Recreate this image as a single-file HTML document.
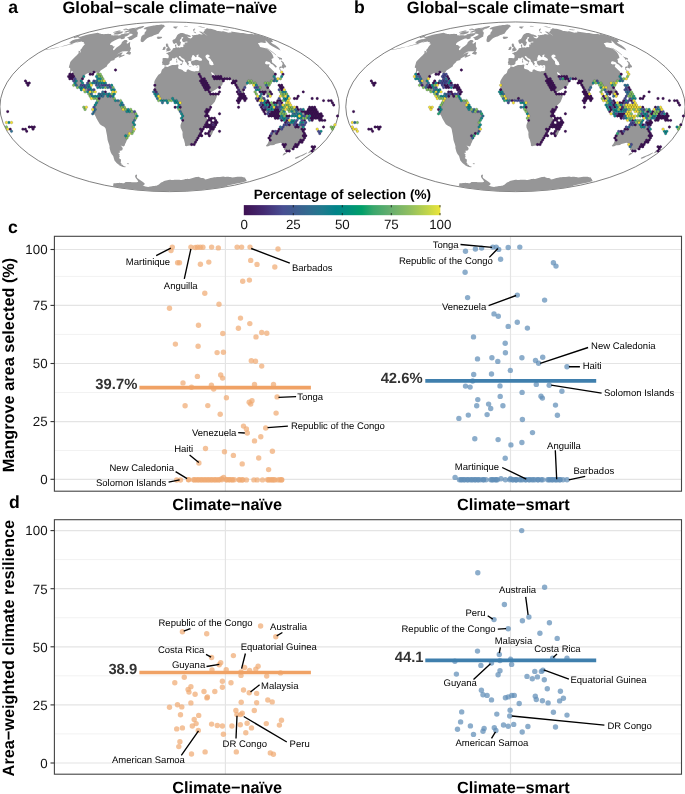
<!DOCTYPE html>
<html><head><meta charset="utf-8"><title>Figure</title>
<style>
html,body{margin:0;padding:0;background:#fff;}
svg{display:block;font-family:"Liberation Sans", sans-serif;will-change:transform;}
text{text-rendering:geometricPrecision;}
.b{font-weight:bold;}
.tk{font-size:13.33px;fill:#151515;}
.lb{font-size:9.5px;fill:#000;}
.ax{font-size:16.3px;font-weight:bold;fill:#000;}
.mn{font-size:14.8px;font-weight:bold;fill:#333;}
</style></head><body>
<svg width="685" height="794" viewBox="0 0 685 794">
<rect width="685" height="794" fill="#fff"/>
<defs><g id="land"><path d="M78.9,37.2 86.1,35.0 89.2,34.3 92.2,33.7 95.0,33.2 97.8,32.7 98.2,32.9 98.6,33.0 99.1,33.2 99.5,33.4 100.1,33.6 100.7,33.8 101.4,34.0 102.1,34.1 102.9,34.1 103.7,34.2 105.3,34.0 106.8,33.9 108.4,33.7 108.9,34.1 110.0,34.1 111.2,34.1 111.2,34.7 111.3,35.3 112.4,35.3 113.5,35.4 114.9,35.3 116.4,35.3 117.5,35.3 118.6,35.4 119.9,35.3 121.2,35.1 127.2,32.3 124.9,34.1 125.3,34.5 125.6,34.9 128.1,34.1 129.8,34.1 127.1,36.1 124.2,36.9 121.4,38.2 119.1,38.6 115.1,40.3 111.9,42.1 110.5,43.3 110.0,44.9 111.2,45.1 112.4,45.3 113.3,46.4 114.9,46.6 113.2,48.6 113.0,50.3 114.2,50.1 116.3,47.7 119.2,45.8 121.2,43.9 122.0,42.1 124.5,40.1 126.5,40.1 127.1,40.6 127.7,41.2 126.4,43.0 127.4,43.7 130.2,41.8 130.0,44.4 130.0,46.3 130.7,47.7 131.1,49.1 130.0,50.1 127.6,51.3 126.1,51.3 124.7,51.3 122.1,51.4 119.3,53.0 116.7,54.7 120.1,52.9 122.6,52.3 122.3,53.5 121.3,54.5 121.5,55.5 124.3,54.5 124.5,55.5 121.1,57.1 118.6,58.1 119.5,56.6 118.7,56.6 115.7,57.9 114.5,59.1 114.6,60.0 112.7,60.5 110.8,61.1 110.1,62.3 108.2,63.9 107.3,64.9 106.8,66.5 105.2,67.6 103.0,68.9 100.6,70.5 99.4,72.5 99.3,74.7 98.9,77.0 98.3,77.9 97.7,77.7 97.3,75.1 97.8,73.6 97.2,72.5 95.8,72.7 94.3,72.2 92.5,72.3 92.0,73.4 90.4,73.2 88.3,73.0 86.6,73.8 84.4,75.3 83.7,77.0 81.8,80.9 81.6,83.2 82.2,84.9 83.3,85.8 85.7,85.3 87.2,84.3 88.0,82.6 90.3,82.0 91.3,82.2 90.1,84.3 89.4,85.8 88.8,86.6 87.9,88.4 89.0,88.5 90.5,88.4 92.2,88.7 92.8,89.4 92.1,91.7 91.7,93.5 91.6,94.3 92.5,95.8 93.3,96.5 94.8,96.1 95.8,95.8 97.1,96.7 96.5,98.4 96.1,97.2 95.2,96.6 94.3,98.3 93.2,97.9 91.9,97.2 91.3,96.3 90.2,95.4 89.5,94.6 89.8,93.8 88.8,92.1 88.3,91.5 86.6,91.3 85.4,90.7 84.3,89.9 83.1,88.3 82.2,88.1 80.7,88.6 79.1,87.9 77.9,87.1 76.4,86.0 74.9,84.9 74.0,83.4 74.7,82.0 74.5,80.1 73.8,78.1 73.4,76.4 73.0,75.0 72.4,73.6 72.8,71.4 71.8,70.7 71.0,72.0 71.1,73.6 71.1,75.3 71.4,77.5 71.3,79.2 71.6,80.1 71.0,80.4 70.6,79.2 70.3,77.5 69.5,75.8 69.9,74.2 69.9,72.7 70.1,70.9 70.2,69.7 70.2,68.2 68.8,67.6 69.3,65.5 69.8,64.1 70.2,62.3 70.8,61.2 72.2,59.7 74.9,57.1 76.8,55.2 78.5,53.2 80.6,52.3 80.7,51.3 80.2,50.1 81.7,48.6 82.4,47.2 83.1,46.3 84.2,44.9 85.2,43.7 83.6,43.7 84.1,42.8 83.9,42.3 82.4,42.1 81.9,41.4 79.0,42.1 77.2,42.6 75.9,42.7 79.3,41.2 77.5,41.7 74.2,43.0 71.8,43.9 68.1,45.0 64.8,46.0 61.9,46.6 59.2,47.1 62.6,46.1 65.6,45.3 69.6,43.9 71.4,43.2 70.4,43.2 68.9,43.0 70.8,42.1 70.2,41.7 72.6,40.3 75.7,39.3 78.5,38.9 80.6,38.1 79.0,38.2 77.7,38.0ZM78.8,50.8 80.2,51.3 79.5,53.0 78.7,52.9 78.5,52.0ZM125.9,53.8 129.3,50.1 130.7,50.1 129.5,51.5 131.0,52.2 130.5,54.2 129.4,54.8 128.1,54.3ZM93.1,81.6 95.3,80.3 97.6,80.1 99.8,81.7 101.7,82.9 102.3,83.6 99.3,83.8 99.0,82.9 97.1,81.7 95.5,81.1ZM101.6,85.5 103.3,83.8 106.0,83.9 107.2,85.3 105.2,85.8 104.0,86.3 103.4,85.8ZM98.1,85.7 99.3,85.4 100.0,86.0 99.0,86.2ZM108.3,85.4 109.6,85.5 109.5,86.0 108.2,86.0ZM97.1,96.7 97.6,97.5 98.7,95.9 99.4,94.4 100.5,93.8 101.6,93.5 103.0,92.4 103.2,93.2 102.6,94.0 102.7,95.8 103.3,95.4 103.2,94.2 104.4,93.5 104.7,92.7 105.8,93.7 106.2,94.5 108.0,94.5 109.4,95.0 110.8,94.4 111.8,94.4 111.9,95.2 112.7,96.8 114.3,97.5 115.6,99.5 117.9,99.9 119.8,100.4 121.1,101.7 122.0,104.5 122.5,106.2 121.5,107.1 122.9,106.8 124.1,107.7 125.3,107.6 127.7,109.4 129.1,109.7 130.5,110.2 132.4,110.3 134.3,112.0 136.2,112.7 136.7,114.4 137.0,116.1 136.4,117.8 135.1,119.6 134.3,121.6 133.5,123.0 133.7,125.3 133.7,127.6 133.3,129.7 132.7,131.9 132.0,133.3 130.7,133.4 129.4,134.0 128.2,134.6 127.1,135.9 126.8,137.2 127.2,139.2 126.5,141.1 125.8,142.7 125.2,143.8 124.7,145.4 123.7,146.4 122.0,146.1 120.6,145.4 122.1,147.1 122.8,148.5 122.2,150.3 120.4,150.8 119.5,150.8 120.2,152.6 118.2,152.9 119.7,154.5 119.3,155.5 119.8,157.0 118.9,157.7 119.7,158.8 121.0,159.6 120.9,161.4 120.6,162.5 122.0,164.2 121.2,164.5 121.4,165.7 120.5,165.5 118.4,164.5 116.6,163.0 114.5,160.6 113.9,158.6 113.2,156.0 111.6,153.9 110.6,151.9 110.0,149.7 109.5,148.1 109.6,146.5 109.1,144.4 108.3,142.2 107.6,140.0 107.3,137.8 107.0,135.5 106.3,132.1 105.8,129.3 105.3,127.9 104.1,126.8 102.0,125.7 99.9,124.2 99.0,122.8 97.8,120.7 96.5,118.4 95.4,116.1 94.5,114.4 93.3,113.5 93.1,112.0 94.0,110.8 94.2,109.7 93.3,109.4 93.4,108.0 94.0,106.8 94.2,105.6 95.1,104.9 95.6,103.8 96.6,102.7 96.8,101.0 96.9,99.2 96.5,98.4ZM121.1,164.8 122.6,164.8 123.6,165.9 126.0,166.7 125.2,167.2 123.0,166.9 121.1,166.2 118.8,165.0ZM126.8,163.5 128.1,163.3 129.1,163.8 128.3,164.3 127.1,164.0ZM144.8,27.7 146.8,27.1 148.7,26.6 150.0,26.3 151.2,26.0 152.5,25.7 153.4,25.5 154.4,25.4 155.4,25.2 156.0,25.2 156.6,25.1 157.2,25.0 157.8,25.0 158.4,24.9 159.1,24.9 159.7,24.8 160.3,24.7 160.9,24.6 161.5,24.6 161.9,24.6 162.3,24.7 162.7,24.7 163.1,24.8 163.5,24.8 163.8,25.1 164.2,25.4 164.6,25.7 165.0,26.0 165.4,26.3 164.7,26.6 163.9,26.9 162.9,28.2 161.8,29.6 160.7,30.6 159.9,31.7 159.0,32.9 158.9,33.5 156.9,34.2 155.7,34.7 154.5,35.1 153.1,35.8 151.7,36.5 150.4,36.8 149.1,37.2 147.1,38.2 145.2,39.9 143.5,41.8 142.1,42.2 140.8,41.4 140.6,39.9 141.0,38.2 141.4,36.5 142.9,34.9 145.0,33.9 144.2,33.3 145.4,31.7 146.4,30.3 146.5,29.4 145.8,29.3 145.1,29.3 144.4,29.2 143.9,29.0 143.5,28.9 144.4,28.2ZM156.6,37.3 158.0,36.6 159.0,36.7 160.0,36.7 161.6,36.7 162.2,37.7 160.6,38.6 158.8,39.1 157.0,38.7 157.5,37.9ZM135.8,30.7 136.4,31.0 137.0,31.2 137.4,31.7 137.8,32.1 137.8,32.8 137.9,33.4 137.4,35.3 137.4,36.5 134.6,37.9 131.5,40.1 130.2,40.0 129.0,39.9 128.7,39.1 128.4,38.3 127.6,38.0 126.9,37.7 129.8,36.5 132.7,35.0 132.3,34.0 131.1,33.8 130.0,33.7 129.0,33.7 128.5,33.3 128.2,32.9 131.0,31.2 132.6,31.0 134.1,30.7 135.0,30.7ZM115.9,32.5 119.9,31.4 120.9,31.4 122.0,31.4 123.0,31.4 123.4,31.7 121.6,33.3 117.7,34.5 116.4,34.6 115.1,34.6 114.3,34.4 113.4,34.2 114.2,33.4ZM113.6,32.1 118.9,30.5 119.9,30.5 120.9,30.5 119.9,31.2 117.4,31.9 115.0,32.5 113.0,32.7ZM134.0,28.8 134.6,28.8 135.2,28.9 135.9,28.9 136.6,29.0 137.3,29.0 138.0,29.0 139.1,28.8 140.2,28.7 142.6,27.7 143.8,26.8 144.0,26.5 144.3,26.1 143.8,26.1 143.2,26.1 142.7,26.0 141.1,26.4 139.4,26.7 135.7,27.9ZM132.9,29.1 133.8,29.1 134.7,29.1 135.6,29.1 136.2,29.1 136.9,29.2 137.6,29.2 138.2,29.2 138.9,29.3 137.6,30.2 136.4,30.3 135.3,30.4 134.1,30.5 133.4,30.5 132.6,30.4 131.9,30.4 131.2,30.4 130.9,29.9ZM123.5,29.7 125.3,29.4 127.1,29.0 127.7,29.1 128.4,29.1 129.1,29.2 127.5,29.9 126.2,30.1 124.8,30.3 124.2,30.2 123.5,30.1ZM126.9,30.8 127.9,30.7 128.9,30.6 129.9,30.6 130.9,30.6 130.5,31.4 127.7,32.1 125.4,32.5 124.1,32.5 124.7,31.7ZM122.5,37.3 124.9,36.7 124.8,38.3 123.1,39.0 121.1,39.3 120.8,38.6ZM181.5,32.9 182.7,33.0 184.3,33.4 185.7,34.2 187.3,34.5 188.6,34.9 190.0,35.4 191.2,36.5 189.9,36.9 188.4,36.7 187.0,36.4 188.5,37.7 190.4,38.6 191.6,37.9 192.7,36.7 191.7,35.0 192.9,35.3 193.9,35.2 194.8,35.1 195.7,34.9 196.5,34.8 197.4,34.7 198.3,34.6 199.0,33.9 200.3,34.2 201.6,34.5 202.8,34.6 201.4,33.3 199.1,31.7 199.8,31.4 201.5,31.7 204.3,33.7 206.1,34.9 207.6,35.7 204.7,33.7 202.4,31.7 204.2,31.9 203.7,31.0 204.5,30.8 205.3,30.6 204.3,29.9 204.7,29.6 205.0,29.4 205.5,29.2 206.0,29.1 206.5,29.0 206.5,28.7 206.4,28.4 206.3,28.1 208.9,28.7 210.3,28.8 211.8,29.0 216.8,30.6 215.7,30.8 216.6,30.8 217.6,30.9 218.6,30.9 220.2,31.2 221.9,31.4 222.6,31.3 223.4,31.2 228.7,32.7 229.7,32.5 230.6,32.5 231.5,32.5 231.4,31.9 231.2,31.6 232.7,31.7 234.3,31.9 236.1,32.2 237.9,32.5 240.7,33.0 242.0,33.0 243.2,33.0 246.6,33.8 248.1,33.9 249.7,34.1 250.5,33.9 251.4,33.8 253.8,34.5 254.3,34.2 254.8,34.0 256.7,34.3 258.5,34.5 267.7,37.6 268.3,38.2 273.0,39.6 272.1,40.1 272.3,40.6 272.5,41.2 273.3,42.1 272.1,42.1 270.9,42.1 272.2,43.5 275.5,45.3 277.8,46.9 279.4,48.6 280.5,50.4 277.4,49.1 272.3,46.3 269.6,44.4 267.2,42.1 265.5,40.5 265.3,41.0 265.9,41.8 266.3,42.6 265.4,42.7 264.4,43.0 261.8,42.5 260.8,42.6 259.9,42.7 258.9,42.9 257.9,43.0 258.6,44.2 259.3,45.3 260.1,46.9 263.6,47.7 266.4,48.6 268.5,50.1 270.8,52.0 272.2,54.0 273.1,56.1 273.6,57.9 272.4,58.6 271.4,59.1 272.1,60.7 271.9,61.7 272.2,62.6 274.9,64.4 276.9,66.4 276.1,67.4 275.4,67.6 273.7,65.5 272.3,64.2 271.2,63.9 269.8,62.2 267.0,61.2 267.5,62.8 266.7,61.1 265.7,61.5 265.1,62.8 265.0,63.4 266.9,64.6 268.1,64.2 269.8,64.6 269.2,65.5 268.9,66.7 270.6,68.2 272.1,69.8 274.0,71.4 274.4,72.5 275.1,73.1 275.7,74.7 275.3,76.1 275.3,77.5 274.6,78.9 274.2,79.9 273.2,80.7 272.0,81.1 271.0,81.8 269.7,82.1 269.4,83.3 268.5,82.0 266.9,81.9 266.2,83.2 265.8,84.5 267.0,86.2 269.0,88.3 270.3,90.0 271.1,92.3 270.9,93.8 269.4,94.6 269.2,95.8 267.9,96.7 267.6,95.2 266.2,94.6 264.9,92.9 263.4,92.1 263.1,91.3 262.3,91.4 262.5,93.5 262.2,95.2 262.7,96.1 263.5,97.2 264.2,98.7 265.2,99.5 266.2,100.4 266.9,101.8 267.1,103.7 267.8,105.2 267.2,105.3 266.2,104.5 265.0,103.4 264.4,102.1 263.9,100.4 263.5,99.1 262.4,97.7 261.7,97.5 261.5,95.8 261.5,93.5 260.7,91.2 259.8,89.4 259.3,87.8 258.4,87.1 257.5,88.5 256.4,88.3 256.0,86.2 254.9,84.5 253.2,82.8 252.1,81.1 250.8,80.7 249.7,81.7 248.1,82.2 248.3,83.4 247.3,84.2 246.3,85.7 245.2,87.6 243.5,88.6 243.7,90.6 244.2,92.3 244.1,94.8 243.5,96.0 242.8,96.5 242.2,97.4 241.2,96.3 240.2,93.7 239.0,91.7 238.2,89.4 237.1,87.7 236.1,84.9 235.5,83.2 235.0,82.0 233.8,82.8 231.6,81.1 232.4,80.6 230.9,80.0 229.4,78.4 228.5,77.6 226.8,77.9 224.1,78.0 221.8,77.6 220.2,77.2 219.2,75.8 217.5,76.3 216.1,75.8 214.6,75.0 213.3,73.3 211.8,72.2 211.0,72.5 211.8,74.2 213.0,75.5 213.8,76.4 214.7,78.1 215.1,77.2 215.4,78.6 216.8,79.0 218.1,78.9 219.0,77.0 219.8,78.6 220.9,79.5 222.2,79.9 223.3,80.9 222.8,82.9 222.2,84.9 221.2,86.0 220.0,87.1 217.9,88.1 215.7,89.4 213.6,90.8 211.4,92.0 210.0,92.1 209.3,90.0 208.7,87.7 207.5,85.7 205.8,83.4 204.7,81.7 204.0,79.8 202.6,77.7 201.2,75.8 200.1,74.5 199.8,74.7 199.8,73.1 199.5,74.7 198.8,74.4 197.7,72.5 197.2,71.1 198.7,71.1 199.2,69.8 199.4,67.6 199.2,65.5 197.9,65.1 196.4,65.8 194.8,65.1 193.5,65.7 192.1,64.9 191.1,63.3 191.0,62.3 190.5,61.5 191.5,61.2 192.6,60.7 194.1,60.5 195.9,59.7 197.5,60.0 199.3,60.7 201.3,60.7 202.3,60.1 201.4,58.6 199.5,57.3 198.1,56.6 198.5,55.3 198.5,54.3 197.2,55.0 196.0,55.9 197.0,56.6 195.6,57.2 194.5,56.1 193.5,55.0 192.4,55.2 192.1,56.3 191.6,57.6 191.3,58.8 191.8,60.2 190.4,60.9 188.6,61.0 188.4,61.7 187.7,61.4 188.4,62.8 189.1,63.6 188.4,64.4 188.7,65.5 188.0,65.5 187.2,64.4 186.5,62.8 185.1,61.4 184.8,59.9 184.0,59.1 181.9,58.0 180.6,56.4 179.9,56.0 178.9,56.3 179.1,57.4 180.1,58.1 180.9,59.3 182.2,59.9 184.4,61.5 183.1,61.2 183.0,62.8 182.7,63.9 182.4,63.9 182.6,62.5 181.8,61.5 180.7,60.9 179.4,60.2 177.8,58.7 177.4,57.7 176.3,57.2 175.4,57.8 174.3,58.5 172.7,58.1 172.0,59.1 172.1,59.9 170.2,60.9 169.4,62.3 169.8,63.1 169.0,64.3 168.0,65.1 165.9,65.2 165.0,66.0 164.3,65.1 163.5,64.7 162.3,64.9 162.5,63.3 161.9,63.0 162.6,60.7 162.5,58.6 163.4,57.9 165.4,58.1 167.3,58.2 168.3,58.2 168.7,56.9 168.7,55.5 167.7,54.2 166.3,53.6 166.2,53.0 167.4,52.7 168.5,52.8 168.3,51.8 169.6,52.1 170.7,51.4 171.4,50.5 172.1,50.2 172.7,49.1 173.0,48.3 174.4,48.1 175.4,47.9 175.4,46.7 174.9,45.3 175.2,44.7 176.3,44.2 176.3,45.5 176.2,46.4 176.9,47.7 177.7,47.5 178.7,47.3 179.3,47.8 180.7,47.2 182.0,47.0 182.9,47.3 183.5,46.4 183.2,44.9 183.9,44.2 185.2,44.6 184.9,43.7 184.2,42.8 185.6,42.5 186.8,42.5 187.9,42.1 186.8,41.5 185.3,41.8 183.7,42.2 182.5,41.5 182.1,40.3 181.9,39.3 182.9,38.2 183.4,37.6 182.5,37.1 181.5,37.2 181.5,38.3 180.5,39.3 179.9,40.3 179.9,41.4 181.1,42.1 180.7,43.2 180.2,44.9 180.0,45.6 179.1,45.8 178.2,46.3 177.9,45.5 176.7,43.5 176.1,42.7 175.2,43.4 174.3,43.9 173.2,43.3 172.6,41.7 172.5,40.3 173.6,39.5 175.0,38.9 175.7,37.9 176.3,36.9 177.0,35.5 177.6,34.7 178.5,33.9 179.6,33.6 180.6,33.1ZM165.7,51.5 167.1,51.3 168.9,50.9 170.5,50.4 170.8,48.9 169.8,48.6 169.5,47.5 168.6,46.5 168.2,45.8 168.3,44.4 167.4,44.2 167.7,43.4 166.5,43.4 165.8,44.4 166.0,45.8 166.4,46.9 167.5,46.9 167.6,48.1 166.5,48.4 166.5,49.3 166.0,49.8 167.1,50.2 166.4,50.6ZM162.6,49.9 164.0,50.0 165.2,49.4 165.5,48.1 165.7,46.9 164.6,46.4 163.9,47.2 162.9,47.5 163.1,48.6 162.4,49.4ZM173.0,26.8 173.6,26.7 174.2,26.6 174.9,26.5 175.6,26.4 176.2,26.4 176.8,26.4 177.4,26.4 178.2,26.9 177.7,27.1 177.2,27.3 176.7,27.5 176.2,28.7 175.1,28.5 173.7,27.7ZM193.2,32.7 194.6,32.9 196.3,33.2 195.3,32.1 193.5,31.2 193.2,30.3 193.3,29.7 193.3,29.2 193.7,29.0 194.1,28.8 194.5,28.6 195.4,29.0 195.1,29.3 194.7,29.6 194.3,29.9 194.3,30.5 194.2,31.0 194.9,32.1 194.6,32.4ZM200.7,27.2 197.4,26.0 199.1,26.3 200.8,26.6 202.6,26.9 205.3,27.7 204.8,27.8 204.2,27.9 202.4,27.5ZM223.6,29.7 223.0,29.2 224.2,29.3 225.4,29.5 226.6,29.6 227.8,29.7 228.9,29.8 229.0,30.1 228.1,30.2 227.3,30.2 226.4,30.2ZM251.7,32.7 251.6,32.5 253.5,33.0 252.8,33.0ZM183.8,26.4 184.1,26.2 184.4,26.1 184.8,25.9 185.0,25.8 185.8,25.9 186.6,25.9 187.4,26.0 188.0,26.6 187.4,26.6 186.8,26.6 186.2,26.6 185.6,26.6 184.7,26.5ZM265.2,47.4 267.7,48.6 272.1,51.5 275.8,54.5 276.3,55.5 273.8,53.5 269.9,50.6 266.9,48.6ZM279.9,60.2 279.0,58.6 276.8,56.2 279.1,57.3 282.0,58.3 282.1,59.7 280.2,59.3ZM281.1,60.4 283.6,62.3 284.3,63.9 286.0,66.0 286.2,67.1 285.2,67.4 284.1,67.5 283.7,68.7 281.7,67.6 280.4,68.2 279.5,68.2 281.1,70.3 280.8,71.1 279.3,69.2 279.1,67.8 280.0,66.5 282.0,66.4 281.9,64.9 282.7,64.4 282.3,62.8 280.9,61.2ZM277.3,80.3 276.8,77.9 277.7,78.1 278.3,80.3 278.3,81.5ZM268.5,84.6 269.4,83.7 270.5,84.2 270.0,85.7 268.9,85.4ZM244.2,95.5 244.8,95.8 246.3,98.1 246.1,99.5 245.1,99.9 244.3,98.1ZM179.8,63.9 182.2,63.6 182.0,65.2 180.0,64.4ZM176.2,60.7 177.1,60.5 177.4,62.6 176.5,62.8ZM176.3,59.2 176.9,58.6 177.1,60.2 176.5,60.2ZM189.1,66.4 191.5,66.7 191.3,67.1 189.2,66.9ZM196.5,67.0 198.2,66.4 197.9,67.2 196.8,67.5ZM164.7,66.2 167.5,66.9 169.6,66.1 172.1,65.0 173.7,65.0 175.3,64.9 177.8,64.6 178.6,65.1 178.3,66.5 178.1,67.9 179.0,68.9 180.6,69.3 182.5,70.0 183.7,71.2 185.5,72.1 186.7,71.4 186.7,69.9 188.2,69.3 190.0,70.3 191.8,70.9 194.5,71.5 196.1,70.9 197.2,71.2 197.7,72.5 198.8,74.7 200.0,77.0 201.2,79.2 201.7,80.9 203.0,82.6 203.6,84.9 204.8,86.0 206.0,88.9 207.5,90.0 209.0,91.7 209.9,92.9 209.9,93.5 211.6,94.6 213.4,93.8 215.2,93.7 217.2,93.0 217.2,94.7 216.5,97.5 215.6,99.8 214.8,101.8 212.9,103.9 211.1,105.6 209.2,108.0 208.2,109.1 207.5,110.3 206.8,112.3 206.2,114.1 206.6,116.1 206.8,118.4 207.3,119.6 207.2,123.0 206.7,125.3 204.9,126.8 203.2,128.2 201.6,130.4 201.5,132.7 201.2,134.4 198.8,136.1 198.4,137.8 197.7,139.8 196.3,141.1 195.2,142.7 193.3,144.4 191.9,145.3 190.1,145.6 188.0,145.7 186.3,146.3 185.1,145.7 185.0,143.8 184.4,141.6 183.9,139.6 182.9,137.8 182.5,134.4 182.6,132.1 181.7,129.9 180.6,127.6 180.5,125.3 181.2,123.0 182.3,120.7 182.4,119.0 181.8,117.3 181.2,114.0 180.7,112.0 179.0,110.1 178.1,108.0 178.6,106.2 178.6,104.5 178.8,103.1 178.1,102.1 177.1,101.6 175.7,101.8 174.8,100.8 173.8,99.5 171.9,99.5 170.5,99.8 168.7,100.8 166.8,101.0 164.9,100.9 162.5,101.7 161.1,100.8 159.3,99.1 157.9,98.1 157.2,96.3 156.1,94.6 155.2,93.5 154.1,92.3 154.0,90.8 153.4,89.8 154.4,88.3 154.8,86.0 154.8,84.3 154.2,82.6 154.5,81.1 155.3,79.4 156.5,77.5 157.7,75.8 158.4,74.7 160.0,73.8 161.0,72.7 161.3,71.4 162.0,69.6 163.3,68.5 164.2,67.8ZM215.4,120.7 215.9,124.7 214.9,127.0 213.5,130.4 211.9,134.4 210.8,135.7 209.4,136.1 208.7,135.0 208.7,132.7 209.8,129.9 209.8,127.6 210.5,125.5 212.4,125.0 214.1,122.4ZM271.7,132.7 272.4,131.9 274.5,130.8 277.0,130.2 279.6,129.3 281.4,127.6 281.7,126.5 282.8,126.8 283.6,125.7 285.6,123.6 287.1,123.0 288.2,123.9 289.1,124.1 289.9,122.4 291.1,121.2 292.8,120.7 293.2,120.0 295.1,120.9 296.8,120.9 295.6,122.4 294.7,123.9 295.7,125.1 297.1,126.5 298.2,127.1 300.2,124.2 301.1,121.6 302.5,119.3 302.9,121.3 302.5,123.4 303.7,124.2 303.3,127.0 302.8,128.7 303.9,129.9 304.1,132.1 304.9,132.7 304.3,134.2 305.0,136.1 303.8,138.3 302.8,140.0 300.7,142.2 298.5,144.1 296.5,145.4 294.7,147.1 292.4,148.9 291.5,149.4 289.5,149.7 287.5,150.8 287.1,150.0 285.5,150.6 284.4,150.1 283.9,149.2 284.9,147.6 284.9,146.3 284.1,146.7 285.9,144.6 284.6,145.4 283.1,146.3 282.7,146.0 283.2,144.1 282.0,143.3 280.6,142.8 277.6,143.5 275.5,144.0 274.1,144.9 272.1,145.3 270.4,145.3 268.3,146.3 266.7,146.5 265.9,145.8 267.6,143.8 268.6,141.6 269.3,139.4 269.6,137.0 270.5,135.0ZM284.3,152.7 285.4,153.0 287.1,152.7 285.4,154.3 283.1,155.5 282.5,155.2 283.4,153.9ZM314.0,146.0 313.7,147.6 314.0,148.4 313.6,149.5 315.2,149.3 312.3,151.1 310.2,152.4 307.5,153.5 308.2,152.7 309.5,151.6 309.5,151.0 311.7,149.7 312.8,148.5ZM306.8,152.5 307.2,153.1 304.5,154.8 302.7,155.7 300.4,156.5 297.9,158.1 295.7,158.7 294.8,158.3 295.5,157.5 298.6,156.2 301.8,155.0 304.3,153.7ZM293.1,107.7 295.0,107.3 296.1,107.7 296.1,109.7 297.2,110.6 298.7,109.1 300.1,108.9 302.4,109.8 304.3,110.8 305.6,111.3 306.9,113.0 308.3,113.8 307.8,114.7 308.3,116.1 309.4,117.5 310.3,118.8 308.7,118.8 307.4,118.4 306.3,116.8 305.1,115.7 304.0,116.4 303.3,117.5 301.5,117.4 300.3,116.2 298.9,116.4 299.1,114.9 299.9,114.5 299.3,113.2 298.0,112.1 296.2,111.5 294.8,111.5 294.6,110.1 294.0,109.4 293.1,108.4ZM272.3,104.9 273.3,104.8 274.5,103.9 276.0,103.1 276.9,101.6 278.2,100.4 279.2,98.7 280.1,99.2 281.7,100.6 280.7,101.8 280.4,103.1 280.8,104.2 281.7,105.6 280.6,106.0 280.4,107.7 279.4,109.1 279.0,110.9 277.6,111.6 276.5,110.6 274.9,110.9 273.4,110.1 273.3,108.5 272.5,107.4 272.4,106.2ZM259.2,100.3 261.3,100.8 262.5,102.4 264.2,103.9 265.5,104.7 267.0,106.2 267.5,108.0 268.5,109.4 269.4,110.5 269.0,113.5 267.9,113.5 266.5,112.4 265.2,110.6 264.3,109.1 263.7,107.4 262.7,105.3 261.5,103.9 260.5,102.5 259.3,101.2ZM268.3,114.7 269.7,113.8 271.5,114.5 273.7,114.2 275.4,114.8 276.9,115.9 276.7,116.9 274.5,116.6 272.2,115.9 270.4,115.7 269.3,115.4ZM282.5,105.9 283.5,105.3 285.6,105.6 287.4,104.8 287.0,106.3 284.6,106.2 283.2,106.8 282.8,107.8 284.1,107.8 285.8,107.8 284.6,108.9 285.0,110.6 285.4,111.8 284.8,112.6 284.2,112.0 283.6,110.3 282.9,112.4 282.8,113.3 281.9,113.2 282.1,110.9 281.5,109.9 282.1,108.2ZM284.1,98.7 285.2,96.7 286.9,95.4 288.1,97.5 288.1,99.5 287.6,100.2 286.1,99.5 285.9,98.1 284.5,98.1ZM280.3,88.3 279.6,85.4 281.1,85.4 281.9,87.7 281.7,89.4 282.5,90.6 284.6,91.7 284.8,92.3 283.1,91.2 281.7,90.9 281.0,90.0 280.3,89.4ZM283.1,93.1 284.3,93.5 285.7,92.3 286.8,94.0 286.3,95.2 285.3,94.6 284.6,96.1 284.0,95.2 283.4,94.6ZM279.3,96.9 280.9,93.8 281.3,94.6 279.9,96.9ZM284.9,118.8 286.5,117.3 288.7,116.6 287.9,117.5 285.8,118.6ZM277.8,116.3 279.2,116.4 281.1,116.4 282.9,116.6 284.8,116.4 284.5,117.0 281.9,117.1 280.5,117.1 278.9,117.3 277.8,116.9ZM289.8,104.7 290.2,104.2 290.9,105.6 290.3,107.7 290.0,106.5ZM290.2,110.3 292.8,110.3 292.5,111.2 290.3,110.9ZM309.0,113.2 311.1,112.8 312.9,111.7 312.7,112.8 311.0,114.0 309.1,113.8ZM318.3,130.0 319.1,131.0 319.7,132.5 319.0,132.5 318.2,131.0ZM169.6,191.6 148.6,191.0 136.4,190.0 126.2,188.8 117.2,187.5 109.0,186.1 109.7,186.0 110.3,186.0 110.9,186.0 111.6,186.0 112.2,186.0 112.8,186.0 113.5,185.9 113.3,185.7 113.1,185.5 112.9,185.3 113.1,185.1 113.3,185.0 113.4,184.9 113.7,184.7 113.3,184.4 113.0,184.0 113.2,183.9 113.3,183.7 113.6,183.5 113.8,183.3 114.6,183.3 115.4,183.2 116.2,183.2 116.8,183.1 117.4,183.0 118.1,183.0 118.7,182.9 119.3,182.8 120.5,182.9 121.7,183.1 122.8,183.2 124.0,183.3 124.3,183.1 124.7,182.8 125.1,182.6 125.3,182.2 125.6,181.9 126.6,181.9 127.6,182.0 128.6,182.0 129.6,182.1 130.7,182.1 131.8,182.2 132.9,182.2 133.9,182.2 134.9,182.2 135.9,182.2 136.7,182.2 137.5,182.1 138.3,182.1 137.9,181.2 137.6,180.3 135.9,178.3 135.1,176.7 135.4,175.0 136.8,174.4 137.1,175.7 136.7,176.7 137.2,177.9 140.0,179.9 143.3,182.2 144.9,183.7 144.6,184.0 144.4,184.4 144.2,184.7 144.1,185.1 143.7,185.2 143.3,185.4 143.0,185.6 142.6,185.7 144.0,186.1 145.4,186.4 146.8,186.7 148.1,187.0 148.5,186.9 148.9,186.8 149.4,186.7 149.8,186.6 150.3,186.5 150.8,186.5 151.2,186.4 151.7,186.3 152.3,186.2 152.8,186.1 153.4,186.0 154.0,186.0 154.6,185.9 155.2,185.8 155.8,185.8 156.5,185.7 156.9,185.5 157.4,185.3 157.9,185.1 158.4,184.7 158.9,184.4 159.4,184.0 160.0,183.6 160.5,183.1 161.1,182.6 161.8,182.2 162.6,181.9 163.3,181.5 164.1,181.1 165.0,180.7 166.1,180.5 167.2,180.3 168.4,180.1 169.6,179.8 170.6,179.8 171.5,179.9 172.5,179.9 173.4,179.9 174.4,179.8 175.4,179.8 176.3,179.7 177.3,179.7 178.3,179.7 179.4,179.8 180.5,179.9 181.6,179.9 182.8,179.7 184.1,179.4 185.4,179.1 186.5,178.9 187.6,178.7 188.5,178.9 189.3,179.1 191.0,178.5 192.7,177.9 194.3,177.5 196.0,177.1 197.2,176.9 198.5,176.7 199.2,177.1 199.8,177.5 200.6,177.7 201.5,177.9 202.6,178.1 203.8,178.2 204.6,178.7 205.0,179.5 206.3,179.3 207.5,179.1 210.5,178.1 212.3,177.7 214.2,177.3 215.7,177.2 217.1,177.1 218.5,177.0 220.0,176.9 221.7,176.7 223.3,176.5 224.3,176.7 225.3,176.9 226.8,176.8 228.4,176.7 229.4,176.9 230.3,177.1 231.4,177.2 232.4,177.4 234.2,177.2 235.9,176.9 237.5,176.8 239.1,176.7 240.4,176.7 241.8,176.7 242.5,176.9 243.3,177.2 244.2,177.4 245.1,177.5 245.2,178.0 245.2,178.5 245.6,178.8 246.0,179.1 246.1,179.5 246.1,179.9 246.3,180.2 246.5,180.6 246.8,180.8 247.0,181.1 242.1,182.6 238.2,183.3 234.4,184.0 227.8,185.4 227.3,185.7 226.8,185.9 227.3,186.0 227.9,186.0 228.5,186.0 229.0,186.0 229.6,186.0 230.2,186.1 222.0,187.5 213.0,188.8 202.8,190.0 190.6,191.0 169.6,191.6 169.6,191.6 169.6,191.6 169.6,191.6 169.6,191.6 169.6,191.6 169.6,191.6 169.6,191.6 169.6,191.6 169.6,191.6 169.6,191.6 169.6,191.6 169.6,191.6 169.6,191.6 169.6,191.6 169.6,191.6 169.6,191.6 169.6,191.6 169.6,191.6 169.6,191.6 169.6,191.6 169.6,191.6 169.6,191.6 169.6,191.6 169.6,191.6 169.6,191.6 169.6,191.6 169.6,191.6 169.6,191.6 169.6,191.6 169.6,191.6 169.6,191.6 169.6,191.6 169.6,191.6 169.6,191.6 169.6,191.6 169.6,191.6 169.6,191.6 169.6,191.6 169.6,191.6 169.6,191.6 169.6,191.6 169.6,191.6 169.6,191.6 169.6,191.6 169.6,191.6 169.6,191.6 169.6,191.6 169.6,191.6 169.6,191.6 169.6,191.6 169.6,191.6 169.6,191.6 169.6,191.6 169.6,191.6 169.6,191.6 169.6,191.6 169.6,191.6 169.6,191.6 169.6,191.6 169.6,191.6 169.6,191.6 169.6,191.6 169.6,191.6 169.6,191.6 169.6,191.6 169.6,191.6 169.6,191.6 169.6,191.6 169.6,191.6 169.6,191.6 169.6,191.6 169.6,191.6 169.6,191.6 169.6,191.6 169.6,191.6 169.6,191.6 169.6,191.6 169.6,191.6 169.6,191.6 169.6,191.6 169.6,191.6 169.6,191.6 169.6,191.6 169.6,191.6 169.6,191.6 169.6,191.6 169.6,191.6 169.6,191.6 169.6,191.6 169.6,191.6 169.6,191.6 169.6,191.6 169.6,191.6 169.6,191.6 169.6,191.6 169.6,191.6 169.6,191.6 169.6,191.6 169.6,191.6 169.6,191.6 169.6,191.6 169.6,191.6 169.6,191.6 169.6,191.6 169.6,191.6 169.6,191.6 169.6,191.6 169.6,191.6 169.6,191.6 169.6,191.6 169.6,191.6 169.6,191.6 169.6,191.6 169.6,191.6 169.6,191.6 169.6,191.6 169.6,191.6 169.6,191.6 169.6,191.6 169.6,191.6 169.6,191.6 169.6,191.6 169.6,191.6 169.6,191.6 169.6,191.6 169.6,191.6 169.6,191.6 169.6,191.6 169.6,191.6 169.6,191.6 169.6,191.6 169.6,191.6 169.6,191.6 169.6,191.6 169.6,191.6 169.6,191.6 169.6,191.6 169.6,191.6 169.6,191.6 169.6,191.6 169.6,191.6 169.6,191.6 169.6,191.6 169.6,191.6 169.6,191.6 169.6,191.6 169.6,191.6 169.6,191.6 169.6,191.6 169.6,191.6 169.6,191.6 169.6,191.6 169.6,191.6 169.6,191.6 169.6,191.6 169.6,191.6 169.6,191.6 169.6,191.6 169.6,191.6 169.6,191.6 169.6,191.6 169.6,191.6 169.6,191.6 169.6,191.6 169.6,191.6 169.6,191.6 169.6,191.6 169.6,191.6 169.6,191.6 169.6,191.6 169.6,191.6 169.6,191.6 169.6,191.6 169.6,191.6 169.6,191.6 169.6,191.6 169.6,191.6 169.6,191.6 169.6,191.6ZM80.7,34.5 80.6,35.0 80.0,35.5 79.5,36.1 78.7,36.9 74.0,38.2 73.9,37.5 74.2,36.9 71.5,37.6ZM58.7,47.3 55.0,48.2 52.8,48.7 50.5,49.2 48.5,49.5 46.5,49.9 44.9,50.0 43.2,50.2 44.4,49.5 46.1,49.4 47.7,49.2 49.7,48.9 51.7,48.5 54.0,48.1 56.2,47.6 59.7,46.7ZM70.4,44.7 73.1,43.9 72.2,44.6 69.9,45.1ZM125.6,31.4 128.5,30.6 127.7,31.4 125.0,32.5 124.1,32.3ZM120.6,34.5 122.9,33.8 122.5,34.5 120.9,34.9ZM123.0,29.2 125.2,28.8 127.3,28.3 126.3,28.9 123.8,29.4ZM129.0,29.6 130.7,29.2 132.5,28.8 132.4,29.2 130.5,29.9 129.3,29.9ZM130.7,29.5 131.6,29.5 132.4,29.5 133.2,29.4 134.1,29.4 134.9,29.4 135.7,29.4 136.3,29.4 136.9,29.5 137.6,29.6 138.2,29.6 136.5,30.9 135.0,31.1 133.6,31.2 132.5,31.4 131.3,31.5 130.2,31.7 129.4,31.6 128.6,31.6 127.8,31.5 127.4,31.3 127.0,31.1 126.5,30.9ZM130.7,28.4 131.8,28.2 132.9,28.1 134.1,28.0 135.2,27.8 136.3,27.7 135.6,28.2 135.0,28.7 133.5,29.0 132.0,29.3 130.4,29.6 129.7,29.6 129.0,29.6 128.3,29.6 127.5,29.5 126.8,29.5ZM126.8,33.3 128.0,33.2 129.3,33.2 128.7,34.1 127.0,34.6 125.2,35.1 124.9,34.7 124.7,34.2Z" fill="#969697"/><path d="M206.2,55.0 207.5,54.5 209.2,55.0 209.9,56.6 208.6,57.1 208.1,57.3 210.5,59.1 211.5,60.7 212.9,62.3 213.7,64.9 211.5,65.2 209.6,64.4 209.1,62.8 209.1,61.2 206.8,59.1 205.5,57.1 205.5,56.1Z" fill="#fff"/></g>
<clipPath id="ell"><ellipse cx="169.6" cy="106.8" rx="169.7" ry="84.85"/></clipPath>
<linearGradient id="vir" x1="0" x2="1" y1="0" y2="0">
<stop offset="0.000" stop-color="#3e1152"/>
<stop offset="0.100" stop-color="#442a72"/>
<stop offset="0.200" stop-color="#484f93"/>
<stop offset="0.250" stop-color="#40598f"/>
<stop offset="0.330" stop-color="#326b90"/>
<stop offset="0.400" stop-color="#1f7a8e"/>
<stop offset="0.470" stop-color="#008489"/>
<stop offset="0.530" stop-color="#008f7c"/>
<stop offset="0.600" stop-color="#009f69"/>
<stop offset="0.660" stop-color="#3aa76c"/>
<stop offset="0.750" stop-color="#68ae6e"/>
<stop offset="0.850" stop-color="#93c05f"/>
<stop offset="0.930" stop-color="#bfd44b"/>
<stop offset="1.000" stop-color="#ebe53a"/>
</linearGradient></defs>
<g transform="translate(0.00,0)">
<ellipse cx="169.6" cy="106.8" rx="169.7" ry="84.85" fill="#fff" stroke="#3a3a3a" stroke-width="0.65"/>
<g clip-path="url(#ell)"><use href="#land"/></g>
<path d="M93.95,70.65L95.22,71.39L95.22,72.86L93.95,73.59L92.67,72.86L92.67,71.39ZM69.84,72.85L71.12,73.58L71.12,75.05L69.84,75.79L68.57,75.05L68.57,73.58ZM72.38,72.85L73.65,73.58L73.65,75.05L72.38,75.79L71.11,75.05L71.11,73.58ZM90.14,72.85L91.41,73.58L91.41,75.05L90.14,75.79L88.87,75.05L88.87,73.58ZM92.68,72.85L93.95,73.58L93.95,75.05L92.68,75.79L91.40,75.05L91.40,73.58ZM68.58,75.04L69.85,75.78L69.85,77.25L68.58,77.98L67.30,77.25L67.30,75.78ZM71.11,75.04L72.39,75.78L72.39,77.25L71.11,77.98L69.84,77.25L69.84,75.78ZM73.65,75.04L74.92,75.78L74.92,77.25L73.65,77.98L72.38,77.25L72.38,75.78ZM69.84,77.23L71.12,77.97L71.12,79.44L69.84,80.17L68.57,79.44L68.57,77.97ZM72.38,77.23L73.65,77.97L73.65,79.44L72.38,80.17L71.11,79.44L71.11,77.97ZM82.53,77.23L83.80,77.97L83.80,79.44L82.53,80.17L81.26,79.44L81.26,77.97ZM88.87,79.43L90.14,80.16L90.14,81.63L88.87,82.37L87.60,81.63L87.60,80.16ZM105.36,90.40L106.64,91.13L106.64,92.60L105.36,93.34L104.09,92.60L104.09,91.13ZM99.02,96.98L100.29,97.71L100.29,99.18L99.02,99.92L97.75,99.18L97.75,97.71ZM115.51,68.46L116.78,69.20L116.78,70.67L115.51,71.40L114.24,70.67L114.24,69.20ZM154.83,83.81L156.11,84.55L156.11,86.02L154.83,86.75L153.56,86.02L153.56,84.55ZM154.83,88.20L156.11,88.94L156.11,90.41L154.83,91.14L153.56,90.41L153.56,88.94ZM175.13,105.75L176.40,106.48L176.40,107.95L175.13,108.69L173.86,107.95L173.86,106.48ZM180.20,105.75L181.48,106.48L181.48,107.95L180.20,108.69L178.93,107.95L178.93,106.48ZM210.65,105.75L211.92,106.48L211.92,107.95L210.65,108.69L209.37,107.95L209.37,106.48ZM206.84,107.94L208.12,108.68L208.12,110.15L206.84,110.88L205.57,110.15L205.57,108.68ZM209.38,107.94L210.65,108.68L210.65,110.15L209.38,110.88L208.11,110.15L208.11,108.68ZM205.57,110.14L206.85,110.87L206.85,112.34L205.57,113.08L204.30,112.34L204.30,110.87ZM208.11,110.14L209.38,110.87L209.38,112.34L208.11,113.08L206.84,112.34L206.84,110.87ZM206.84,112.33L208.12,113.07L208.12,114.54L206.84,115.27L205.57,114.54L205.57,113.07ZM205.57,114.52L206.85,115.26L206.85,116.73L205.57,117.46L204.30,116.73L204.30,115.26ZM208.11,114.52L209.38,115.26L209.38,116.73L208.11,117.46L206.84,116.73L206.84,115.26ZM209.38,116.72L210.65,117.45L210.65,118.92L209.38,119.66L208.11,118.92L208.11,117.45ZM211.92,116.72L213.19,117.45L213.19,118.92L211.92,119.66L210.64,118.92L210.64,117.45ZM214.45,116.72L215.73,117.45L215.73,118.92L214.45,119.66L213.18,118.92L213.18,117.45ZM182.74,118.91L184.01,119.65L184.01,121.12L182.74,121.85L181.47,121.12L181.47,119.65ZM208.11,118.91L209.38,119.65L209.38,121.12L208.11,121.85L206.84,121.12L206.84,119.65ZM210.65,118.91L211.92,119.65L211.92,121.12L210.65,121.85L209.37,121.12L209.37,119.65ZM215.72,118.91L216.99,119.65L216.99,121.12L215.72,121.85L214.45,121.12L214.45,119.65ZM206.84,121.10L208.12,121.84L208.12,123.31L206.84,124.04L205.57,123.31L205.57,121.84ZM211.92,121.10L213.19,121.84L213.19,123.31L211.92,124.04L210.64,123.31L210.64,121.84ZM214.45,121.10L215.73,121.84L215.73,123.31L214.45,124.04L213.18,123.31L213.18,121.84ZM216.99,121.10L218.26,121.84L218.26,123.31L216.99,124.04L215.72,123.31L215.72,121.84ZM205.57,123.30L206.85,124.03L206.85,125.50L205.57,126.24L204.30,125.50L204.30,124.03ZM208.11,123.30L209.38,124.03L209.38,125.50L208.11,126.24L206.84,125.50L206.84,124.03ZM210.65,123.30L211.92,124.03L211.92,125.50L210.65,126.24L209.37,125.50L209.37,124.03ZM215.72,123.30L216.99,124.03L216.99,125.50L215.72,126.24L214.45,125.50L214.45,124.03ZM204.31,125.49L205.58,126.23L205.58,127.70L204.31,128.43L203.03,127.70L203.03,126.23ZM206.84,125.49L208.12,126.23L208.12,127.70L206.84,128.43L205.57,127.70L205.57,126.23ZM209.38,125.49L210.65,126.23L210.65,127.70L209.38,128.43L208.11,127.70L208.11,126.23ZM211.92,125.49L213.19,126.23L213.19,127.70L211.92,128.43L210.64,127.70L210.64,126.23ZM214.45,125.49L215.73,126.23L215.73,127.70L214.45,128.43L213.18,127.70L213.18,126.23ZM200.50,127.68L201.77,128.42L201.77,129.89L200.50,130.62L199.23,129.89L199.23,128.42ZM203.04,127.68L204.31,128.42L204.31,129.89L203.04,130.62L201.76,129.89L201.76,128.42ZM210.65,127.68L211.92,128.42L211.92,129.89L210.65,130.62L209.37,129.89L209.37,128.42ZM213.18,127.68L214.46,128.42L214.46,129.89L213.18,130.62L211.91,129.89L211.91,128.42ZM201.77,129.88L203.04,130.61L203.04,132.08L201.77,132.82L200.49,132.08L200.49,130.61ZM209.38,129.88L210.65,130.61L210.65,132.08L209.38,132.82L208.11,132.08L208.11,130.61ZM200.50,132.07L201.77,132.81L201.77,134.28L200.50,135.01L199.23,134.28L199.23,132.81ZM205.57,132.07L206.85,132.81L206.85,134.28L205.57,135.01L204.30,134.28L204.30,132.81ZM208.11,132.07L209.38,132.81L209.38,134.28L208.11,135.01L206.84,134.28L206.84,132.81ZM199.23,134.27L200.50,135.00L200.50,136.47L199.23,137.21L197.96,136.47L197.96,135.00ZM201.77,134.27L203.04,135.00L203.04,136.47L201.77,137.21L200.49,136.47L200.49,135.00ZM209.38,134.27L210.65,135.00L210.65,136.47L209.38,137.21L208.11,136.47L208.11,135.00ZM197.96,136.46L199.24,137.19L199.24,138.66L197.96,139.40L196.69,138.66L196.69,137.19ZM196.69,138.65L197.97,139.39L197.97,140.86L196.69,141.59L195.42,140.86L195.42,139.39ZM195.43,140.85L196.70,141.58L196.70,143.05L195.43,143.79L194.15,143.05L194.15,141.58ZM191.62,143.04L192.89,143.77L192.89,145.24L191.62,145.98L190.35,145.24L190.35,143.77ZM194.16,143.04L195.43,143.77L195.43,145.24L194.16,145.98L192.88,145.24L192.88,143.77ZM219.53,112.33L220.80,113.07L220.80,114.54L219.53,115.27L218.25,114.54L218.25,113.07ZM219.53,129.88L220.80,130.61L220.80,132.08L219.53,132.82L218.25,132.08L218.25,130.61ZM199.23,72.85L200.50,73.58L200.50,75.05L199.23,75.79L197.96,75.05L197.96,73.58ZM200.50,75.04L201.77,75.78L201.77,77.25L200.50,77.98L199.23,77.25L199.23,75.78ZM213.18,75.04L214.46,75.78L214.46,77.25L213.18,77.98L211.91,77.25L211.91,75.78ZM215.72,75.04L216.99,75.78L216.99,77.25L215.72,77.98L214.45,77.25L214.45,75.78ZM218.26,75.04L219.53,75.78L219.53,77.25L218.26,77.98L216.99,77.25L216.99,75.78ZM220.80,75.04L222.07,75.78L222.07,77.25L220.80,77.98L219.52,77.25L219.52,75.78ZM201.77,77.23L203.04,77.97L203.04,79.44L201.77,80.17L200.49,79.44L200.49,77.97ZM204.31,77.23L205.58,77.97L205.58,79.44L204.31,80.17L203.03,79.44L203.03,77.97ZM214.45,77.23L215.73,77.97L215.73,79.44L214.45,80.17L213.18,79.44L213.18,77.97ZM216.99,77.23L218.26,77.97L218.26,79.44L216.99,80.17L215.72,79.44L215.72,77.97ZM219.53,77.23L220.80,77.97L220.80,79.44L219.53,80.17L218.25,79.44L218.25,77.97ZM222.06,77.23L223.34,77.97L223.34,79.44L222.06,80.17L220.79,79.44L220.79,77.97ZM224.60,77.23L225.87,77.97L225.87,79.44L224.60,80.17L223.33,79.44L223.33,77.97ZM227.14,77.23L228.41,77.97L228.41,79.44L227.14,80.17L225.86,79.44L225.86,77.97ZM229.68,77.23L230.95,77.97L230.95,79.44L229.68,80.17L228.40,79.44L228.40,77.97ZM200.50,79.43L201.77,80.16L201.77,81.63L200.50,82.37L199.23,81.63L199.23,80.16ZM203.04,79.43L204.31,80.16L204.31,81.63L203.04,82.37L201.76,81.63L201.76,80.16ZM205.57,79.43L206.85,80.16L206.85,81.63L205.57,82.37L204.30,81.63L204.30,80.16ZM223.33,79.43L224.61,80.16L224.61,81.63L223.33,82.37L222.06,81.63L222.06,80.16ZM233.48,79.43L234.75,80.16L234.75,81.63L233.48,82.37L232.21,81.63L232.21,80.16ZM236.02,79.43L237.29,80.16L237.29,81.63L236.02,82.37L234.74,81.63L234.74,80.16ZM201.77,81.62L203.04,82.36L203.04,83.83L201.77,84.56L200.49,83.83L200.49,82.36ZM204.31,81.62L205.58,82.36L205.58,83.83L204.31,84.56L203.03,83.83L203.03,82.36ZM206.84,81.62L208.12,82.36L208.12,83.83L206.84,84.56L205.57,83.83L205.57,82.36ZM232.21,81.62L233.49,82.36L233.49,83.83L232.21,84.56L230.94,83.83L230.94,82.36ZM203.04,83.81L204.31,84.55L204.31,86.02L203.04,86.75L201.76,86.02L201.76,84.55ZM205.57,83.81L206.85,84.55L206.85,86.02L205.57,86.75L204.30,86.02L204.30,84.55ZM208.11,83.81L209.38,84.55L209.38,86.02L208.11,86.75L206.84,86.02L206.84,84.55ZM236.02,83.81L237.29,84.55L237.29,86.02L236.02,86.75L234.74,86.02L234.74,84.55ZM204.31,86.01L205.58,86.74L205.58,88.21L204.31,88.95L203.03,88.21L203.03,86.74ZM206.84,86.01L208.12,86.74L208.12,88.21L206.84,88.95L205.57,88.21L205.57,86.74ZM209.38,86.01L210.65,86.74L210.65,88.21L209.38,88.95L208.11,88.21L208.11,86.74ZM219.53,86.01L220.80,86.74L220.80,88.21L219.53,88.95L218.25,88.21L218.25,86.74ZM237.29,86.01L238.56,86.74L238.56,88.21L237.29,88.95L236.01,88.21L236.01,86.74ZM205.57,88.20L206.85,88.94L206.85,90.41L205.57,91.14L204.30,90.41L204.30,88.94ZM208.11,88.20L209.38,88.94L209.38,90.41L208.11,91.14L206.84,90.41L206.84,88.94ZM209.38,90.40L210.65,91.13L210.65,92.60L209.38,93.34L208.11,92.60L208.11,91.13ZM219.53,90.40L220.80,91.13L220.80,92.60L219.53,93.34L218.25,92.60L218.25,91.13ZM237.29,90.40L238.56,91.13L238.56,92.60L237.29,93.34L236.01,92.60L236.01,91.13ZM210.65,92.59L211.92,93.32L211.92,94.79L210.65,95.53L209.37,94.79L209.37,93.32ZM213.18,92.59L214.46,93.32L214.46,94.79L213.18,95.53L211.91,94.79L211.91,93.32ZM215.72,92.59L216.99,93.32L216.99,94.79L215.72,95.53L214.45,94.79L214.45,93.32ZM218.26,92.59L219.53,93.32L219.53,94.79L218.26,95.53L216.99,94.79L216.99,93.32ZM238.55,92.59L239.83,93.32L239.83,94.79L238.55,95.53L237.28,94.79L237.28,93.32ZM241.09,92.59L242.36,93.32L242.36,94.79L241.09,95.53L239.82,94.79L239.82,93.32ZM243.63,92.59L244.90,93.32L244.90,94.79L243.63,95.53L242.36,94.79L242.36,93.32ZM239.82,94.78L241.10,95.52L241.10,96.99L239.82,97.72L238.55,96.99L238.55,95.52ZM242.36,94.78L243.63,95.52L243.63,96.99L242.36,97.72L241.09,96.99L241.09,95.52ZM244.90,94.78L246.17,95.52L246.17,96.99L244.90,97.72L243.62,96.99L243.62,95.52ZM238.55,96.98L239.83,97.71L239.83,99.18L238.55,99.92L237.28,99.18L237.28,97.71ZM241.09,96.98L242.36,97.71L242.36,99.18L241.09,99.92L239.82,99.18L239.82,97.71ZM237.29,99.17L238.56,99.90L238.56,101.37L237.29,102.11L236.01,101.37L236.01,99.90ZM239.82,99.17L241.10,99.90L241.10,101.37L239.82,102.11L238.55,101.37L238.55,99.90ZM238.55,101.36L239.83,102.10L239.83,103.57L238.55,104.30L237.28,103.57L237.28,102.10ZM275.34,72.85L276.61,73.58L276.61,75.05L275.34,75.79L274.07,75.05L274.07,73.58ZM282.95,72.85L284.23,73.58L284.23,75.05L282.95,75.79L281.68,75.05L281.68,73.58ZM234.75,81.62L236.02,82.36L236.02,83.83L234.75,84.56L233.48,83.83L233.48,82.36ZM279.15,83.81L280.42,84.55L280.42,86.02L279.15,86.75L277.87,86.02L277.87,84.55ZM281.68,83.81L282.96,84.55L282.96,86.02L281.68,86.75L280.41,86.02L280.41,84.55ZM267.73,86.01L269.00,86.74L269.00,88.21L267.73,88.95L266.46,88.21L266.46,86.74ZM280.42,86.01L281.69,86.74L281.69,88.21L280.42,88.95L279.14,88.21L279.14,86.74ZM282.95,86.01L284.23,86.74L284.23,88.21L282.95,88.95L281.68,88.21L281.68,86.74ZM243.63,88.20L244.90,88.94L244.90,90.41L243.63,91.14L242.36,90.41L242.36,88.94ZM281.68,88.20L282.96,88.94L282.96,90.41L281.68,91.14L280.41,90.41L280.41,88.94ZM260.12,90.40L261.39,91.13L261.39,92.60L260.12,93.34L258.85,92.60L258.85,91.13ZM262.66,90.40L263.93,91.13L263.93,92.60L262.66,93.34L261.38,92.60L261.38,91.13ZM265.19,90.40L266.47,91.13L266.47,92.60L265.19,93.34L263.92,92.60L263.92,91.13ZM270.27,90.40L271.54,91.13L271.54,92.60L270.27,93.34L268.99,92.60L268.99,91.13ZM263.92,92.59L265.20,93.32L265.20,94.79L263.92,95.53L262.65,94.79L262.65,93.32ZM271.54,92.59L272.81,93.32L272.81,94.79L271.54,95.53L270.26,94.79L270.26,93.32ZM243.63,96.98L244.90,97.71L244.90,99.18L243.63,99.92L242.36,99.18L242.36,97.71ZM246.17,96.98L247.44,97.71L247.44,99.18L246.17,99.92L244.89,99.18L244.89,97.71ZM258.85,96.98L260.12,97.71L260.12,99.18L258.85,99.92L257.58,99.18L257.58,97.71ZM244.90,99.17L246.17,99.90L246.17,101.37L244.90,102.11L243.62,101.37L243.62,99.90ZM257.58,99.17L258.86,99.90L258.86,101.37L257.58,102.11L256.31,101.37L256.31,99.90ZM267.73,99.17L269.00,99.90L269.00,101.37L267.73,102.11L266.46,101.37L266.46,99.90ZM280.42,99.17L281.69,99.90L281.69,101.37L280.42,102.11L279.14,101.37L279.14,99.90ZM266.46,101.36L267.73,102.10L267.73,103.57L266.46,104.30L265.19,103.57L265.19,102.10ZM269.00,101.36L270.27,102.10L270.27,103.57L269.00,104.30L267.73,103.57L267.73,102.10ZM274.07,101.36L275.35,102.10L275.35,103.57L274.07,104.30L272.80,103.57L272.80,102.10ZM276.61,101.36L277.88,102.10L277.88,103.57L276.61,104.30L275.34,103.57L275.34,102.10ZM281.68,101.36L282.96,102.10L282.96,103.57L281.68,104.30L280.41,103.57L280.41,102.10ZM303.25,90.40L304.52,91.13L304.52,92.60L303.25,93.34L301.97,92.60L301.97,91.13ZM298.17,94.78L299.45,95.52L299.45,96.99L298.17,97.72L296.90,96.99L296.90,95.52ZM294.37,96.98L295.64,97.71L295.64,99.18L294.37,99.92L293.10,99.18L293.10,97.71ZM296.91,96.98L298.18,97.71L298.18,99.18L296.91,99.92L295.63,99.18L295.63,97.71ZM312.13,96.98L313.40,97.71L313.40,99.18L312.13,99.92L310.85,99.18L310.85,97.71ZM317.20,96.98L318.47,97.71L318.47,99.18L317.20,99.92L315.93,99.18L315.93,97.71ZM277.88,99.17L279.15,99.90L279.15,101.37L277.88,102.11L276.60,101.37L276.60,99.90ZM323.54,99.17L324.82,99.90L324.82,101.37L323.54,102.11L322.27,101.37L322.27,99.90ZM262.66,103.56L263.93,104.29L263.93,105.76L262.66,106.50L261.38,105.76L261.38,104.29ZM270.27,103.56L271.54,104.29L271.54,105.76L270.27,106.50L268.99,105.76L268.99,104.29ZM238.55,105.75L239.83,106.48L239.83,107.95L238.55,108.69L237.28,107.95L237.28,106.48ZM261.39,105.75L262.66,106.48L262.66,107.95L261.39,108.69L260.11,107.95L260.11,106.48ZM269.00,105.75L270.27,106.48L270.27,107.95L269.00,108.69L267.73,107.95L267.73,106.48ZM262.66,107.94L263.93,108.68L263.93,110.15L262.66,110.88L261.38,110.15L261.38,108.68ZM265.19,107.94L266.47,108.68L266.47,110.15L265.19,110.88L263.92,110.15L263.92,108.68ZM275.34,107.94L276.61,108.68L276.61,110.15L275.34,110.88L274.07,110.15L274.07,108.68ZM277.88,107.94L279.15,108.68L279.15,110.15L277.88,110.88L276.60,110.15L276.60,108.68ZM263.92,110.14L265.20,110.87L265.20,112.34L263.92,113.08L262.65,112.34L262.65,110.87ZM271.54,110.14L272.81,110.87L272.81,112.34L271.54,113.08L270.26,112.34L270.26,110.87ZM274.07,110.14L275.35,110.87L275.35,112.34L274.07,113.08L272.80,112.34L272.80,110.87ZM276.61,110.14L277.88,110.87L277.88,112.34L276.61,113.08L275.34,112.34L275.34,110.87ZM279.15,110.14L280.42,110.87L280.42,112.34L279.15,113.08L277.87,112.34L277.87,110.87ZM265.19,112.33L266.47,113.07L266.47,114.54L265.19,115.27L263.92,114.54L263.92,113.07ZM270.27,112.33L271.54,113.07L271.54,114.54L270.27,115.27L268.99,114.54L268.99,113.07ZM272.80,112.33L274.08,113.07L274.08,114.54L272.80,115.27L271.53,114.54L271.53,113.07ZM275.34,112.33L276.61,113.07L276.61,114.54L275.34,115.27L274.07,114.54L274.07,113.07ZM277.88,112.33L279.15,113.07L279.15,114.54L277.88,115.27L276.60,114.54L276.60,113.07ZM269.00,114.52L270.27,115.26L270.27,116.73L269.00,117.46L267.73,116.73L267.73,115.26ZM271.54,114.52L272.81,115.26L272.81,116.73L271.54,117.46L270.26,116.73L270.26,115.26ZM274.07,114.52L275.35,115.26L275.35,116.73L274.07,117.46L272.80,116.73L272.80,115.26ZM276.61,114.52L277.88,115.26L277.88,116.73L276.61,117.46L275.34,116.73L275.34,115.26ZM279.15,114.52L280.42,115.26L280.42,116.73L279.15,117.46L277.87,116.73L277.87,115.26ZM275.34,116.72L276.61,117.45L276.61,118.92L275.34,119.66L274.07,118.92L274.07,117.45ZM277.88,116.72L279.15,117.45L279.15,118.92L277.88,119.66L276.60,118.92L276.60,117.45ZM281.68,118.91L282.96,119.65L282.96,121.12L281.68,121.85L280.41,121.12L280.41,119.65ZM285.49,121.10L286.76,121.84L286.76,123.31L285.49,124.04L284.22,123.31L284.22,121.84ZM279.15,127.68L280.42,128.42L280.42,129.89L279.15,130.62L277.87,129.89L277.87,128.42ZM272.80,129.88L274.08,130.61L274.08,132.08L272.80,132.82L271.53,132.08L271.53,130.61ZM277.88,129.88L279.15,130.61L279.15,132.08L277.88,132.82L276.60,132.08L276.60,130.61ZM270.27,134.27L271.54,135.00L271.54,136.47L270.27,137.21L268.99,136.47L268.99,135.00ZM269.00,136.46L270.27,137.19L270.27,138.66L269.00,139.40L267.73,138.66L267.73,137.19ZM296.91,105.75L298.18,106.48L298.18,107.95L296.91,108.69L295.63,107.95L295.63,106.48ZM298.17,107.94L299.45,108.68L299.45,110.15L298.17,110.88L296.90,110.15L296.90,108.68ZM308.32,107.94L309.60,108.68L309.60,110.15L308.32,110.88L307.05,110.15L307.05,108.68ZM310.86,107.94L312.13,108.68L312.13,110.15L310.86,110.88L309.59,110.15L309.59,108.68ZM313.40,107.94L314.67,108.68L314.67,110.15L313.40,110.88L312.12,110.15L312.12,108.68ZM301.98,110.14L303.25,110.87L303.25,112.34L301.98,113.08L300.71,112.34L300.71,110.87ZM304.52,110.14L305.79,110.87L305.79,112.34L304.52,113.08L303.24,112.34L303.24,110.87ZM307.05,110.14L308.33,110.87L308.33,112.34L307.05,113.08L305.78,112.34L305.78,110.87ZM312.13,110.14L313.40,110.87L313.40,112.34L312.13,113.08L310.85,112.34L310.85,110.87ZM314.66,110.14L315.94,110.87L315.94,112.34L314.66,113.08L313.39,112.34L313.39,110.87ZM305.79,112.33L307.06,113.07L307.06,114.54L305.79,115.27L304.51,114.54L304.51,113.07ZM308.32,112.33L309.60,113.07L309.60,114.54L308.32,115.27L307.05,114.54L307.05,113.07ZM310.86,112.33L312.13,113.07L312.13,114.54L310.86,115.27L309.59,114.54L309.59,113.07ZM313.40,112.33L314.67,113.07L314.67,114.54L313.40,115.27L312.12,114.54L312.12,113.07ZM315.93,112.33L317.21,113.07L317.21,114.54L315.93,115.27L314.66,114.54L314.66,113.07ZM286.76,114.52L288.03,115.26L288.03,116.73L286.76,117.46L285.48,116.73L285.48,115.26ZM289.29,114.52L290.57,115.26L290.57,116.73L289.29,117.46L288.02,116.73L288.02,115.26ZM314.66,114.52L315.94,115.26L315.94,116.73L314.66,117.46L313.39,116.73L313.39,115.26ZM317.20,114.52L318.47,115.26L318.47,116.73L317.20,117.46L315.93,116.73L315.93,115.26ZM319.74,114.52L321.01,115.26L321.01,116.73L319.74,117.46L318.47,116.73L318.47,115.26ZM310.86,116.72L312.13,117.45L312.13,118.92L310.86,119.66L309.59,118.92L309.59,117.45ZM313.40,116.72L314.67,117.45L314.67,118.92L313.40,119.66L312.12,118.92L312.12,117.45ZM315.93,116.72L317.21,117.45L317.21,118.92L315.93,119.66L314.66,118.92L314.66,117.45ZM318.47,116.72L319.74,117.45L319.74,118.92L318.47,119.66L317.20,118.92L317.20,117.45ZM321.01,116.72L322.28,117.45L322.28,118.92L321.01,119.66L319.73,118.92L319.73,117.45ZM286.76,118.91L288.03,119.65L288.03,121.12L286.76,121.85L285.48,121.12L285.48,119.65ZM304.52,118.91L305.79,119.65L305.79,121.12L304.52,121.85L303.24,121.12L303.24,119.65ZM312.13,118.91L313.40,119.65L313.40,121.12L312.13,121.85L310.85,121.12L310.85,119.65ZM319.74,118.91L321.01,119.65L321.01,121.12L319.74,121.85L318.47,121.12L318.47,119.65ZM322.28,118.91L323.55,119.65L323.55,121.12L322.28,121.85L321.00,121.12L321.00,119.65ZM324.81,118.91L326.09,119.65L326.09,121.12L324.81,121.85L323.54,121.12L323.54,119.65ZM289.29,123.30L290.57,124.03L290.57,125.50L289.29,126.24L288.02,125.50L288.02,124.03ZM296.91,123.30L298.18,124.03L298.18,125.50L296.91,126.24L295.63,125.50L295.63,124.03ZM295.64,125.49L296.91,126.23L296.91,127.70L295.64,128.43L294.36,127.70L294.36,126.23ZM298.17,125.49L299.45,126.23L299.45,127.70L298.17,128.43L296.90,127.70L296.90,126.23ZM323.54,125.49L324.82,126.23L324.82,127.70L323.54,128.43L322.27,127.70L322.27,126.23ZM301.98,127.68L303.25,128.42L303.25,129.89L301.98,130.62L300.71,129.89L300.71,128.42ZM304.52,127.68L305.79,128.42L305.79,129.89L304.52,130.62L303.24,129.89L303.24,128.42ZM303.25,129.88L304.52,130.61L304.52,132.08L303.25,132.82L301.97,132.08L301.97,130.61ZM276.61,132.07L277.88,132.81L277.88,134.28L276.61,135.01L275.34,134.28L275.34,132.81ZM304.52,132.07L305.79,132.81L305.79,134.28L304.52,135.01L303.24,134.28L303.24,132.81ZM305.79,134.27L307.06,135.00L307.06,136.47L305.79,137.21L304.51,136.47L304.51,135.00ZM304.52,136.46L305.79,137.19L305.79,138.66L304.52,139.40L303.24,138.66L303.24,137.19ZM300.71,138.65L301.98,139.39L301.98,140.86L300.71,141.59L299.44,140.86L299.44,139.39ZM303.25,138.65L304.52,139.39L304.52,140.86L303.25,141.59L301.97,140.86L301.97,139.39ZM333.69,103.56L334.97,104.29L334.97,105.76L333.69,106.50L332.42,105.76L332.42,104.29ZM337.50,114.52L338.77,115.26L338.77,116.73L337.50,117.46L336.22,116.73L336.22,115.26ZM309.59,105.75L310.86,106.48L310.86,107.95L309.59,108.69L308.32,107.95L308.32,106.48ZM312.13,105.75L313.40,106.48L313.40,107.95L312.13,108.69L310.85,107.95L310.85,106.48ZM314.66,105.75L315.94,106.48L315.94,107.95L314.66,108.69L313.39,107.95L313.39,106.48ZM315.93,107.94L317.21,108.68L317.21,110.15L315.93,110.88L314.66,110.15L314.66,108.68ZM309.59,110.14L310.86,110.87L310.86,112.34L309.59,113.08L308.32,112.34L308.32,110.87ZM317.20,110.14L318.47,110.87L318.47,112.34L317.20,113.08L315.93,112.34L315.93,110.87ZM318.47,112.33L319.74,113.07L319.74,114.54L318.47,115.27L317.20,114.54L317.20,113.07ZM321.01,112.33L322.28,113.07L322.28,114.54L321.01,115.27L319.73,114.54L319.73,113.07ZM312.13,114.52L313.40,115.26L313.40,116.73L312.13,117.46L310.85,116.73L310.85,115.26ZM322.28,114.52L323.55,115.26L323.55,116.73L322.28,117.46L321.00,116.73L321.00,115.26ZM299.44,140.85L300.72,141.58L300.72,143.05L299.44,143.79L298.17,143.05L298.17,141.58ZM301.98,140.85L303.25,141.58L303.25,143.05L301.98,143.79L300.71,143.05L300.71,141.58ZM298.17,143.04L299.45,143.77L299.45,145.24L298.17,145.98L296.90,145.24L296.90,143.77ZM270.27,138.65L271.54,139.39L271.54,140.86L270.27,141.59L268.99,140.86L268.99,139.39ZM282.95,143.04L284.23,143.77L284.23,145.24L282.95,145.98L281.68,145.24L281.68,143.77ZM285.49,143.04L286.76,143.77L286.76,145.24L285.49,145.98L284.22,145.24L284.22,143.77ZM295.64,143.04L296.91,143.77L296.91,145.24L295.64,145.98L294.36,145.24L294.36,143.77ZM284.22,145.23L285.49,145.97L285.49,147.44L284.22,148.17L282.95,147.44L282.95,145.97ZM294.37,145.23L295.64,145.97L295.64,147.44L294.37,148.17L293.10,147.44L293.10,145.97ZM296.91,145.23L298.18,145.97L298.18,147.44L296.91,148.17L295.63,147.44L295.63,145.97ZM286.76,149.62L288.03,150.35L288.03,151.82L286.76,152.56L285.48,151.82L285.48,150.35ZM289.29,149.62L290.57,150.35L290.57,151.82L289.29,152.56L288.02,151.82L288.02,150.35ZM293.10,147.43L294.37,148.16L294.37,149.63L293.10,150.37L291.83,149.63L291.83,148.16ZM303.25,134.27L304.52,135.00L304.52,136.47L303.25,137.21L301.97,136.47L301.97,135.00ZM25.45,79.43L26.72,80.16L26.72,81.63L25.45,82.37L24.17,81.63L24.17,80.16ZM26.72,81.62L27.99,82.36L27.99,83.83L26.72,84.56L25.44,83.83L25.44,82.36ZM29.25,81.62L30.53,82.36L30.53,83.83L29.25,84.56L27.98,83.83L27.98,82.36ZM27.98,83.81L29.26,84.55L29.26,86.02L27.98,86.75L26.71,86.02L26.71,84.55ZM7.69,110.14L8.96,110.87L8.96,112.34L7.69,113.08L6.41,112.34L6.41,110.87ZM10.22,127.68L11.50,128.42L11.50,129.89L10.22,130.62L8.95,129.89L8.95,128.42ZM22.91,127.68L24.18,128.42L24.18,129.89L22.91,130.62L21.64,129.89L21.64,128.42ZM25.45,127.68L26.72,128.42L26.72,129.89L25.45,130.62L24.17,129.89L24.17,128.42ZM26.72,129.88L27.99,130.61L27.99,132.08L26.72,132.82L25.44,132.08L25.44,130.61ZM29.25,125.49L30.53,126.23L30.53,127.70L29.25,128.43L27.98,127.70L27.98,126.23ZM31.79,125.49L33.06,126.23L33.06,127.70L31.79,128.43L30.52,127.70L30.52,126.23ZM34.33,125.49L35.60,126.23L35.60,127.70L34.33,128.43L33.05,127.70L33.05,126.23ZM33.06,127.68L34.33,128.42L34.33,129.89L33.06,130.62L31.78,129.89L31.78,128.42ZM328.62,99.17L329.89,99.90L329.89,101.37L328.62,102.11L327.34,101.37L327.34,99.90ZM331.15,99.17L332.43,99.90L332.43,101.37L331.15,102.11L329.88,101.37L329.88,99.90ZM332.42,101.36L333.70,102.10L333.70,103.57L332.42,104.30L331.15,103.57L331.15,102.10ZM312.13,145.23L313.40,145.97L313.40,147.44L312.13,148.17L310.85,147.44L310.85,145.97ZM314.66,145.23L315.94,145.97L315.94,147.44L314.66,148.17L313.39,147.44L313.39,145.97ZM313.40,147.43L314.67,148.16L314.67,149.63L313.40,150.37L312.12,149.63L312.12,148.16ZM312.13,149.62L313.40,150.35L313.40,151.82L312.13,152.56L310.85,151.82L310.85,150.35Z" fill="#3d1052" stroke="#2a2140" stroke-width="0.3" stroke-opacity="0.55"/>
<path d="M97.75,72.85L99.02,73.58L99.02,75.05L97.75,75.79L96.48,75.05L96.48,73.58ZM100.29,72.85L101.56,73.58L101.56,75.05L100.29,75.79L99.01,75.05L99.01,73.58ZM99.02,75.04L100.29,75.78L100.29,77.25L99.02,77.98L97.75,77.25L97.75,75.78ZM101.56,75.04L102.83,75.78L102.83,77.25L101.56,77.98L100.28,77.25L100.28,75.78ZM102.83,77.23L104.10,77.97L104.10,79.44L102.83,80.17L101.55,79.44L101.55,77.97ZM99.02,79.43L100.29,80.16L100.29,81.63L99.02,82.37L97.75,81.63L97.75,80.16ZM101.56,79.43L102.83,80.16L102.83,81.63L101.56,82.37L100.28,81.63L100.28,80.16ZM90.14,81.62L91.41,82.36L91.41,83.83L90.14,84.56L88.87,83.83L88.87,82.36ZM73.65,83.81L74.92,84.55L74.92,86.02L73.65,86.75L72.38,86.02L72.38,84.55ZM77.46,86.01L78.73,86.74L78.73,88.21L77.46,88.95L76.18,88.21L76.18,86.74ZM105.36,86.01L106.64,86.74L106.64,88.21L105.36,88.95L104.09,88.21L104.09,86.74ZM85.07,90.40L86.34,91.13L86.34,92.60L85.07,93.34L83.79,92.60L83.79,91.13ZM92.68,90.40L93.95,91.13L93.95,92.60L92.68,93.34L91.40,92.60L91.40,91.13ZM88.87,92.59L90.14,93.32L90.14,94.79L88.87,95.53L87.60,94.79L87.60,93.32ZM111.70,92.59L112.98,93.32L112.98,94.79L111.70,95.53L110.43,94.79L110.43,93.32ZM90.14,94.78L91.41,95.52L91.41,96.99L90.14,97.72L88.87,96.99L88.87,95.52ZM93.95,96.98L95.22,97.71L95.22,99.18L93.95,99.92L92.67,99.18L92.67,97.71ZM96.48,96.98L97.76,97.71L97.76,99.18L96.48,99.92L95.21,99.18L95.21,97.71ZM97.75,99.17L99.02,99.90L99.02,101.37L97.75,102.11L96.48,101.37L96.48,99.90ZM112.97,86.01L114.25,86.74L114.25,88.21L112.97,88.95L111.70,88.21L111.70,86.74ZM114.24,96.98L115.51,97.71L115.51,99.18L114.24,99.92L112.97,99.18L112.97,97.71ZM120.58,99.17L121.86,99.90L121.86,101.37L120.58,102.11L119.31,101.37L119.31,99.90ZM83.80,105.75L85.07,106.48L85.07,107.95L83.80,108.69L82.52,107.95L82.52,106.48ZM121.85,105.75L123.13,106.48L123.13,107.95L121.85,108.69L120.58,107.95L120.58,106.48ZM124.39,105.75L125.66,106.48L125.66,107.95L124.39,108.69L123.12,107.95L123.12,106.48ZM85.07,107.94L86.34,108.68L86.34,110.15L85.07,110.88L83.79,110.15L83.79,108.68ZM125.66,107.94L126.93,108.68L126.93,110.15L125.66,110.88L124.38,110.15L124.38,108.68ZM130.73,107.94L132.01,108.68L132.01,110.15L130.73,110.88L129.46,110.15L129.46,108.68ZM132.00,110.14L133.27,110.87L133.27,112.34L132.00,113.08L130.73,112.34L130.73,110.87ZM135.81,112.33L137.08,113.07L137.08,114.54L135.81,115.27L134.53,114.54L134.53,113.07ZM135.81,116.72L137.08,117.45L137.08,118.92L135.81,119.66L134.53,118.92L134.53,117.45ZM133.27,125.49L134.54,126.23L134.54,127.70L133.27,128.43L132.00,127.70L132.00,126.23ZM133.27,129.88L134.54,130.61L134.54,132.08L133.27,132.82L132.00,132.08L132.00,130.61ZM132.00,132.07L133.27,132.81L133.27,134.28L132.00,135.01L130.73,134.28L130.73,132.81ZM128.19,134.27L129.47,135.00L129.47,136.47L128.19,137.21L126.92,136.47L126.92,135.00ZM126.93,136.46L128.20,137.19L128.20,138.66L126.93,139.40L125.65,138.66L125.65,137.19ZM158.64,99.17L159.91,99.90L159.91,101.37L158.64,102.11L157.37,101.37L157.37,99.90ZM168.79,99.17L170.06,99.90L170.06,101.37L168.79,102.11L167.51,101.37L167.51,99.90ZM171.32,99.17L172.60,99.90L172.60,101.37L171.32,102.11L170.05,101.37L170.05,99.90ZM178.94,107.94L180.21,108.68L180.21,110.15L178.94,110.88L177.66,110.15L177.66,108.68ZM280.42,77.23L281.69,77.97L281.69,79.44L280.42,80.17L279.14,79.44L279.14,77.97ZM248.70,79.43L249.98,80.16L249.98,81.63L248.70,82.37L247.43,81.63L247.43,80.16ZM251.24,79.43L252.51,80.16L252.51,81.63L251.24,82.37L249.97,81.63L249.97,80.16ZM271.54,79.43L272.81,80.16L272.81,81.63L271.54,82.37L270.26,81.63L270.26,80.16ZM249.97,81.62L251.24,82.36L251.24,83.83L249.97,84.56L248.70,83.83L248.70,82.36ZM252.51,81.62L253.78,82.36L253.78,83.83L252.51,84.56L251.23,83.83L251.23,82.36ZM255.05,81.62L256.32,82.36L256.32,83.83L255.05,84.56L253.77,83.83L253.77,82.36ZM265.19,81.62L266.47,82.36L266.47,83.83L265.19,84.56L263.92,83.83L263.92,82.36ZM267.73,81.62L269.00,82.36L269.00,83.83L267.73,84.56L266.46,83.83L266.46,82.36ZM270.27,81.62L271.54,82.36L271.54,83.83L270.27,84.56L268.99,83.83L268.99,82.36ZM269.00,83.81L270.27,84.55L270.27,86.02L269.00,86.75L267.73,86.02L267.73,84.55ZM260.12,86.01L261.39,86.74L261.39,88.21L260.12,88.95L258.85,88.21L258.85,86.74ZM255.05,90.40L256.32,91.13L256.32,92.60L255.05,93.34L253.77,92.60L253.77,91.13ZM280.42,90.40L281.69,91.13L281.69,92.60L280.42,93.34L279.14,92.60L279.14,91.13ZM256.31,92.59L257.59,93.32L257.59,94.79L256.31,95.53L255.04,94.79L255.04,93.32ZM269.00,92.59L270.27,93.32L270.27,94.79L269.00,95.53L267.73,94.79L267.73,93.32ZM281.68,92.59L282.96,93.32L282.96,94.79L281.68,95.53L280.41,94.79L280.41,93.32ZM284.22,92.59L285.49,93.32L285.49,94.79L284.22,95.53L282.95,94.79L282.95,93.32ZM282.95,94.78L284.23,95.52L284.23,96.99L282.95,97.72L281.68,96.99L281.68,95.52ZM261.39,96.98L262.66,97.71L262.66,99.18L261.39,99.92L260.11,99.18L260.11,97.71ZM282.95,99.17L284.23,99.90L284.23,101.37L282.95,102.11L281.68,101.37L281.68,99.90ZM271.54,101.36L272.81,102.10L272.81,103.57L271.54,104.30L270.26,103.57L270.26,102.10ZM286.76,92.59L288.03,93.32L288.03,94.79L286.76,95.53L285.48,94.79L285.48,93.32ZM285.49,103.56L286.76,104.29L286.76,105.76L285.49,106.50L284.22,105.76L284.22,104.29ZM288.03,103.56L289.30,104.29L289.30,105.76L288.03,106.50L286.75,105.76L286.75,104.29ZM272.80,103.56L274.08,104.29L274.08,105.76L272.80,106.50L271.53,105.76L271.53,104.29ZM284.22,105.75L285.49,106.48L285.49,107.95L284.22,108.69L282.95,107.95L282.95,106.48ZM282.95,107.94L284.23,108.68L284.23,110.15L282.95,110.88L281.68,110.15L281.68,108.68ZM281.68,110.14L282.96,110.87L282.96,112.34L281.68,113.08L280.41,112.34L280.41,110.87ZM280.42,112.33L281.69,113.07L281.69,114.54L280.42,115.27L279.14,114.54L279.14,113.07ZM282.95,112.33L284.23,113.07L284.23,114.54L282.95,115.27L281.68,114.54L281.68,113.07ZM284.22,114.52L285.49,115.26L285.49,116.73L284.22,117.46L282.95,116.73L282.95,115.26ZM289.29,105.75L290.57,106.48L290.57,107.95L289.29,108.69L288.02,107.95L288.02,106.48ZM291.83,105.75L293.10,106.48L293.10,107.95L291.83,108.69L290.56,107.95L290.56,106.48ZM288.03,107.94L289.30,108.68L289.30,110.15L288.03,110.88L286.75,110.15L286.75,108.68ZM290.56,107.94L291.84,108.68L291.84,110.15L290.56,110.88L289.29,110.15L289.29,108.68ZM293.10,107.94L294.37,108.68L294.37,110.15L293.10,110.88L291.83,110.15L291.83,108.68ZM289.29,110.14L290.57,110.87L290.57,112.34L289.29,113.08L288.02,112.34L288.02,110.87ZM294.37,110.14L295.64,110.87L295.64,112.34L294.37,113.08L293.10,112.34L293.10,110.87ZM285.49,112.33L286.76,113.07L286.76,114.54L285.49,115.27L284.22,114.54L284.22,113.07ZM307.05,114.52L308.33,115.26L308.33,116.73L307.05,117.46L305.78,116.73L305.78,115.26ZM303.25,116.72L304.52,117.45L304.52,118.92L303.25,119.66L301.97,118.92L301.97,117.45ZM305.79,116.72L307.06,117.45L307.06,118.92L305.79,119.66L304.51,118.92L304.51,117.45ZM331.15,125.49L332.43,126.23L332.43,127.70L331.15,128.43L329.88,127.70L329.88,126.23ZM333.69,125.49L334.97,126.23L334.97,127.70L333.69,128.43L332.42,127.70L332.42,126.23ZM332.42,127.68L333.70,128.42L333.70,129.89L332.42,130.62L331.15,129.89L331.15,128.42ZM6.42,125.49L7.69,126.23L7.69,127.70L6.42,128.43L5.15,127.70L5.15,126.23Z" fill="#80c25c" stroke="#2a2140" stroke-width="0.3" stroke-opacity="0.55"/>
<path d="M83.80,75.04L85.07,75.78L85.07,77.25L83.80,77.98L82.52,77.25L82.52,75.78ZM96.48,75.04L97.76,75.78L97.76,77.25L96.48,77.98L95.21,77.25L95.21,75.78ZM97.75,77.23L99.02,77.97L99.02,79.44L97.75,80.17L96.48,79.44L96.48,77.97ZM100.29,77.23L101.56,77.97L101.56,79.44L100.29,80.17L99.01,79.44L99.01,77.97ZM76.19,79.43L77.46,80.16L77.46,81.63L76.19,82.37L74.91,81.63L74.91,80.16ZM81.26,79.43L82.53,80.16L82.53,81.63L81.26,82.37L79.99,81.63L79.99,80.16ZM74.92,81.62L76.19,82.36L76.19,83.83L74.92,84.56L73.64,83.83L73.64,82.36ZM82.53,81.62L83.80,82.36L83.80,83.83L82.53,84.56L81.26,83.83L81.26,82.36ZM92.68,81.62L93.95,82.36L93.95,83.83L92.68,84.56L91.40,83.83L91.40,82.36ZM100.29,81.62L101.56,82.36L101.56,83.83L100.29,84.56L99.01,83.83L99.01,82.36ZM102.83,81.62L104.10,82.36L104.10,83.83L102.83,84.56L101.55,83.83L101.55,82.36ZM105.36,81.62L106.64,82.36L106.64,83.83L105.36,84.56L104.09,83.83L104.09,82.36ZM88.87,83.81L90.14,84.55L90.14,86.02L88.87,86.75L87.60,86.02L87.60,84.55ZM111.70,83.81L112.98,84.55L112.98,86.02L111.70,86.75L110.43,86.02L110.43,84.55ZM79.99,86.01L81.27,86.74L81.27,88.21L79.99,88.95L78.72,88.21L78.72,86.74ZM82.53,86.01L83.80,86.74L83.80,88.21L82.53,88.95L81.26,88.21L81.26,86.74ZM87.60,86.01L88.88,86.74L88.88,88.21L87.60,88.95L86.33,88.21L86.33,86.74ZM90.14,86.01L91.41,86.74L91.41,88.21L90.14,88.95L88.87,88.21L88.87,86.74ZM97.75,86.01L99.02,86.74L99.02,88.21L97.75,88.95L96.48,88.21L96.48,86.74ZM102.83,86.01L104.10,86.74L104.10,88.21L102.83,88.95L101.55,88.21L101.55,86.74ZM81.26,88.20L82.53,88.94L82.53,90.41L81.26,91.14L79.99,90.41L79.99,88.94ZM91.41,88.20L92.68,88.94L92.68,90.41L91.41,91.14L90.14,90.41L90.14,88.94ZM87.60,90.40L88.88,91.13L88.88,92.60L87.60,93.34L86.33,92.60L86.33,91.13ZM104.09,92.59L105.37,93.32L105.37,94.79L104.09,95.53L102.82,94.79L102.82,93.32ZM109.17,92.59L110.44,93.32L110.44,94.79L109.17,95.53L107.89,94.79L107.89,93.32ZM92.68,94.78L93.95,95.52L93.95,96.99L92.68,97.72L91.40,96.99L91.40,95.52ZM95.21,94.78L96.49,95.52L96.49,96.99L95.21,97.72L93.94,96.99L93.94,95.52ZM97.75,94.78L99.02,95.52L99.02,96.99L97.75,97.72L96.48,96.99L96.48,95.52ZM107.90,94.78L109.17,95.52L109.17,96.99L107.90,97.72L106.63,96.99L106.63,95.52ZM111.70,88.20L112.98,88.94L112.98,90.41L111.70,91.14L110.43,90.41L110.43,88.94ZM114.24,88.20L115.51,88.94L115.51,90.41L114.24,91.14L112.97,90.41L112.97,88.94ZM114.24,92.59L115.51,93.32L115.51,94.79L114.24,95.53L112.97,94.79L112.97,93.32ZM112.97,94.78L114.25,95.52L114.25,96.99L112.97,97.72L111.70,96.99L111.70,95.52ZM115.51,99.17L116.78,99.90L116.78,101.37L115.51,102.11L114.24,101.37L114.24,99.90ZM96.48,101.36L97.76,102.10L97.76,103.57L96.48,104.30L95.21,103.57L95.21,102.10ZM121.85,101.36L123.13,102.10L123.13,103.57L121.85,104.30L120.58,103.57L120.58,102.10ZM95.21,103.56L96.49,104.29L96.49,105.76L95.21,106.50L93.94,105.76L93.94,104.29ZM120.58,103.56L121.86,104.29L121.86,105.76L120.58,106.50L119.31,105.76L119.31,104.29ZM128.19,107.94L129.47,108.68L129.47,110.15L128.19,110.88L126.92,110.15L126.92,108.68ZM126.93,110.14L128.20,110.87L128.20,112.34L126.93,113.08L125.65,112.34L125.65,110.87ZM129.46,110.14L130.74,110.87L130.74,112.34L129.46,113.08L128.19,112.34L128.19,110.87ZM137.07,114.52L138.35,115.26L138.35,116.73L137.07,117.46L135.80,116.73L135.80,115.26ZM133.27,121.10L134.54,121.84L134.54,123.31L133.27,124.04L132.00,123.31L132.00,121.84ZM134.54,123.30L135.81,124.03L135.81,125.50L134.54,126.24L133.26,125.50L133.26,124.03ZM125.66,134.27L126.93,135.00L126.93,136.47L125.66,137.21L124.38,136.47L124.38,135.00ZM154.83,92.59L156.11,93.32L156.11,94.79L154.83,95.53L153.56,94.79L153.56,93.32ZM156.10,94.78L157.38,95.52L157.38,96.99L156.10,97.72L154.83,96.99L154.83,95.52ZM172.59,96.98L173.87,97.71L173.87,99.18L172.59,99.92L171.32,99.18L171.32,97.71ZM161.18,99.17L162.45,99.90L162.45,101.37L161.18,102.11L159.90,101.37L159.90,99.90ZM163.71,99.17L164.99,99.90L164.99,101.37L163.71,102.11L162.44,101.37L162.44,99.90ZM166.25,99.17L167.52,99.90L167.52,101.37L166.25,102.11L164.98,101.37L164.98,99.90ZM173.86,99.17L175.13,99.90L175.13,101.37L173.86,102.11L172.59,101.37L172.59,99.90ZM176.40,99.17L177.67,99.90L177.67,101.37L176.40,102.11L175.12,101.37L175.12,99.90ZM167.52,101.36L168.79,102.10L168.79,103.57L167.52,104.30L166.25,103.57L166.25,102.10ZM175.13,101.36L176.40,102.10L176.40,103.57L175.13,104.30L173.86,103.57L173.86,102.10ZM177.67,101.36L178.94,102.10L178.94,103.57L177.67,104.30L176.39,103.57L176.39,102.10ZM178.94,103.56L180.21,104.29L180.21,105.76L178.94,106.50L177.66,105.76L177.66,104.29ZM177.67,105.75L178.94,106.48L178.94,107.95L177.67,108.69L176.39,107.95L176.39,106.48ZM181.47,112.33L182.75,113.07L182.75,114.54L181.47,115.27L180.20,114.54L180.20,113.07ZM182.74,114.52L184.01,115.26L184.01,116.73L182.74,117.46L181.47,116.73L181.47,115.26ZM181.47,116.72L182.75,117.45L182.75,118.92L181.47,119.66L180.20,118.92L180.20,117.45ZM274.07,75.04L275.35,75.78L275.35,77.25L274.07,77.98L272.80,77.25L272.80,75.78ZM281.68,75.04L282.96,75.78L282.96,77.25L281.68,77.98L280.41,77.25L280.41,75.78ZM276.61,79.43L277.88,80.16L277.88,81.63L276.61,82.37L275.34,81.63L275.34,80.16ZM247.43,81.62L248.71,82.36L248.71,83.83L247.43,84.56L246.16,83.83L246.16,82.36ZM256.31,83.81L257.59,84.55L257.59,86.02L256.31,86.75L255.04,86.02L255.04,84.55ZM256.31,88.20L257.59,88.94L257.59,90.41L256.31,91.14L255.04,90.41L255.04,88.94ZM258.85,88.20L260.12,88.94L260.12,90.41L258.85,91.14L257.58,90.41L257.58,88.94ZM282.95,90.40L284.23,91.13L284.23,92.60L282.95,93.34L281.68,92.60L281.68,91.13ZM260.12,94.78L261.39,95.52L261.39,96.99L260.12,97.72L258.85,96.99L258.85,95.52ZM284.22,96.98L285.49,97.71L285.49,99.18L284.22,99.92L282.95,99.18L282.95,97.71ZM265.19,99.17L266.47,99.90L266.47,101.37L265.19,102.11L263.92,101.37L263.92,99.90ZM263.92,101.36L265.20,102.10L265.20,103.57L263.92,104.30L262.65,103.57L262.65,102.10ZM285.49,90.40L286.76,91.13L286.76,92.60L285.49,93.34L284.22,92.60L284.22,91.13ZM288.03,94.78L289.30,95.52L289.30,96.99L288.03,97.72L286.75,96.99L286.75,95.52ZM286.76,96.98L288.03,97.71L288.03,99.18L286.76,99.92L285.48,99.18L285.48,97.71ZM285.49,99.17L286.76,99.90L286.76,101.37L285.49,102.11L284.22,101.37L284.22,99.90ZM275.34,103.56L276.61,104.29L276.61,105.76L275.34,106.50L274.07,105.76L274.07,104.29ZM265.19,103.56L266.47,104.29L266.47,105.76L265.19,106.50L263.92,105.76L263.92,104.29ZM267.73,103.56L269.00,104.29L269.00,105.76L267.73,106.50L266.46,105.76L266.46,104.29ZM271.54,105.75L272.81,106.48L272.81,107.95L271.54,108.69L270.26,107.95L270.26,106.48ZM281.68,105.75L282.96,106.48L282.96,107.95L281.68,108.69L280.41,107.95L280.41,106.48ZM267.73,107.94L269.00,108.68L269.00,110.15L267.73,110.88L266.46,110.15L266.46,108.68ZM270.27,107.94L271.54,108.68L271.54,110.15L270.27,110.88L268.99,110.15L268.99,108.68ZM272.80,107.94L274.08,108.68L274.08,110.15L272.80,110.88L271.53,110.15L271.53,108.68ZM284.22,110.14L285.49,110.87L285.49,112.34L284.22,113.08L282.95,112.34L282.95,110.87ZM281.68,114.52L282.96,115.26L282.96,116.73L281.68,117.46L280.41,116.73L280.41,115.26ZM282.95,116.72L284.23,117.45L284.23,118.92L282.95,119.66L281.68,118.92L281.68,117.45ZM303.25,107.94L304.52,108.68L304.52,110.15L303.25,110.88L301.97,110.15L301.97,108.68ZM291.83,110.14L293.10,110.87L293.10,112.34L291.83,113.08L290.56,112.34L290.56,110.87ZM298.17,112.33L299.45,113.07L299.45,114.54L298.17,115.27L296.90,114.54L296.90,113.07ZM300.71,112.33L301.98,113.07L301.98,114.54L300.71,115.27L299.44,114.54L299.44,113.07ZM291.83,114.52L293.10,115.26L293.10,116.73L291.83,117.46L290.56,116.73L290.56,115.26ZM294.37,114.52L295.64,115.26L295.64,116.73L294.37,117.46L293.10,116.73L293.10,115.26ZM296.91,114.52L298.18,115.26L298.18,116.73L296.91,117.46L295.63,116.73L295.63,115.26ZM301.98,114.52L303.25,115.26L303.25,116.73L301.98,117.46L300.71,116.73L300.71,115.26ZM309.59,114.52L310.86,115.26L310.86,116.73L309.59,117.46L308.32,116.73L308.32,115.26ZM285.49,116.72L286.76,117.45L286.76,118.92L285.49,119.66L284.22,118.92L284.22,117.45ZM298.17,116.72L299.45,117.45L299.45,118.92L298.17,119.66L296.90,118.92L296.90,117.45ZM300.71,116.72L301.98,117.45L301.98,118.92L300.71,119.66L299.44,118.92L299.44,117.45ZM284.22,118.91L285.49,119.65L285.49,121.12L284.22,121.85L282.95,121.12L282.95,119.65ZM291.83,118.91L293.10,119.65L293.10,121.12L291.83,121.85L290.56,121.12L290.56,119.65ZM294.37,118.91L295.64,119.65L295.64,121.12L294.37,121.85L293.10,121.12L293.10,119.65ZM290.56,121.10L291.84,121.84L291.84,123.31L290.56,124.04L289.29,123.31L289.29,121.84ZM293.10,121.10L294.37,121.84L294.37,123.31L293.10,124.04L291.83,123.31L291.83,121.84ZM300.71,121.10L301.98,121.84L301.98,123.31L300.71,124.04L299.44,123.31L299.44,121.84ZM303.25,121.10L304.52,121.84L304.52,123.31L303.25,124.04L301.97,123.31L301.97,121.84ZM303.25,125.49L304.52,126.23L304.52,127.70L303.25,128.43L301.97,127.70L301.97,126.23ZM321.01,129.88L322.28,130.61L322.28,132.08L321.01,132.82L319.73,132.08L319.73,130.61ZM8.96,121.10L10.23,121.84L10.23,123.31L8.96,124.04L7.68,123.31L7.68,121.84Z" fill="#0f8b88" stroke="#2a2140" stroke-width="0.3" stroke-opacity="0.55"/>
<path d="M74.92,77.23L76.19,77.97L76.19,79.44L74.92,80.17L73.64,79.44L73.64,77.97ZM73.65,79.43L74.92,80.16L74.92,81.63L73.65,82.37L72.38,81.63L72.38,80.16ZM93.95,79.43L95.22,80.16L95.22,81.63L93.95,82.37L92.67,81.63L92.67,80.16ZM87.60,81.62L88.88,82.36L88.88,83.83L87.60,84.56L86.33,83.83L86.33,82.36ZM81.26,83.81L82.53,84.55L82.53,86.02L81.26,86.75L79.99,86.02L79.99,84.55ZM83.80,83.81L85.07,84.55L85.07,86.02L83.80,86.75L82.52,86.02L82.52,84.55ZM96.48,83.81L97.76,84.55L97.76,86.02L96.48,86.75L95.21,86.02L95.21,84.55ZM101.56,83.81L102.83,84.55L102.83,86.02L101.56,86.75L100.28,86.02L100.28,84.55ZM104.09,83.81L105.37,84.55L105.37,86.02L104.09,86.75L102.82,86.02L102.82,84.55ZM106.63,83.81L107.90,84.55L107.90,86.02L106.63,86.75L105.36,86.02L105.36,84.55ZM109.17,83.81L110.44,84.55L110.44,86.02L109.17,86.75L107.89,86.02L107.89,84.55ZM85.07,86.01L86.34,86.74L86.34,88.21L85.07,88.95L83.79,88.21L83.79,86.74ZM110.44,86.01L111.71,86.74L111.71,88.21L110.44,88.95L109.16,88.21L109.16,86.74ZM88.87,88.20L90.14,88.94L90.14,90.41L88.87,91.14L87.60,90.41L87.60,88.94ZM93.95,88.20L95.22,88.94L95.22,90.41L93.95,91.14L92.67,90.41L92.67,88.94ZM110.44,94.78L111.71,95.52L111.71,96.99L110.44,97.72L109.16,96.99L109.16,95.52ZM93.95,105.75L95.22,106.48L95.22,107.95L93.95,108.69L92.67,107.95L92.67,106.48ZM134.54,110.14L135.81,110.87L135.81,112.34L134.54,113.08L133.26,112.34L133.26,110.87ZM244.90,86.01L246.17,86.74L246.17,88.21L244.90,88.95L243.62,88.21L243.62,86.74ZM255.05,86.01L256.32,86.74L256.32,88.21L255.05,88.95L253.77,88.21L253.77,86.74ZM257.58,86.01L258.86,86.74L258.86,88.21L257.58,88.95L256.31,88.21L256.31,86.74ZM279.15,88.20L280.42,88.94L280.42,90.41L279.15,91.14L277.87,90.41L277.87,88.94ZM267.73,94.78L269.00,95.52L269.00,96.99L267.73,97.72L266.46,96.99L266.46,95.52ZM256.31,96.98L257.59,97.71L257.59,99.18L256.31,99.92L255.04,99.18L255.04,97.71ZM263.92,96.98L265.20,97.71L265.20,99.18L263.92,99.92L262.65,99.18L262.65,97.71ZM279.15,96.98L280.42,97.71L280.42,99.18L279.15,99.92L277.87,99.18L277.87,97.71ZM261.39,101.36L262.66,102.10L262.66,103.57L261.39,104.30L260.11,103.57L260.11,102.10ZM279.15,101.36L280.42,102.10L280.42,103.57L279.15,104.30L277.87,103.57L277.87,102.10ZM280.42,103.56L281.69,104.29L281.69,105.76L280.42,106.50L279.14,105.76L279.14,104.29ZM260.12,103.56L261.39,104.29L261.39,105.76L260.12,106.50L258.85,105.76L258.85,104.29ZM263.92,105.75L265.20,106.48L265.20,107.95L263.92,108.69L262.65,107.95L262.65,106.48ZM266.46,105.75L267.73,106.48L267.73,107.95L266.46,108.69L265.19,107.95L265.19,106.48ZM279.15,105.75L280.42,106.48L280.42,107.95L279.15,108.69L277.87,107.95L277.87,106.48ZM269.00,110.14L270.27,110.87L270.27,112.34L269.00,113.08L267.73,112.34L267.73,110.87ZM267.73,112.33L269.00,113.07L269.00,114.54L267.73,115.27L266.46,114.54L266.46,113.07ZM284.22,123.30L285.49,124.03L285.49,125.50L284.22,126.24L282.95,125.50L282.95,124.03ZM282.95,125.49L284.23,126.23L284.23,127.70L282.95,128.43L281.68,127.70L281.68,126.23ZM281.68,127.68L282.96,128.42L282.96,129.89L281.68,130.62L280.41,129.89L280.41,128.42ZM275.34,129.88L276.61,130.61L276.61,132.08L275.34,132.82L274.07,132.08L274.07,130.61ZM271.54,132.07L272.81,132.81L272.81,134.28L271.54,135.01L270.26,134.28L270.26,132.81ZM300.71,107.94L301.98,108.68L301.98,110.15L300.71,110.88L299.44,110.15L299.44,108.68ZM304.52,114.52L305.79,115.26L305.79,116.73L304.52,117.46L303.24,116.73L303.24,115.26ZM288.03,116.72L289.30,117.45L289.30,118.92L288.03,119.66L286.75,118.92L286.75,117.45ZM296.91,118.91L298.18,119.65L298.18,121.12L296.91,121.85L295.63,121.12L295.63,119.65ZM301.98,118.91L303.25,119.65L303.25,121.12L301.98,121.85L300.71,121.12L300.71,119.65ZM288.03,121.10L289.30,121.84L289.30,123.31L288.03,124.04L286.75,123.31L286.75,121.84ZM295.64,121.10L296.91,121.84L296.91,123.31L295.64,124.04L294.36,123.31L294.36,121.84ZM286.76,123.30L288.03,124.03L288.03,125.50L286.76,126.24L285.48,125.50L285.48,124.03ZM294.37,123.30L295.64,124.03L295.64,125.50L294.37,126.24L293.10,125.50L293.10,124.03ZM301.98,123.30L303.25,124.03L303.25,125.50L301.98,126.24L300.71,125.50L300.71,124.03ZM304.52,123.30L305.79,124.03L305.79,125.50L304.52,126.24L303.24,125.50L303.24,124.03ZM318.47,129.88L319.74,130.61L319.74,132.08L318.47,132.82L317.20,132.08L317.20,130.61ZM319.74,132.07L321.01,132.81L321.01,134.28L319.74,135.01L318.47,134.28L318.47,132.81ZM305.79,121.10L307.06,121.84L307.06,123.31L305.79,124.04L304.51,123.31L304.51,121.84Z" fill="#454b90" stroke="#2a2140" stroke-width="0.3" stroke-opacity="0.55"/>
<path d="M96.48,79.43L97.76,80.16L97.76,81.63L96.48,82.37L95.21,81.63L95.21,80.16ZM95.21,81.62L96.49,82.36L96.49,83.83L95.21,84.56L93.94,83.83L93.94,82.36ZM97.75,81.62L99.02,82.36L99.02,83.83L97.75,84.56L96.48,83.83L96.48,82.36ZM76.19,83.81L77.46,84.55L77.46,86.02L76.19,86.75L74.91,86.02L74.91,84.55ZM86.33,83.81L87.61,84.55L87.61,86.02L86.33,86.75L85.06,86.02L85.06,84.55ZM99.02,83.81L100.29,84.55L100.29,86.02L99.02,86.75L97.75,86.02L97.75,84.55ZM100.29,86.01L101.56,86.74L101.56,88.21L100.29,88.95L99.01,88.21L99.01,86.74ZM107.90,86.01L109.17,86.74L109.17,88.21L107.90,88.95L106.63,88.21L106.63,86.74ZM102.83,90.40L104.10,91.13L104.10,92.60L102.83,93.34L101.55,92.60L101.55,91.13ZM91.41,92.59L92.68,93.32L92.68,94.79L91.41,95.53L90.14,94.79L90.14,93.32ZM99.02,92.59L100.29,93.32L100.29,94.79L99.02,95.53L97.75,94.79L97.75,93.32ZM101.56,92.59L102.83,93.32L102.83,94.79L101.56,95.53L100.28,94.79L100.28,93.32ZM106.63,92.59L107.90,93.32L107.90,94.79L106.63,95.53L105.36,94.79L105.36,93.32ZM100.29,94.78L101.56,95.52L101.56,96.99L100.29,97.72L99.01,96.99L99.01,95.52ZM102.83,94.78L104.10,95.52L104.10,96.99L102.83,97.72L101.55,96.99L101.55,95.52ZM118.05,99.17L119.32,99.90L119.32,101.37L118.05,102.11L116.77,101.37L116.77,99.90ZM123.12,103.56L124.39,104.29L124.39,105.76L123.12,106.50L121.85,105.76L121.85,104.29ZM95.21,107.94L96.49,108.68L96.49,110.15L95.21,110.88L93.94,110.15L93.94,108.68ZM93.95,110.14L95.22,110.87L95.22,112.34L93.95,113.08L92.67,112.34L92.67,110.87ZM92.68,112.33L93.95,113.07L93.95,114.54L92.68,115.27L91.40,114.54L91.40,113.07ZM134.54,118.91L135.81,119.65L135.81,121.12L134.54,121.85L133.26,121.12L133.26,119.65ZM153.56,90.40L154.84,91.13L154.84,92.60L153.56,93.34L152.29,92.60L152.29,91.13ZM157.37,92.59L158.64,93.32L158.64,94.79L157.37,95.53L156.10,94.79L156.10,93.32ZM157.37,96.98L158.64,97.71L158.64,99.18L157.37,99.92L156.10,99.18L156.10,97.71ZM162.44,101.36L163.72,102.10L163.72,103.57L162.44,104.30L161.17,103.57L161.17,102.10ZM180.20,110.14L181.48,110.87L181.48,112.34L180.20,113.08L178.93,112.34L178.93,110.87ZM275.34,77.23L276.61,77.97L276.61,79.44L275.34,80.17L274.07,79.44L274.07,77.97ZM274.07,79.43L275.35,80.16L275.35,81.63L274.07,82.37L272.80,81.63L272.80,80.16ZM266.46,83.81L267.73,84.55L267.73,86.02L266.46,86.75L265.19,86.02L265.19,84.55ZM261.39,92.59L262.66,93.32L262.66,94.79L261.39,95.53L260.11,94.79L260.11,93.32ZM280.42,107.94L281.69,108.68L281.69,110.15L280.42,110.88L279.14,110.15L279.14,108.68ZM280.42,116.72L281.69,117.45L281.69,118.92L280.42,119.66L279.14,118.92L279.14,117.45ZM280.42,125.49L281.69,126.23L281.69,127.70L280.42,128.43L279.14,127.70L279.14,126.23ZM295.64,107.94L296.91,108.68L296.91,110.15L295.64,110.88L294.36,110.15L294.36,108.68ZM296.91,110.14L298.18,110.87L298.18,112.34L296.91,113.08L295.63,112.34L295.63,110.87ZM293.10,112.33L294.37,113.07L294.37,114.54L293.10,115.27L291.83,114.54L291.83,113.07ZM295.64,112.33L296.91,113.07L296.91,114.54L295.64,115.27L294.36,114.54L294.36,113.07ZM308.32,116.72L309.60,117.45L309.60,118.92L308.32,119.66L307.05,118.92L307.05,117.45ZM309.59,118.91L310.86,119.65L310.86,121.12L309.59,121.85L308.32,121.12L308.32,119.65ZM299.44,123.30L300.72,124.03L300.72,125.50L299.44,126.24L298.17,125.50L298.17,124.03ZM11.49,129.88L12.77,130.61L12.77,132.08L11.49,132.82L10.22,132.08L10.22,130.61Z" fill="#2c6f8f" stroke="#2a2140" stroke-width="0.3" stroke-opacity="0.55"/>
<path d="M104.09,79.43L105.37,80.16L105.37,81.63L104.09,82.37L102.82,81.63L102.82,80.16ZM91.41,83.81L92.68,84.55L92.68,86.02L91.41,86.75L90.14,86.02L90.14,84.55ZM83.80,88.20L85.07,88.94L85.07,90.41L83.80,91.14L82.52,90.41L82.52,88.94ZM90.14,90.40L91.41,91.13L91.41,92.60L90.14,93.34L88.87,92.60L88.87,91.13ZM95.21,90.40L96.49,91.13L96.49,92.60L95.21,93.34L93.94,92.60L93.94,91.13ZM91.41,96.98L92.68,97.71L92.68,99.18L91.41,99.92L90.14,99.18L90.14,97.71ZM112.97,90.40L114.25,91.13L114.25,92.60L112.97,93.34L111.70,92.60L111.70,91.13ZM115.51,90.40L116.78,91.13L116.78,92.60L115.51,93.34L114.24,92.60L114.24,91.13ZM86.33,105.75L87.61,106.48L87.61,107.95L86.33,108.69L85.06,107.95L85.06,106.48ZM92.68,107.94L93.95,108.68L93.95,110.15L92.68,110.88L91.40,110.15L91.40,108.68ZM123.12,107.94L124.39,108.68L124.39,110.15L123.12,110.88L121.85,110.15L121.85,108.68ZM134.54,127.68L135.81,128.42L135.81,129.89L134.54,130.62L133.26,129.89L133.26,128.42ZM129.46,132.07L130.74,132.81L130.74,134.28L129.46,135.01L128.19,134.28L128.19,132.81ZM158.64,94.78L159.91,95.52L159.91,96.99L158.64,97.72L157.37,96.99L157.37,95.52ZM159.91,96.98L161.18,97.71L161.18,99.18L159.91,99.92L158.63,99.18L158.63,97.71ZM180.20,101.36L181.48,102.10L181.48,103.57L180.20,104.30L178.93,103.57L178.93,102.10ZM281.68,70.65L282.96,71.39L282.96,72.86L281.68,73.59L280.41,72.86L280.41,71.39ZM277.88,77.23L279.15,77.97L279.15,79.44L277.88,80.17L276.60,79.44L276.60,77.97ZM253.78,83.81L255.05,84.55L255.05,86.02L253.78,86.75L252.50,86.02L252.50,84.55ZM284.22,88.20L285.49,88.94L285.49,90.41L284.22,91.14L282.95,90.41L282.95,88.94ZM257.58,94.78L258.86,95.52L258.86,96.99L257.58,97.72L256.31,96.99L256.31,95.52ZM270.27,94.78L271.54,95.52L271.54,96.99L270.27,97.72L268.99,96.99L268.99,95.52ZM280.42,94.78L281.69,95.52L281.69,96.99L280.42,97.72L279.14,96.99L279.14,95.52ZM262.66,99.17L263.93,99.90L263.93,101.37L262.66,102.11L261.38,101.37L261.38,99.90ZM285.49,94.78L286.76,95.52L286.76,96.99L285.49,97.72L284.22,96.99L284.22,95.52ZM289.29,96.98L290.57,97.71L290.57,99.18L289.29,99.92L288.02,99.18L288.02,97.71ZM288.03,99.17L289.30,99.90L289.30,101.37L288.03,102.11L286.75,101.37L286.75,99.90ZM286.76,101.36L288.03,102.10L288.03,103.57L286.76,104.30L285.48,103.57L285.48,102.10ZM289.29,101.36L290.57,102.10L290.57,103.57L289.29,104.30L288.02,103.57L288.02,102.10ZM282.95,103.56L284.23,104.29L284.23,105.76L282.95,106.50L281.68,105.76L281.68,104.29ZM290.56,103.56L291.84,104.29L291.84,105.76L290.56,106.50L289.29,105.76L289.29,104.29ZM274.07,105.75L275.35,106.48L275.35,107.95L274.07,108.69L272.80,107.95L272.80,106.48ZM286.76,105.75L288.03,106.48L288.03,107.95L286.76,108.69L285.48,107.95L285.48,106.48ZM294.37,105.75L295.64,106.48L295.64,107.95L294.37,108.69L293.10,107.95L293.10,106.48ZM285.49,107.94L286.76,108.68L286.76,110.15L285.49,110.88L284.22,110.15L284.22,108.68ZM299.44,114.52L300.72,115.26L300.72,116.73L299.44,117.46L298.17,116.73L298.17,115.26ZM289.29,118.91L290.57,119.65L290.57,121.12L289.29,121.85L288.02,121.12L288.02,119.65ZM317.20,127.68L318.47,128.42L318.47,129.89L317.20,130.62L315.93,129.89L315.93,128.42ZM334.96,123.30L336.23,124.03L336.23,125.50L334.96,126.24L333.69,125.50L333.69,124.03ZM6.42,121.10L7.69,121.84L7.69,123.31L6.42,124.04L5.15,123.31L5.15,121.84ZM11.49,121.10L12.77,121.84L12.77,123.31L11.49,124.04L10.22,123.31L10.22,121.84ZM7.69,127.68L8.96,128.42L8.96,129.89L7.69,130.62L6.41,129.89L6.41,128.42ZM260.12,99.17L261.39,99.90L261.39,101.37L260.12,102.11L258.85,101.37L258.85,99.90Z" fill="#f3e332" stroke="#2a2140" stroke-width="0.3" stroke-opacity="0.55"/>
<path d="M156.10,90.40L157.38,91.13L157.38,92.60L156.10,93.34L154.83,92.60L154.83,91.13ZM213.18,123.30L214.46,124.03L214.46,125.50L213.18,126.24L211.91,125.50L211.91,124.03ZM238.55,88.20L239.83,88.94L239.83,90.41L238.55,91.14L237.28,90.41L237.28,88.94ZM239.82,90.40L241.10,91.13L241.10,92.60L239.82,93.34L238.55,92.60L238.55,91.13ZM276.61,105.75L277.88,106.48L277.88,107.95L276.61,108.69L275.34,107.95L275.34,106.48Z" fill="#46276f" stroke="#2a2140" stroke-width="0.3" stroke-opacity="0.55"/>
</g>
<g transform="translate(345.87,0)">
<ellipse cx="169.6" cy="106.8" rx="169.7" ry="84.85" fill="#fff" stroke="#3a3a3a" stroke-width="0.65"/>
<g clip-path="url(#ell)"><use href="#land"/></g>
<path d="M93.95,70.65L95.22,71.39L95.22,72.86L93.95,73.59L92.67,72.86L92.67,71.39ZM72.38,72.85L73.65,73.58L73.65,75.05L72.38,75.79L71.11,75.05L71.11,73.58ZM90.14,72.85L91.41,73.58L91.41,75.05L90.14,75.79L88.87,75.05L88.87,73.58ZM92.68,72.85L93.95,73.58L93.95,75.05L92.68,75.79L91.40,75.05L91.40,73.58ZM83.80,75.04L85.07,75.78L85.07,77.25L83.80,77.98L82.52,77.25L82.52,75.78ZM101.56,75.04L102.83,75.78L102.83,77.25L101.56,77.98L100.28,77.25L100.28,75.78ZM102.83,77.23L104.10,77.97L104.10,79.44L102.83,80.17L101.55,79.44L101.55,77.97ZM88.87,79.43L90.14,80.16L90.14,81.63L88.87,82.37L87.60,81.63L87.60,80.16ZM87.60,81.62L88.88,82.36L88.88,83.83L87.60,84.56L86.33,83.83L86.33,82.36ZM92.68,81.62L93.95,82.36L93.95,83.83L92.68,84.56L91.40,83.83L91.40,82.36ZM105.36,81.62L106.64,82.36L106.64,83.83L105.36,84.56L104.09,83.83L104.09,82.36ZM83.80,83.81L85.07,84.55L85.07,86.02L83.80,86.75L82.52,86.02L82.52,84.55ZM99.02,83.81L100.29,84.55L100.29,86.02L99.02,86.75L97.75,86.02L97.75,84.55ZM101.56,83.81L102.83,84.55L102.83,86.02L101.56,86.75L100.28,86.02L100.28,84.55ZM109.17,83.81L110.44,84.55L110.44,86.02L109.17,86.75L107.89,86.02L107.89,84.55ZM111.70,83.81L112.98,84.55L112.98,86.02L111.70,86.75L110.43,86.02L110.43,84.55ZM82.53,86.01L83.80,86.74L83.80,88.21L82.53,88.95L81.26,88.21L81.26,86.74ZM85.07,86.01L86.34,86.74L86.34,88.21L85.07,88.95L83.79,88.21L83.79,86.74ZM100.29,86.01L101.56,86.74L101.56,88.21L100.29,88.95L99.01,88.21L99.01,86.74ZM102.83,86.01L104.10,86.74L104.10,88.21L102.83,88.95L101.55,88.21L101.55,86.74ZM107.90,86.01L109.17,86.74L109.17,88.21L107.90,88.95L106.63,88.21L106.63,86.74ZM110.44,86.01L111.71,86.74L111.71,88.21L110.44,88.95L109.16,88.21L109.16,86.74ZM102.83,90.40L104.10,91.13L104.10,92.60L102.83,93.34L101.55,92.60L101.55,91.13ZM105.36,90.40L106.64,91.13L106.64,92.60L105.36,93.34L104.09,92.60L104.09,91.13ZM106.63,92.59L107.90,93.32L107.90,94.79L106.63,95.53L105.36,94.79L105.36,93.32ZM102.83,94.78L104.10,95.52L104.10,96.99L102.83,97.72L101.55,96.99L101.55,95.52ZM107.90,94.78L109.17,95.52L109.17,96.99L107.90,97.72L106.63,96.99L106.63,95.52ZM115.51,68.46L116.78,69.20L116.78,70.67L115.51,71.40L114.24,70.67L114.24,69.20ZM112.97,86.01L114.25,86.74L114.25,88.21L112.97,88.95L111.70,88.21L111.70,86.74ZM111.70,88.20L112.98,88.94L112.98,90.41L111.70,91.14L110.43,90.41L110.43,88.94ZM114.24,88.20L115.51,88.94L115.51,90.41L114.24,91.14L112.97,90.41L112.97,88.94ZM115.51,90.40L116.78,91.13L116.78,92.60L115.51,93.34L114.24,92.60L114.24,91.13ZM114.24,92.59L115.51,93.32L115.51,94.79L114.24,95.53L112.97,94.79L112.97,93.32ZM92.68,107.94L93.95,108.68L93.95,110.15L92.68,110.88L91.40,110.15L91.40,108.68ZM129.46,132.07L130.74,132.81L130.74,134.28L129.46,135.01L128.19,134.28L128.19,132.81ZM154.83,88.20L156.11,88.94L156.11,90.41L154.83,91.14L153.56,90.41L153.56,88.94ZM172.59,96.98L173.87,97.71L173.87,99.18L172.59,99.92L171.32,99.18L171.32,97.71ZM166.25,99.17L167.52,99.90L167.52,101.37L166.25,102.11L164.98,101.37L164.98,99.90ZM180.20,105.75L181.48,106.48L181.48,107.95L180.20,108.69L178.93,107.95L178.93,106.48ZM210.65,105.75L211.92,106.48L211.92,107.95L210.65,108.69L209.37,107.95L209.37,106.48ZM206.84,107.94L208.12,108.68L208.12,110.15L206.84,110.88L205.57,110.15L205.57,108.68ZM209.38,107.94L210.65,108.68L210.65,110.15L209.38,110.88L208.11,110.15L208.11,108.68ZM205.57,110.14L206.85,110.87L206.85,112.34L205.57,113.08L204.30,112.34L204.30,110.87ZM208.11,110.14L209.38,110.87L209.38,112.34L208.11,113.08L206.84,112.34L206.84,110.87ZM206.84,112.33L208.12,113.07L208.12,114.54L206.84,115.27L205.57,114.54L205.57,113.07ZM205.57,114.52L206.85,115.26L206.85,116.73L205.57,117.46L204.30,116.73L204.30,115.26ZM208.11,114.52L209.38,115.26L209.38,116.73L208.11,117.46L206.84,116.73L206.84,115.26ZM209.38,116.72L210.65,117.45L210.65,118.92L209.38,119.66L208.11,118.92L208.11,117.45ZM211.92,116.72L213.19,117.45L213.19,118.92L211.92,119.66L210.64,118.92L210.64,117.45ZM214.45,116.72L215.73,117.45L215.73,118.92L214.45,119.66L213.18,118.92L213.18,117.45ZM182.74,118.91L184.01,119.65L184.01,121.12L182.74,121.85L181.47,121.12L181.47,119.65ZM208.11,118.91L209.38,119.65L209.38,121.12L208.11,121.85L206.84,121.12L206.84,119.65ZM210.65,118.91L211.92,119.65L211.92,121.12L210.65,121.85L209.37,121.12L209.37,119.65ZM215.72,118.91L216.99,119.65L216.99,121.12L215.72,121.85L214.45,121.12L214.45,119.65ZM206.84,121.10L208.12,121.84L208.12,123.31L206.84,124.04L205.57,123.31L205.57,121.84ZM211.92,121.10L213.19,121.84L213.19,123.31L211.92,124.04L210.64,123.31L210.64,121.84ZM214.45,121.10L215.73,121.84L215.73,123.31L214.45,124.04L213.18,123.31L213.18,121.84ZM216.99,121.10L218.26,121.84L218.26,123.31L216.99,124.04L215.72,123.31L215.72,121.84ZM205.57,123.30L206.85,124.03L206.85,125.50L205.57,126.24L204.30,125.50L204.30,124.03ZM208.11,123.30L209.38,124.03L209.38,125.50L208.11,126.24L206.84,125.50L206.84,124.03ZM210.65,123.30L211.92,124.03L211.92,125.50L210.65,126.24L209.37,125.50L209.37,124.03ZM213.18,123.30L214.46,124.03L214.46,125.50L213.18,126.24L211.91,125.50L211.91,124.03ZM215.72,123.30L216.99,124.03L216.99,125.50L215.72,126.24L214.45,125.50L214.45,124.03ZM204.31,125.49L205.58,126.23L205.58,127.70L204.31,128.43L203.03,127.70L203.03,126.23ZM206.84,125.49L208.12,126.23L208.12,127.70L206.84,128.43L205.57,127.70L205.57,126.23ZM209.38,125.49L210.65,126.23L210.65,127.70L209.38,128.43L208.11,127.70L208.11,126.23ZM211.92,125.49L213.19,126.23L213.19,127.70L211.92,128.43L210.64,127.70L210.64,126.23ZM214.45,125.49L215.73,126.23L215.73,127.70L214.45,128.43L213.18,127.70L213.18,126.23ZM200.50,127.68L201.77,128.42L201.77,129.89L200.50,130.62L199.23,129.89L199.23,128.42ZM203.04,127.68L204.31,128.42L204.31,129.89L203.04,130.62L201.76,129.89L201.76,128.42ZM210.65,127.68L211.92,128.42L211.92,129.89L210.65,130.62L209.37,129.89L209.37,128.42ZM213.18,127.68L214.46,128.42L214.46,129.89L213.18,130.62L211.91,129.89L211.91,128.42ZM201.77,129.88L203.04,130.61L203.04,132.08L201.77,132.82L200.49,132.08L200.49,130.61ZM209.38,129.88L210.65,130.61L210.65,132.08L209.38,132.82L208.11,132.08L208.11,130.61ZM200.50,132.07L201.77,132.81L201.77,134.28L200.50,135.01L199.23,134.28L199.23,132.81ZM205.57,132.07L206.85,132.81L206.85,134.28L205.57,135.01L204.30,134.28L204.30,132.81ZM208.11,132.07L209.38,132.81L209.38,134.28L208.11,135.01L206.84,134.28L206.84,132.81ZM199.23,134.27L200.50,135.00L200.50,136.47L199.23,137.21L197.96,136.47L197.96,135.00ZM201.77,134.27L203.04,135.00L203.04,136.47L201.77,137.21L200.49,136.47L200.49,135.00ZM209.38,134.27L210.65,135.00L210.65,136.47L209.38,137.21L208.11,136.47L208.11,135.00ZM197.96,136.46L199.24,137.19L199.24,138.66L197.96,139.40L196.69,138.66L196.69,137.19ZM196.69,138.65L197.97,139.39L197.97,140.86L196.69,141.59L195.42,140.86L195.42,139.39ZM195.43,140.85L196.70,141.58L196.70,143.05L195.43,143.79L194.15,143.05L194.15,141.58ZM191.62,143.04L192.89,143.77L192.89,145.24L191.62,145.98L190.35,145.24L190.35,143.77ZM194.16,143.04L195.43,143.77L195.43,145.24L194.16,145.98L192.88,145.24L192.88,143.77ZM219.53,112.33L220.80,113.07L220.80,114.54L219.53,115.27L218.25,114.54L218.25,113.07ZM219.53,129.88L220.80,130.61L220.80,132.08L219.53,132.82L218.25,132.08L218.25,130.61ZM199.23,72.85L200.50,73.58L200.50,75.05L199.23,75.79L197.96,75.05L197.96,73.58ZM200.50,75.04L201.77,75.78L201.77,77.25L200.50,77.98L199.23,77.25L199.23,75.78ZM213.18,75.04L214.46,75.78L214.46,77.25L213.18,77.98L211.91,77.25L211.91,75.78ZM215.72,75.04L216.99,75.78L216.99,77.25L215.72,77.98L214.45,77.25L214.45,75.78ZM218.26,75.04L219.53,75.78L219.53,77.25L218.26,77.98L216.99,77.25L216.99,75.78ZM220.80,75.04L222.07,75.78L222.07,77.25L220.80,77.98L219.52,77.25L219.52,75.78ZM201.77,77.23L203.04,77.97L203.04,79.44L201.77,80.17L200.49,79.44L200.49,77.97ZM204.31,77.23L205.58,77.97L205.58,79.44L204.31,80.17L203.03,79.44L203.03,77.97ZM219.53,77.23L220.80,77.97L220.80,79.44L219.53,80.17L218.25,79.44L218.25,77.97ZM222.06,77.23L223.34,77.97L223.34,79.44L222.06,80.17L220.79,79.44L220.79,77.97ZM227.14,77.23L228.41,77.97L228.41,79.44L227.14,80.17L225.86,79.44L225.86,77.97ZM229.68,77.23L230.95,77.97L230.95,79.44L229.68,80.17L228.40,79.44L228.40,77.97ZM200.50,79.43L201.77,80.16L201.77,81.63L200.50,82.37L199.23,81.63L199.23,80.16ZM203.04,79.43L204.31,80.16L204.31,81.63L203.04,82.37L201.76,81.63L201.76,80.16ZM205.57,79.43L206.85,80.16L206.85,81.63L205.57,82.37L204.30,81.63L204.30,80.16ZM223.33,79.43L224.61,80.16L224.61,81.63L223.33,82.37L222.06,81.63L222.06,80.16ZM233.48,79.43L234.75,80.16L234.75,81.63L233.48,82.37L232.21,81.63L232.21,80.16ZM236.02,79.43L237.29,80.16L237.29,81.63L236.02,82.37L234.74,81.63L234.74,80.16ZM201.77,81.62L203.04,82.36L203.04,83.83L201.77,84.56L200.49,83.83L200.49,82.36ZM204.31,81.62L205.58,82.36L205.58,83.83L204.31,84.56L203.03,83.83L203.03,82.36ZM206.84,81.62L208.12,82.36L208.12,83.83L206.84,84.56L205.57,83.83L205.57,82.36ZM232.21,81.62L233.49,82.36L233.49,83.83L232.21,84.56L230.94,83.83L230.94,82.36ZM203.04,83.81L204.31,84.55L204.31,86.02L203.04,86.75L201.76,86.02L201.76,84.55ZM205.57,83.81L206.85,84.55L206.85,86.02L205.57,86.75L204.30,86.02L204.30,84.55ZM208.11,83.81L209.38,84.55L209.38,86.02L208.11,86.75L206.84,86.02L206.84,84.55ZM236.02,83.81L237.29,84.55L237.29,86.02L236.02,86.75L234.74,86.02L234.74,84.55ZM204.31,86.01L205.58,86.74L205.58,88.21L204.31,88.95L203.03,88.21L203.03,86.74ZM206.84,86.01L208.12,86.74L208.12,88.21L206.84,88.95L205.57,88.21L205.57,86.74ZM209.38,86.01L210.65,86.74L210.65,88.21L209.38,88.95L208.11,88.21L208.11,86.74ZM219.53,86.01L220.80,86.74L220.80,88.21L219.53,88.95L218.25,88.21L218.25,86.74ZM237.29,86.01L238.56,86.74L238.56,88.21L237.29,88.95L236.01,88.21L236.01,86.74ZM205.57,88.20L206.85,88.94L206.85,90.41L205.57,91.14L204.30,90.41L204.30,88.94ZM208.11,88.20L209.38,88.94L209.38,90.41L208.11,91.14L206.84,90.41L206.84,88.94ZM238.55,88.20L239.83,88.94L239.83,90.41L238.55,91.14L237.28,90.41L237.28,88.94ZM209.38,90.40L210.65,91.13L210.65,92.60L209.38,93.34L208.11,92.60L208.11,91.13ZM219.53,90.40L220.80,91.13L220.80,92.60L219.53,93.34L218.25,92.60L218.25,91.13ZM237.29,90.40L238.56,91.13L238.56,92.60L237.29,93.34L236.01,92.60L236.01,91.13ZM239.82,90.40L241.10,91.13L241.10,92.60L239.82,93.34L238.55,92.60L238.55,91.13ZM210.65,92.59L211.92,93.32L211.92,94.79L210.65,95.53L209.37,94.79L209.37,93.32ZM213.18,92.59L214.46,93.32L214.46,94.79L213.18,95.53L211.91,94.79L211.91,93.32ZM215.72,92.59L216.99,93.32L216.99,94.79L215.72,95.53L214.45,94.79L214.45,93.32ZM218.26,92.59L219.53,93.32L219.53,94.79L218.26,95.53L216.99,94.79L216.99,93.32ZM238.55,92.59L239.83,93.32L239.83,94.79L238.55,95.53L237.28,94.79L237.28,93.32ZM241.09,92.59L242.36,93.32L242.36,94.79L241.09,95.53L239.82,94.79L239.82,93.32ZM239.82,94.78L241.10,95.52L241.10,96.99L239.82,97.72L238.55,96.99L238.55,95.52ZM242.36,94.78L243.63,95.52L243.63,96.99L242.36,97.72L241.09,96.99L241.09,95.52ZM244.90,94.78L246.17,95.52L246.17,96.99L244.90,97.72L243.62,96.99L243.62,95.52ZM238.55,96.98L239.83,97.71L239.83,99.18L238.55,99.92L237.28,99.18L237.28,97.71ZM241.09,96.98L242.36,97.71L242.36,99.18L241.09,99.92L239.82,99.18L239.82,97.71ZM237.29,99.17L238.56,99.90L238.56,101.37L237.29,102.11L236.01,101.37L236.01,99.90ZM239.82,99.17L241.10,99.90L241.10,101.37L239.82,102.11L238.55,101.37L238.55,99.90ZM238.55,101.36L239.83,102.10L239.83,103.57L238.55,104.30L237.28,103.57L237.28,102.10ZM275.34,72.85L276.61,73.58L276.61,75.05L275.34,75.79L274.07,75.05L274.07,73.58ZM234.75,81.62L236.02,82.36L236.02,83.83L234.75,84.56L233.48,83.83L233.48,82.36ZM267.73,86.01L269.00,86.74L269.00,88.21L267.73,88.95L266.46,88.21L266.46,86.74ZM282.95,86.01L284.23,86.74L284.23,88.21L282.95,88.95L281.68,88.21L281.68,86.74ZM284.22,88.20L285.49,88.94L285.49,90.41L284.22,91.14L282.95,90.41L282.95,88.94ZM262.66,90.40L263.93,91.13L263.93,92.60L262.66,93.34L261.38,92.60L261.38,91.13ZM265.19,90.40L266.47,91.13L266.47,92.60L265.19,93.34L263.92,92.60L263.92,91.13ZM270.27,90.40L271.54,91.13L271.54,92.60L270.27,93.34L268.99,92.60L268.99,91.13ZM263.92,92.59L265.20,93.32L265.20,94.79L263.92,95.53L262.65,94.79L262.65,93.32ZM271.54,92.59L272.81,93.32L272.81,94.79L271.54,95.53L270.26,94.79L270.26,93.32ZM257.58,94.78L258.86,95.52L258.86,96.99L257.58,97.72L256.31,96.99L256.31,95.52ZM243.63,96.98L244.90,97.71L244.90,99.18L243.63,99.92L242.36,99.18L242.36,97.71ZM246.17,96.98L247.44,97.71L247.44,99.18L246.17,99.92L244.89,99.18L244.89,97.71ZM258.85,96.98L260.12,97.71L260.12,99.18L258.85,99.92L257.58,99.18L257.58,97.71ZM244.90,99.17L246.17,99.90L246.17,101.37L244.90,102.11L243.62,101.37L243.62,99.90ZM267.73,99.17L269.00,99.90L269.00,101.37L267.73,102.11L266.46,101.37L266.46,99.90ZM269.00,101.36L270.27,102.10L270.27,103.57L269.00,104.30L267.73,103.57L267.73,102.10ZM274.07,101.36L275.35,102.10L275.35,103.57L274.07,104.30L272.80,103.57L272.80,102.10ZM276.61,101.36L277.88,102.10L277.88,103.57L276.61,104.30L275.34,103.57L275.34,102.10ZM303.25,90.40L304.52,91.13L304.52,92.60L303.25,93.34L301.97,92.60L301.97,91.13ZM298.17,94.78L299.45,95.52L299.45,96.99L298.17,97.72L296.90,96.99L296.90,95.52ZM294.37,96.98L295.64,97.71L295.64,99.18L294.37,99.92L293.10,99.18L293.10,97.71ZM296.91,96.98L298.18,97.71L298.18,99.18L296.91,99.92L295.63,99.18L295.63,97.71ZM312.13,96.98L313.40,97.71L313.40,99.18L312.13,99.92L310.85,99.18L310.85,97.71ZM317.20,96.98L318.47,97.71L318.47,99.18L317.20,99.92L315.93,99.18L315.93,97.71ZM277.88,99.17L279.15,99.90L279.15,101.37L277.88,102.11L276.60,101.37L276.60,99.90ZM285.49,99.17L286.76,99.90L286.76,101.37L285.49,102.11L284.22,101.37L284.22,99.90ZM323.54,99.17L324.82,99.90L324.82,101.37L323.54,102.11L322.27,101.37L322.27,99.90ZM267.73,103.56L269.00,104.29L269.00,105.76L267.73,106.50L266.46,105.76L266.46,104.29ZM238.55,105.75L239.83,106.48L239.83,107.95L238.55,108.69L237.28,107.95L237.28,106.48ZM263.92,105.75L265.20,106.48L265.20,107.95L263.92,108.69L262.65,107.95L262.65,106.48ZM269.00,105.75L270.27,106.48L270.27,107.95L269.00,108.69L267.73,107.95L267.73,106.48ZM265.19,107.94L266.47,108.68L266.47,110.15L265.19,110.88L263.92,110.15L263.92,108.68ZM275.34,107.94L276.61,108.68L276.61,110.15L275.34,110.88L274.07,110.15L274.07,108.68ZM263.92,110.14L265.20,110.87L265.20,112.34L263.92,113.08L262.65,112.34L262.65,110.87ZM272.80,112.33L274.08,113.07L274.08,114.54L272.80,115.27L271.53,114.54L271.53,113.07ZM275.34,112.33L276.61,113.07L276.61,114.54L275.34,115.27L274.07,114.54L274.07,113.07ZM277.88,112.33L279.15,113.07L279.15,114.54L277.88,115.27L276.60,114.54L276.60,113.07ZM271.54,114.52L272.81,115.26L272.81,116.73L271.54,117.46L270.26,116.73L270.26,115.26ZM274.07,114.52L275.35,115.26L275.35,116.73L274.07,117.46L272.80,116.73L272.80,115.26ZM276.61,114.52L277.88,115.26L277.88,116.73L276.61,117.46L275.34,116.73L275.34,115.26ZM275.34,116.72L276.61,117.45L276.61,118.92L275.34,119.66L274.07,118.92L274.07,117.45ZM279.15,127.68L280.42,128.42L280.42,129.89L279.15,130.62L277.87,129.89L277.87,128.42ZM281.68,127.68L282.96,128.42L282.96,129.89L281.68,130.62L280.41,129.89L280.41,128.42ZM275.34,129.88L276.61,130.61L276.61,132.08L275.34,132.82L274.07,132.08L274.07,130.61ZM270.27,134.27L271.54,135.00L271.54,136.47L270.27,137.21L268.99,136.47L268.99,135.00ZM269.00,136.46L270.27,137.19L270.27,138.66L269.00,139.40L267.73,138.66L267.73,137.19ZM296.91,105.75L298.18,106.48L298.18,107.95L296.91,108.69L295.63,107.95L295.63,106.48ZM301.98,110.14L303.25,110.87L303.25,112.34L301.98,113.08L300.71,112.34L300.71,110.87ZM307.05,110.14L308.33,110.87L308.33,112.34L307.05,113.08L305.78,112.34L305.78,110.87ZM314.66,110.14L315.94,110.87L315.94,112.34L314.66,113.08L313.39,112.34L313.39,110.87ZM305.79,112.33L307.06,113.07L307.06,114.54L305.79,115.27L304.51,114.54L304.51,113.07ZM313.40,112.33L314.67,113.07L314.67,114.54L313.40,115.27L312.12,114.54L312.12,113.07ZM296.91,114.52L298.18,115.26L298.18,116.73L296.91,117.46L295.63,116.73L295.63,115.26ZM314.66,114.52L315.94,115.26L315.94,116.73L314.66,117.46L313.39,116.73L313.39,115.26ZM317.20,114.52L318.47,115.26L318.47,116.73L317.20,117.46L315.93,116.73L315.93,115.26ZM319.74,114.52L321.01,115.26L321.01,116.73L319.74,117.46L318.47,116.73L318.47,115.26ZM310.86,116.72L312.13,117.45L312.13,118.92L310.86,119.66L309.59,118.92L309.59,117.45ZM313.40,116.72L314.67,117.45L314.67,118.92L313.40,119.66L312.12,118.92L312.12,117.45ZM315.93,116.72L317.21,117.45L317.21,118.92L315.93,119.66L314.66,118.92L314.66,117.45ZM318.47,116.72L319.74,117.45L319.74,118.92L318.47,119.66L317.20,118.92L317.20,117.45ZM321.01,116.72L322.28,117.45L322.28,118.92L321.01,119.66L319.73,118.92L319.73,117.45ZM304.52,118.91L305.79,119.65L305.79,121.12L304.52,121.85L303.24,121.12L303.24,119.65ZM309.59,118.91L310.86,119.65L310.86,121.12L309.59,121.85L308.32,121.12L308.32,119.65ZM312.13,118.91L313.40,119.65L313.40,121.12L312.13,121.85L310.85,121.12L310.85,119.65ZM319.74,118.91L321.01,119.65L321.01,121.12L319.74,121.85L318.47,121.12L318.47,119.65ZM322.28,118.91L323.55,119.65L323.55,121.12L322.28,121.85L321.00,121.12L321.00,119.65ZM324.81,118.91L326.09,119.65L326.09,121.12L324.81,121.85L323.54,121.12L323.54,119.65ZM300.71,121.10L301.98,121.84L301.98,123.31L300.71,124.04L299.44,123.31L299.44,121.84ZM303.25,121.10L304.52,121.84L304.52,123.31L303.25,124.04L301.97,123.31L301.97,121.84ZM289.29,123.30L290.57,124.03L290.57,125.50L289.29,126.24L288.02,125.50L288.02,124.03ZM296.91,123.30L298.18,124.03L298.18,125.50L296.91,126.24L295.63,125.50L295.63,124.03ZM301.98,123.30L303.25,124.03L303.25,125.50L301.98,126.24L300.71,125.50L300.71,124.03ZM304.52,123.30L305.79,124.03L305.79,125.50L304.52,126.24L303.24,125.50L303.24,124.03ZM323.54,125.49L324.82,126.23L324.82,127.70L323.54,128.43L322.27,127.70L322.27,126.23ZM301.98,127.68L303.25,128.42L303.25,129.89L301.98,130.62L300.71,129.89L300.71,128.42ZM303.25,129.88L304.52,130.61L304.52,132.08L303.25,132.82L301.97,132.08L301.97,130.61ZM276.61,132.07L277.88,132.81L277.88,134.28L276.61,135.01L275.34,134.28L275.34,132.81ZM304.52,132.07L305.79,132.81L305.79,134.28L304.52,135.01L303.24,134.28L303.24,132.81ZM305.79,134.27L307.06,135.00L307.06,136.47L305.79,137.21L304.51,136.47L304.51,135.00ZM304.52,136.46L305.79,137.19L305.79,138.66L304.52,139.40L303.24,138.66L303.24,137.19ZM300.71,138.65L301.98,139.39L301.98,140.86L300.71,141.59L299.44,140.86L299.44,139.39ZM303.25,138.65L304.52,139.39L304.52,140.86L303.25,141.59L301.97,140.86L301.97,139.39ZM333.69,103.56L334.97,104.29L334.97,105.76L333.69,106.50L332.42,105.76L332.42,104.29ZM337.50,114.52L338.77,115.26L338.77,116.73L337.50,117.46L336.22,116.73L336.22,115.26ZM334.96,123.30L336.23,124.03L336.23,125.50L334.96,126.24L333.69,125.50L333.69,124.03ZM309.59,105.75L310.86,106.48L310.86,107.95L309.59,108.69L308.32,107.95L308.32,106.48ZM321.01,112.33L322.28,113.07L322.28,114.54L321.01,115.27L319.73,114.54L319.73,113.07ZM312.13,114.52L313.40,115.26L313.40,116.73L312.13,117.46L310.85,116.73L310.85,115.26ZM322.28,114.52L323.55,115.26L323.55,116.73L322.28,117.46L321.00,116.73L321.00,115.26ZM305.79,121.10L307.06,121.84L307.06,123.31L305.79,124.04L304.51,123.31L304.51,121.84ZM299.44,140.85L300.72,141.58L300.72,143.05L299.44,143.79L298.17,143.05L298.17,141.58ZM301.98,140.85L303.25,141.58L303.25,143.05L301.98,143.79L300.71,143.05L300.71,141.58ZM298.17,143.04L299.45,143.77L299.45,145.24L298.17,145.98L296.90,145.24L296.90,143.77ZM270.27,138.65L271.54,139.39L271.54,140.86L270.27,141.59L268.99,140.86L268.99,139.39ZM295.64,143.04L296.91,143.77L296.91,145.24L295.64,145.98L294.36,145.24L294.36,143.77ZM294.37,145.23L295.64,145.97L295.64,147.44L294.37,148.17L293.10,147.44L293.10,145.97ZM296.91,145.23L298.18,145.97L298.18,147.44L296.91,148.17L295.63,147.44L295.63,145.97ZM286.76,149.62L288.03,150.35L288.03,151.82L286.76,152.56L285.48,151.82L285.48,150.35ZM289.29,149.62L290.57,150.35L290.57,151.82L289.29,152.56L288.02,151.82L288.02,150.35ZM293.10,147.43L294.37,148.16L294.37,149.63L293.10,150.37L291.83,149.63L291.83,148.16ZM303.25,134.27L304.52,135.00L304.52,136.47L303.25,137.21L301.97,136.47L301.97,135.00ZM25.45,79.43L26.72,80.16L26.72,81.63L25.45,82.37L24.17,81.63L24.17,80.16ZM26.72,81.62L27.99,82.36L27.99,83.83L26.72,84.56L25.44,83.83L25.44,82.36ZM29.25,81.62L30.53,82.36L30.53,83.83L29.25,84.56L27.98,83.83L27.98,82.36ZM27.98,83.81L29.26,84.55L29.26,86.02L27.98,86.75L26.71,86.02L26.71,84.55ZM7.69,110.14L8.96,110.87L8.96,112.34L7.69,113.08L6.41,112.34L6.41,110.87ZM22.91,127.68L24.18,128.42L24.18,129.89L22.91,130.62L21.64,129.89L21.64,128.42ZM25.45,127.68L26.72,128.42L26.72,129.89L25.45,130.62L24.17,129.89L24.17,128.42ZM26.72,129.88L27.99,130.61L27.99,132.08L26.72,132.82L25.44,132.08L25.44,130.61ZM29.25,125.49L30.53,126.23L30.53,127.70L29.25,128.43L27.98,127.70L27.98,126.23ZM31.79,125.49L33.06,126.23L33.06,127.70L31.79,128.43L30.52,127.70L30.52,126.23ZM34.33,125.49L35.60,126.23L35.60,127.70L34.33,128.43L33.05,127.70L33.05,126.23ZM33.06,127.68L34.33,128.42L34.33,129.89L33.06,130.62L31.78,129.89L31.78,128.42ZM328.62,99.17L329.89,99.90L329.89,101.37L328.62,102.11L327.34,101.37L327.34,99.90ZM331.15,99.17L332.43,99.90L332.43,101.37L331.15,102.11L329.88,101.37L329.88,99.90ZM332.42,101.36L333.70,102.10L333.70,103.57L332.42,104.30L331.15,103.57L331.15,102.10ZM312.13,145.23L313.40,145.97L313.40,147.44L312.13,148.17L310.85,147.44L310.85,145.97ZM314.66,145.23L315.94,145.97L315.94,147.44L314.66,148.17L313.39,147.44L313.39,145.97ZM313.40,147.43L314.67,148.16L314.67,149.63L313.40,150.37L312.12,149.63L312.12,148.16ZM312.13,149.62L313.40,150.35L313.40,151.82L312.13,152.56L310.85,151.82L310.85,150.35ZM286.76,118.91L288.03,119.65L288.03,121.12L286.76,121.85L285.48,121.12L285.48,119.65Z" fill="#3d1052" stroke="#2a2140" stroke-width="0.3" stroke-opacity="0.55"/>
<path d="M69.84,72.85L71.12,73.58L71.12,75.05L69.84,75.79L68.57,75.05L68.57,73.58ZM69.84,77.23L71.12,77.97L71.12,79.44L69.84,80.17L68.57,79.44L68.57,77.97ZM72.38,77.23L73.65,77.97L73.65,79.44L72.38,80.17L71.11,79.44L71.11,77.97ZM81.26,79.43L82.53,80.16L82.53,81.63L81.26,82.37L79.99,81.63L79.99,80.16ZM104.09,79.43L105.37,80.16L105.37,81.63L104.09,82.37L102.82,81.63L102.82,80.16ZM90.14,81.62L91.41,82.36L91.41,83.83L90.14,84.56L88.87,83.83L88.87,82.36ZM102.83,81.62L104.10,82.36L104.10,83.83L102.83,84.56L101.55,83.83L101.55,82.36ZM86.33,83.81L87.61,84.55L87.61,86.02L86.33,86.75L85.06,86.02L85.06,84.55ZM87.60,86.01L88.88,86.74L88.88,88.21L87.60,88.95L86.33,88.21L86.33,86.74ZM105.36,86.01L106.64,86.74L106.64,88.21L105.36,88.95L104.09,88.21L104.09,86.74ZM91.41,88.20L92.68,88.94L92.68,90.41L91.41,91.14L90.14,90.41L90.14,88.94ZM93.95,88.20L95.22,88.94L95.22,90.41L93.95,91.14L92.67,90.41L92.67,88.94ZM87.60,90.40L88.88,91.13L88.88,92.60L87.60,93.34L86.33,92.60L86.33,91.13ZM92.68,90.40L93.95,91.13L93.95,92.60L92.68,93.34L91.40,92.60L91.40,91.13ZM95.21,94.78L96.49,95.52L96.49,96.99L95.21,97.72L93.94,96.99L93.94,95.52ZM97.75,94.78L99.02,95.52L99.02,96.99L97.75,97.72L96.48,96.99L96.48,95.52ZM112.97,94.78L114.25,95.52L114.25,96.99L112.97,97.72L111.70,96.99L111.70,95.52ZM114.24,96.98L115.51,97.71L115.51,99.18L114.24,99.92L112.97,99.18L112.97,97.71ZM115.51,99.17L116.78,99.90L116.78,101.37L115.51,102.11L114.24,101.37L114.24,99.90ZM123.12,103.56L124.39,104.29L124.39,105.76L123.12,106.50L121.85,105.76L121.85,104.29ZM93.95,105.75L95.22,106.48L95.22,107.95L93.95,108.69L92.67,107.95L92.67,106.48ZM121.85,105.75L123.13,106.48L123.13,107.95L121.85,108.69L120.58,107.95L120.58,106.48ZM124.39,105.75L125.66,106.48L125.66,107.95L124.39,108.69L123.12,107.95L123.12,106.48ZM95.21,107.94L96.49,108.68L96.49,110.15L95.21,110.88L93.94,110.15L93.94,108.68ZM123.12,107.94L124.39,108.68L124.39,110.15L123.12,110.88L121.85,110.15L121.85,108.68ZM93.95,110.14L95.22,110.87L95.22,112.34L93.95,113.08L92.67,112.34L92.67,110.87ZM135.81,116.72L137.08,117.45L137.08,118.92L135.81,119.66L134.53,118.92L134.53,117.45ZM134.54,123.30L135.81,124.03L135.81,125.50L134.54,126.24L133.26,125.50L133.26,124.03ZM133.27,125.49L134.54,126.23L134.54,127.70L133.27,128.43L132.00,127.70L132.00,126.23ZM132.00,132.07L133.27,132.81L133.27,134.28L132.00,135.01L130.73,134.28L130.73,132.81ZM153.56,90.40L154.84,91.13L154.84,92.60L153.56,93.34L152.29,92.60L152.29,91.13ZM156.10,90.40L157.38,91.13L157.38,92.60L156.10,93.34L154.83,92.60L154.83,91.13ZM154.83,92.59L156.11,93.32L156.11,94.79L154.83,95.53L153.56,94.79L153.56,93.32ZM161.18,99.17L162.45,99.90L162.45,101.37L161.18,102.11L159.90,101.37L159.90,99.90ZM175.13,101.36L176.40,102.10L176.40,103.57L175.13,104.30L173.86,103.57L173.86,102.10ZM177.67,101.36L178.94,102.10L178.94,103.57L177.67,104.30L176.39,103.57L176.39,102.10ZM178.94,103.56L180.21,104.29L180.21,105.76L178.94,106.50L177.66,105.76L177.66,104.29ZM177.67,105.75L178.94,106.48L178.94,107.95L177.67,108.69L176.39,107.95L176.39,106.48ZM181.47,112.33L182.75,113.07L182.75,114.54L181.47,115.27L180.20,114.54L180.20,113.07ZM274.07,75.04L275.35,75.78L275.35,77.25L274.07,77.98L272.80,77.25L272.80,75.78ZM274.07,79.43L275.35,80.16L275.35,81.63L274.07,82.37L272.80,81.63L272.80,80.16ZM247.43,81.62L248.71,82.36L248.71,83.83L247.43,84.56L246.16,83.83L246.16,82.36ZM252.51,81.62L253.78,82.36L253.78,83.83L252.51,84.56L251.23,83.83L251.23,82.36ZM266.46,83.81L267.73,84.55L267.73,86.02L266.46,86.75L265.19,86.02L265.19,84.55ZM255.05,86.01L256.32,86.74L256.32,88.21L255.05,88.95L253.77,88.21L253.77,86.74ZM262.66,99.17L263.93,99.90L263.93,101.37L262.66,102.11L261.38,101.37L261.38,99.90ZM280.42,99.17L281.69,99.90L281.69,101.37L280.42,102.11L279.14,101.37L279.14,99.90ZM263.92,101.36L265.20,102.10L265.20,103.57L263.92,104.30L262.65,103.57L262.65,102.10ZM286.76,96.98L288.03,97.71L288.03,99.18L286.76,99.92L285.48,99.18L285.48,97.71ZM289.29,96.98L290.57,97.71L290.57,99.18L289.29,99.92L288.02,99.18L288.02,97.71ZM275.34,103.56L276.61,104.29L276.61,105.76L275.34,106.50L274.07,105.76L274.07,104.29ZM260.12,103.56L261.39,104.29L261.39,105.76L260.12,106.50L258.85,105.76L258.85,104.29ZM265.19,103.56L266.47,104.29L266.47,105.76L265.19,106.50L263.92,105.76L263.92,104.29ZM270.27,103.56L271.54,104.29L271.54,105.76L270.27,106.50L268.99,105.76L268.99,104.29ZM261.39,105.75L262.66,106.48L262.66,107.95L261.39,108.69L260.11,107.95L260.11,106.48ZM271.54,105.75L272.81,106.48L272.81,107.95L271.54,108.69L270.26,107.95L270.26,106.48ZM262.66,107.94L263.93,108.68L263.93,110.15L262.66,110.88L261.38,110.15L261.38,108.68ZM267.73,107.94L269.00,108.68L269.00,110.15L267.73,110.88L266.46,110.15L266.46,108.68ZM270.27,107.94L271.54,108.68L271.54,110.15L270.27,110.88L268.99,110.15L268.99,108.68ZM277.88,107.94L279.15,108.68L279.15,110.15L277.88,110.88L276.60,110.15L276.60,108.68ZM269.00,110.14L270.27,110.87L270.27,112.34L269.00,113.08L267.73,112.34L267.73,110.87ZM271.54,110.14L272.81,110.87L272.81,112.34L271.54,113.08L270.26,112.34L270.26,110.87ZM274.07,110.14L275.35,110.87L275.35,112.34L274.07,113.08L272.80,112.34L272.80,110.87ZM276.61,110.14L277.88,110.87L277.88,112.34L276.61,113.08L275.34,112.34L275.34,110.87ZM267.73,112.33L269.00,113.07L269.00,114.54L267.73,115.27L266.46,114.54L266.46,113.07ZM269.00,114.52L270.27,115.26L270.27,116.73L269.00,117.46L267.73,116.73L267.73,115.26ZM280.42,116.72L281.69,117.45L281.69,118.92L280.42,119.66L279.14,118.92L279.14,117.45ZM303.25,107.94L304.52,108.68L304.52,110.15L303.25,110.88L301.97,110.15L301.97,108.68ZM313.40,107.94L314.67,108.68L314.67,110.15L313.40,110.88L312.12,110.15L312.12,108.68ZM296.91,110.14L298.18,110.87L298.18,112.34L296.91,113.08L295.63,112.34L295.63,110.87ZM304.52,110.14L305.79,110.87L305.79,112.34L304.52,113.08L303.24,112.34L303.24,110.87ZM298.17,112.33L299.45,113.07L299.45,114.54L298.17,115.27L296.90,114.54L296.90,113.07ZM300.71,112.33L301.98,113.07L301.98,114.54L300.71,115.27L299.44,114.54L299.44,113.07ZM294.37,114.52L295.64,115.26L295.64,116.73L294.37,117.46L293.10,116.73L293.10,115.26ZM299.44,114.52L300.72,115.26L300.72,116.73L299.44,117.46L298.17,116.73L298.17,115.26ZM307.05,114.52L308.33,115.26L308.33,116.73L307.05,117.46L305.78,116.73L305.78,115.26ZM300.71,116.72L301.98,117.45L301.98,118.92L300.71,119.66L299.44,118.92L299.44,117.45ZM305.79,116.72L307.06,117.45L307.06,118.92L305.79,119.66L304.51,118.92L304.51,117.45ZM284.22,118.91L285.49,119.65L285.49,121.12L284.22,121.85L282.95,121.12L282.95,119.65ZM289.29,118.91L290.57,119.65L290.57,121.12L289.29,121.85L288.02,121.12L288.02,119.65ZM296.91,118.91L298.18,119.65L298.18,121.12L296.91,121.85L295.63,121.12L295.63,119.65ZM295.64,121.10L296.91,121.84L296.91,123.31L295.64,124.04L294.36,123.31L294.36,121.84ZM294.37,123.30L295.64,124.03L295.64,125.50L294.37,126.24L293.10,125.50L293.10,124.03ZM295.64,125.49L296.91,126.23L296.91,127.70L295.64,128.43L294.36,127.70L294.36,126.23ZM298.17,125.49L299.45,126.23L299.45,127.70L298.17,128.43L296.90,127.70L296.90,126.23ZM304.52,127.68L305.79,128.42L305.79,129.89L304.52,130.62L303.24,129.89L303.24,128.42ZM318.47,129.88L319.74,130.61L319.74,132.08L318.47,132.82L317.20,132.08L317.20,130.61ZM321.01,129.88L322.28,130.61L322.28,132.08L321.01,132.82L319.73,132.08L319.73,130.61ZM319.74,132.07L321.01,132.81L321.01,134.28L319.74,135.01L318.47,134.28L318.47,132.81ZM331.15,125.49L332.43,126.23L332.43,127.70L331.15,128.43L329.88,127.70L329.88,126.23ZM318.47,112.33L319.74,113.07L319.74,114.54L318.47,115.27L317.20,114.54L317.20,113.07ZM309.59,114.52L310.86,115.26L310.86,116.73L309.59,117.46L308.32,116.73L308.32,115.26Z" fill="#0f8b88" stroke="#2a2140" stroke-width="0.3" stroke-opacity="0.55"/>
<path d="M97.75,72.85L99.02,73.58L99.02,75.05L97.75,75.79L96.48,75.05L96.48,73.58ZM100.29,72.85L101.56,73.58L101.56,75.05L100.29,75.79L99.01,75.05L99.01,73.58ZM73.65,75.04L74.92,75.78L74.92,77.25L73.65,77.98L72.38,77.25L72.38,75.78ZM96.48,75.04L97.76,75.78L97.76,77.25L96.48,77.98L95.21,77.25L95.21,75.78ZM99.02,75.04L100.29,75.78L100.29,77.25L99.02,77.98L97.75,77.25L97.75,75.78ZM97.75,77.23L99.02,77.97L99.02,79.44L97.75,80.17L96.48,79.44L96.48,77.97ZM96.48,79.43L97.76,80.16L97.76,81.63L96.48,82.37L95.21,81.63L95.21,80.16ZM99.02,79.43L100.29,80.16L100.29,81.63L99.02,82.37L97.75,81.63L97.75,80.16ZM101.56,79.43L102.83,80.16L102.83,81.63L101.56,82.37L100.28,81.63L100.28,80.16ZM95.21,81.62L96.49,82.36L96.49,83.83L95.21,84.56L93.94,83.83L93.94,82.36ZM97.75,81.62L99.02,82.36L99.02,83.83L97.75,84.56L96.48,83.83L96.48,82.36ZM100.29,81.62L101.56,82.36L101.56,83.83L100.29,84.56L99.01,83.83L99.01,82.36ZM81.26,83.81L82.53,84.55L82.53,86.02L81.26,86.75L79.99,86.02L79.99,84.55ZM96.48,83.81L97.76,84.55L97.76,86.02L96.48,86.75L95.21,86.02L95.21,84.55ZM104.09,83.81L105.37,84.55L105.37,86.02L104.09,86.75L102.82,86.02L102.82,84.55ZM106.63,83.81L107.90,84.55L107.90,86.02L106.63,86.75L105.36,86.02L105.36,84.55ZM90.14,86.01L91.41,86.74L91.41,88.21L90.14,88.95L88.87,88.21L88.87,86.74ZM97.75,86.01L99.02,86.74L99.02,88.21L97.75,88.95L96.48,88.21L96.48,86.74ZM101.56,92.59L102.83,93.32L102.83,94.79L101.56,95.53L100.28,94.79L100.28,93.32ZM104.09,92.59L105.37,93.32L105.37,94.79L104.09,95.53L102.82,94.79L102.82,93.32ZM109.17,92.59L110.44,93.32L110.44,94.79L109.17,95.53L107.89,94.79L107.89,93.32ZM111.70,92.59L112.98,93.32L112.98,94.79L111.70,95.53L110.43,94.79L110.43,93.32ZM132.00,110.14L133.27,110.87L133.27,112.34L132.00,113.08L130.73,112.34L130.73,110.87ZM133.27,129.88L134.54,130.61L134.54,132.08L133.27,132.82L132.00,132.08L132.00,130.61ZM168.79,99.17L170.06,99.90L170.06,101.37L168.79,102.11L167.51,101.37L167.51,99.90ZM171.32,99.17L172.60,99.90L172.60,101.37L171.32,102.11L170.05,101.37L170.05,99.90ZM173.86,99.17L175.13,99.90L175.13,101.37L173.86,102.11L172.59,101.37L172.59,99.90ZM176.40,99.17L177.67,99.90L177.67,101.37L176.40,102.11L175.12,101.37L175.12,99.90ZM162.44,101.36L163.72,102.10L163.72,103.57L162.44,104.30L161.17,103.57L161.17,102.10ZM214.45,77.23L215.73,77.97L215.73,79.44L214.45,80.17L213.18,79.44L213.18,77.97ZM251.24,79.43L252.51,80.16L252.51,81.63L251.24,82.37L249.97,81.63L249.97,80.16ZM280.42,86.01L281.69,86.74L281.69,88.21L280.42,88.95L279.14,88.21L279.14,86.74ZM243.63,88.20L244.90,88.94L244.90,90.41L243.63,91.14L242.36,90.41L242.36,88.94ZM279.15,88.20L280.42,88.94L280.42,90.41L279.15,91.14L277.87,90.41L277.87,88.94ZM281.68,88.20L282.96,88.94L282.96,90.41L281.68,91.14L280.41,90.41L280.41,88.94ZM260.12,90.40L261.39,91.13L261.39,92.60L260.12,93.34L258.85,92.60L258.85,91.13ZM280.42,94.78L281.69,95.52L281.69,96.99L280.42,97.72L279.14,96.99L279.14,95.52ZM263.92,96.98L265.20,97.71L265.20,99.18L263.92,99.92L262.65,99.18L262.65,97.71ZM279.15,96.98L280.42,97.71L280.42,99.18L279.15,99.92L277.87,99.18L277.87,97.71ZM284.22,96.98L285.49,97.71L285.49,99.18L284.22,99.92L282.95,99.18L282.95,97.71ZM282.95,99.17L284.23,99.90L284.23,101.37L282.95,102.11L281.68,101.37L281.68,99.90ZM266.46,101.36L267.73,102.10L267.73,103.57L266.46,104.30L265.19,103.57L265.19,102.10ZM279.15,101.36L280.42,102.10L280.42,103.57L279.15,104.30L277.87,103.57L277.87,102.10ZM281.68,101.36L282.96,102.10L282.96,103.57L281.68,104.30L280.41,103.57L280.41,102.10ZM286.76,101.36L288.03,102.10L288.03,103.57L286.76,104.30L285.48,103.57L285.48,102.10ZM266.46,105.75L267.73,106.48L267.73,107.95L266.46,108.69L265.19,107.95L265.19,106.48ZM270.27,112.33L271.54,113.07L271.54,114.54L270.27,115.27L268.99,114.54L268.99,113.07ZM277.88,116.72L279.15,117.45L279.15,118.92L277.88,119.66L276.60,118.92L276.60,117.45ZM285.49,121.10L286.76,121.84L286.76,123.31L285.49,124.04L284.22,123.31L284.22,121.84ZM284.22,123.30L285.49,124.03L285.49,125.50L284.22,126.24L282.95,125.50L282.95,124.03ZM280.42,125.49L281.69,126.23L281.69,127.70L280.42,128.43L279.14,127.70L279.14,126.23ZM272.80,129.88L274.08,130.61L274.08,132.08L272.80,132.82L271.53,132.08L271.53,130.61ZM277.88,129.88L279.15,130.61L279.15,132.08L277.88,132.82L276.60,132.08L276.60,130.61ZM298.17,107.94L299.45,108.68L299.45,110.15L298.17,110.88L296.90,110.15L296.90,108.68ZM295.64,112.33L296.91,113.07L296.91,114.54L295.64,115.27L294.36,114.54L294.36,113.07ZM315.93,112.33L317.21,113.07L317.21,114.54L315.93,115.27L314.66,114.54L314.66,113.07ZM301.98,114.52L303.25,115.26L303.25,116.73L301.98,117.46L300.71,116.73L300.71,115.26ZM301.98,118.91L303.25,119.65L303.25,121.12L301.98,121.85L300.71,121.12L300.71,119.65ZM288.03,121.10L289.30,121.84L289.30,123.31L288.03,124.04L286.75,123.31L286.75,121.84ZM286.76,123.30L288.03,124.03L288.03,125.50L286.76,126.24L285.48,125.50L285.48,124.03ZM299.44,123.30L300.72,124.03L300.72,125.50L299.44,126.24L298.17,125.50L298.17,124.03ZM303.25,125.49L304.52,126.23L304.52,127.70L303.25,128.43L301.97,127.70L301.97,126.23ZM317.20,110.14L318.47,110.87L318.47,112.34L317.20,113.08L315.93,112.34L315.93,110.87ZM285.49,143.04L286.76,143.77L286.76,145.24L285.49,145.98L284.22,145.24L284.22,143.77Z" fill="#454b90" stroke="#2a2140" stroke-width="0.3" stroke-opacity="0.55"/>
<path d="M68.58,75.04L69.85,75.78L69.85,77.25L68.58,77.98L67.30,77.25L67.30,75.78ZM82.53,77.23L83.80,77.97L83.80,79.44L82.53,80.17L81.26,79.44L81.26,77.97ZM76.19,79.43L77.46,80.16L77.46,81.63L76.19,82.37L74.91,81.63L74.91,80.16ZM91.41,83.81L92.68,84.55L92.68,86.02L91.41,86.75L90.14,86.02L90.14,84.55ZM90.14,90.40L91.41,91.13L91.41,92.60L90.14,93.34L88.87,92.60L88.87,91.13ZM95.21,90.40L96.49,91.13L96.49,92.60L95.21,93.34L93.94,92.60L93.94,91.13ZM90.14,94.78L91.41,95.52L91.41,96.99L90.14,97.72L88.87,96.99L88.87,95.52ZM91.41,96.98L92.68,97.71L92.68,99.18L91.41,99.92L90.14,99.18L90.14,97.71ZM99.02,96.98L100.29,97.71L100.29,99.18L99.02,99.92L97.75,99.18L97.75,97.71ZM97.75,99.17L99.02,99.90L99.02,101.37L97.75,102.11L96.48,101.37L96.48,99.90ZM121.85,101.36L123.13,102.10L123.13,103.57L121.85,104.30L120.58,103.57L120.58,102.10ZM120.58,103.56L121.86,104.29L121.86,105.76L120.58,106.50L119.31,105.76L119.31,104.29ZM83.80,105.75L85.07,106.48L85.07,107.95L83.80,108.69L82.52,107.95L82.52,106.48ZM86.33,105.75L87.61,106.48L87.61,107.95L86.33,108.69L85.06,107.95L85.06,106.48ZM85.07,107.94L86.34,108.68L86.34,110.15L85.07,110.88L83.79,110.15L83.79,108.68ZM134.54,127.68L135.81,128.42L135.81,129.89L134.54,130.62L133.26,129.89L133.26,128.42ZM154.83,83.81L156.11,84.55L156.11,86.02L154.83,86.75L153.56,86.02L153.56,84.55ZM158.64,94.78L159.91,95.52L159.91,96.99L158.64,97.72L157.37,96.99L157.37,95.52ZM159.91,96.98L161.18,97.71L161.18,99.18L159.91,99.92L158.63,99.18L158.63,97.71ZM167.52,101.36L168.79,102.10L168.79,103.57L167.52,104.30L166.25,103.57L166.25,102.10ZM180.20,101.36L181.48,102.10L181.48,103.57L180.20,104.30L178.93,103.57L178.93,102.10ZM182.74,114.52L184.01,115.26L184.01,116.73L182.74,117.46L181.47,116.73L181.47,115.26ZM243.63,92.59L244.90,93.32L244.90,94.79L243.63,95.53L242.36,94.79L242.36,93.32ZM281.68,70.65L282.96,71.39L282.96,72.86L281.68,73.59L280.41,72.86L280.41,71.39ZM282.95,72.85L284.23,73.58L284.23,75.05L282.95,75.79L281.68,75.05L281.68,73.58ZM280.42,77.23L281.69,77.97L281.69,79.44L280.42,80.17L279.14,79.44L279.14,77.97ZM265.19,81.62L266.47,82.36L266.47,83.83L265.19,84.56L263.92,83.83L263.92,82.36ZM270.27,81.62L271.54,82.36L271.54,83.83L270.27,84.56L268.99,83.83L268.99,82.36ZM257.58,86.01L258.86,86.74L258.86,88.21L257.58,88.95L256.31,88.21L256.31,86.74ZM260.12,86.01L261.39,86.74L261.39,88.21L260.12,88.95L258.85,88.21L258.85,86.74ZM256.31,92.59L257.59,93.32L257.59,94.79L256.31,95.53L255.04,94.79L255.04,93.32ZM269.00,92.59L270.27,93.32L270.27,94.79L269.00,95.53L267.73,94.79L267.73,93.32ZM260.12,94.78L261.39,95.52L261.39,96.99L260.12,97.72L258.85,96.99L258.85,95.52ZM270.27,94.78L271.54,95.52L271.54,96.99L270.27,97.72L268.99,96.99L268.99,95.52ZM257.58,99.17L258.86,99.90L258.86,101.37L257.58,102.11L256.31,101.37L256.31,99.90ZM260.12,99.17L261.39,99.90L261.39,101.37L260.12,102.11L258.85,101.37L258.85,99.90ZM271.54,101.36L272.81,102.10L272.81,103.57L271.54,104.30L270.26,103.57L270.26,102.10ZM288.03,99.17L289.30,99.90L289.30,101.37L288.03,102.11L286.75,101.37L286.75,99.90ZM289.29,101.36L290.57,102.10L290.57,103.57L289.29,104.30L288.02,103.57L288.02,102.10ZM280.42,103.56L281.69,104.29L281.69,105.76L280.42,106.50L279.14,105.76L279.14,104.29ZM282.95,103.56L284.23,104.29L284.23,105.76L282.95,106.50L281.68,105.76L281.68,104.29ZM285.49,103.56L286.76,104.29L286.76,105.76L285.49,106.50L284.22,105.76L284.22,104.29ZM288.03,103.56L289.30,104.29L289.30,105.76L288.03,106.50L286.75,105.76L286.75,104.29ZM290.56,103.56L291.84,104.29L291.84,105.76L290.56,106.50L289.29,105.76L289.29,104.29ZM274.07,105.75L275.35,106.48L275.35,107.95L274.07,108.69L272.80,107.95L272.80,106.48ZM281.68,105.75L282.96,106.48L282.96,107.95L281.68,108.69L280.41,107.95L280.41,106.48ZM284.22,105.75L285.49,106.48L285.49,107.95L284.22,108.69L282.95,107.95L282.95,106.48ZM281.68,110.14L282.96,110.87L282.96,112.34L281.68,113.08L280.41,112.34L280.41,110.87ZM284.22,110.14L285.49,110.87L285.49,112.34L284.22,113.08L282.95,112.34L282.95,110.87ZM265.19,112.33L266.47,113.07L266.47,114.54L265.19,115.27L263.92,114.54L263.92,113.07ZM280.42,112.33L281.69,113.07L281.69,114.54L280.42,115.27L279.14,114.54L279.14,113.07ZM282.95,112.33L284.23,113.07L284.23,114.54L282.95,115.27L281.68,114.54L281.68,113.07ZM281.68,114.52L282.96,115.26L282.96,116.73L281.68,117.46L280.41,116.73L280.41,115.26ZM284.22,114.52L285.49,115.26L285.49,116.73L284.22,117.46L282.95,116.73L282.95,115.26ZM281.68,118.91L282.96,119.65L282.96,121.12L281.68,121.85L280.41,121.12L280.41,119.65ZM286.76,105.75L288.03,106.48L288.03,107.95L286.76,108.69L285.48,107.95L285.48,106.48ZM289.29,105.75L290.57,106.48L290.57,107.95L289.29,108.69L288.02,107.95L288.02,106.48ZM291.83,105.75L293.10,106.48L293.10,107.95L291.83,108.69L290.56,107.95L290.56,106.48ZM294.37,105.75L295.64,106.48L295.64,107.95L294.37,108.69L293.10,107.95L293.10,106.48ZM285.49,107.94L286.76,108.68L286.76,110.15L285.49,110.88L284.22,110.15L284.22,108.68ZM290.56,107.94L291.84,108.68L291.84,110.15L290.56,110.88L289.29,110.15L289.29,108.68ZM308.32,107.94L309.60,108.68L309.60,110.15L308.32,110.88L307.05,110.15L307.05,108.68ZM289.29,110.14L290.57,110.87L290.57,112.34L289.29,113.08L288.02,112.34L288.02,110.87ZM291.83,110.14L293.10,110.87L293.10,112.34L291.83,113.08L290.56,112.34L290.56,110.87ZM286.76,114.52L288.03,115.26L288.03,116.73L286.76,117.46L285.48,116.73L285.48,115.26ZM289.29,114.52L290.57,115.26L290.57,116.73L289.29,117.46L288.02,116.73L288.02,115.26ZM288.03,116.72L289.30,117.45L289.30,118.92L288.03,119.66L286.75,118.92L286.75,117.45ZM298.17,116.72L299.45,117.45L299.45,118.92L298.17,119.66L296.90,118.92L296.90,117.45ZM293.10,121.10L294.37,121.84L294.37,123.31L293.10,124.04L291.83,123.31L291.83,121.84ZM317.20,127.68L318.47,128.42L318.47,129.89L317.20,130.62L315.93,129.89L315.93,128.42ZM314.66,105.75L315.94,106.48L315.94,107.95L314.66,108.69L313.39,107.95L313.39,106.48ZM315.93,107.94L317.21,108.68L317.21,110.15L315.93,110.88L314.66,110.15L314.66,108.68ZM282.95,143.04L284.23,143.77L284.23,145.24L282.95,145.98L281.68,145.24L281.68,143.77ZM6.42,121.10L7.69,121.84L7.69,123.31L6.42,124.04L5.15,123.31L5.15,121.84ZM6.42,125.49L7.69,126.23L7.69,127.70L6.42,128.43L5.15,127.70L5.15,126.23ZM7.69,127.68L8.96,128.42L8.96,129.89L7.69,130.62L6.41,129.89L6.41,128.42ZM10.22,127.68L11.50,128.42L11.50,129.89L10.22,130.62L8.95,129.89L8.95,128.42ZM11.49,129.88L12.77,130.61L12.77,132.08L11.49,132.82L10.22,132.08L10.22,130.61Z" fill="#f3e332" stroke="#2a2140" stroke-width="0.3" stroke-opacity="0.55"/>
<path d="M71.11,75.04L72.39,75.78L72.39,77.25L71.11,77.98L69.84,77.25L69.84,75.78ZM74.92,77.23L76.19,77.97L76.19,79.44L74.92,80.17L73.64,79.44L73.64,77.97ZM100.29,77.23L101.56,77.97L101.56,79.44L100.29,80.17L99.01,79.44L99.01,77.97ZM73.65,79.43L74.92,80.16L74.92,81.63L73.65,82.37L72.38,81.63L72.38,80.16ZM93.95,79.43L95.22,80.16L95.22,81.63L93.95,82.37L92.67,81.63L92.67,80.16ZM74.92,81.62L76.19,82.36L76.19,83.83L74.92,84.56L73.64,83.83L73.64,82.36ZM82.53,81.62L83.80,82.36L83.80,83.83L82.53,84.56L81.26,83.83L81.26,82.36ZM79.99,86.01L81.27,86.74L81.27,88.21L79.99,88.95L78.72,88.21L78.72,86.74ZM88.87,88.20L90.14,88.94L90.14,90.41L88.87,91.14L87.60,90.41L87.60,88.94ZM91.41,92.59L92.68,93.32L92.68,94.79L91.41,95.53L90.14,94.79L90.14,93.32ZM99.02,92.59L100.29,93.32L100.29,94.79L99.02,95.53L97.75,94.79L97.75,93.32ZM100.29,94.78L101.56,95.52L101.56,96.99L100.29,97.72L99.01,96.99L99.01,95.52ZM128.19,107.94L129.47,108.68L129.47,110.15L128.19,110.88L126.92,110.15L126.92,108.68ZM126.93,110.14L128.20,110.87L128.20,112.34L126.93,113.08L125.65,112.34L125.65,110.87ZM134.54,110.14L135.81,110.87L135.81,112.34L134.54,113.08L133.26,112.34L133.26,110.87ZM137.07,114.52L138.35,115.26L138.35,116.73L137.07,117.46L135.80,116.73L135.80,115.26ZM126.93,136.46L128.20,137.19L128.20,138.66L126.93,139.40L125.65,138.66L125.65,137.19ZM157.37,92.59L158.64,93.32L158.64,94.79L157.37,95.53L156.10,94.79L156.10,93.32ZM157.37,96.98L158.64,97.71L158.64,99.18L157.37,99.92L156.10,99.18L156.10,97.71ZM163.71,99.17L164.99,99.90L164.99,101.37L163.71,102.11L162.44,101.37L162.44,99.90ZM175.13,105.75L176.40,106.48L176.40,107.95L175.13,108.69L173.86,107.95L173.86,106.48ZM224.60,77.23L225.87,77.97L225.87,79.44L224.60,80.17L223.33,79.44L223.33,77.97ZM275.34,77.23L276.61,77.97L276.61,79.44L275.34,80.17L274.07,79.44L274.07,77.97ZM276.61,79.43L277.88,80.16L277.88,81.63L276.61,82.37L275.34,81.63L275.34,80.16ZM279.15,83.81L280.42,84.55L280.42,86.02L279.15,86.75L277.87,86.02L277.87,84.55ZM281.68,83.81L282.96,84.55L282.96,86.02L281.68,86.75L280.41,86.02L280.41,84.55ZM244.90,86.01L246.17,86.74L246.17,88.21L244.90,88.95L243.62,88.21L243.62,86.74ZM258.85,88.20L260.12,88.94L260.12,90.41L258.85,91.14L257.58,90.41L257.58,88.94ZM280.42,90.40L281.69,91.13L281.69,92.60L280.42,93.34L279.14,92.60L279.14,91.13ZM282.95,90.40L284.23,91.13L284.23,92.60L282.95,93.34L281.68,92.60L281.68,91.13ZM261.39,92.59L262.66,93.32L262.66,94.79L261.39,95.53L260.11,94.79L260.11,93.32ZM281.68,92.59L282.96,93.32L282.96,94.79L281.68,95.53L280.41,94.79L280.41,93.32ZM267.73,94.78L269.00,95.52L269.00,96.99L267.73,97.72L266.46,96.99L266.46,95.52ZM265.19,99.17L266.47,99.90L266.47,101.37L265.19,102.11L263.92,101.37L263.92,99.90ZM262.66,103.56L263.93,104.29L263.93,105.76L262.66,106.50L261.38,105.76L261.38,104.29ZM280.42,107.94L281.69,108.68L281.69,110.15L280.42,110.88L279.14,110.15L279.14,108.68ZM279.15,110.14L280.42,110.87L280.42,112.34L279.15,113.08L277.87,112.34L277.87,110.87ZM279.15,114.52L280.42,115.26L280.42,116.73L279.15,117.46L277.87,116.73L277.87,115.26ZM282.95,125.49L284.23,126.23L284.23,127.70L282.95,128.43L281.68,127.70L281.68,126.23ZM295.64,107.94L296.91,108.68L296.91,110.15L295.64,110.88L294.36,110.15L294.36,108.68ZM310.86,107.94L312.13,108.68L312.13,110.15L310.86,110.88L309.59,110.15L309.59,108.68ZM308.32,116.72L309.60,117.45L309.60,118.92L308.32,119.66L307.05,118.92L307.05,117.45ZM312.13,105.75L313.40,106.48L313.40,107.95L312.13,108.69L310.85,107.95L310.85,106.48ZM284.22,145.23L285.49,145.97L285.49,147.44L284.22,148.17L282.95,147.44L282.95,145.97ZM8.96,121.10L10.23,121.84L10.23,123.31L8.96,124.04L7.68,123.31L7.68,121.84Z" fill="#2c6f8f" stroke="#2a2140" stroke-width="0.3" stroke-opacity="0.55"/>
<path d="M73.65,83.81L74.92,84.55L74.92,86.02L73.65,86.75L72.38,86.02L72.38,84.55ZM88.87,83.81L90.14,84.55L90.14,86.02L88.87,86.75L87.60,86.02L87.60,84.55ZM77.46,86.01L78.73,86.74L78.73,88.21L77.46,88.95L76.18,88.21L76.18,86.74ZM81.26,88.20L82.53,88.94L82.53,90.41L81.26,91.14L79.99,90.41L79.99,88.94ZM83.80,88.20L85.07,88.94L85.07,90.41L83.80,91.14L82.52,90.41L82.52,88.94ZM85.07,90.40L86.34,91.13L86.34,92.60L85.07,93.34L83.79,92.60L83.79,91.13ZM88.87,92.59L90.14,93.32L90.14,94.79L88.87,95.53L87.60,94.79L87.60,93.32ZM92.68,94.78L93.95,95.52L93.95,96.99L92.68,97.72L91.40,96.99L91.40,95.52ZM110.44,94.78L111.71,95.52L111.71,96.99L110.44,97.72L109.16,96.99L109.16,95.52ZM93.95,96.98L95.22,97.71L95.22,99.18L93.95,99.92L92.67,99.18L92.67,97.71ZM96.48,96.98L97.76,97.71L97.76,99.18L96.48,99.92L95.21,99.18L95.21,97.71ZM118.05,99.17L119.32,99.90L119.32,101.37L118.05,102.11L116.77,101.37L116.77,99.90ZM120.58,99.17L121.86,99.90L121.86,101.37L120.58,102.11L119.31,101.37L119.31,99.90ZM96.48,101.36L97.76,102.10L97.76,103.57L96.48,104.30L95.21,103.57L95.21,102.10ZM95.21,103.56L96.49,104.29L96.49,105.76L95.21,106.50L93.94,105.76L93.94,104.29ZM125.66,107.94L126.93,108.68L126.93,110.15L125.66,110.88L124.38,110.15L124.38,108.68ZM130.73,107.94L132.01,108.68L132.01,110.15L130.73,110.88L129.46,110.15L129.46,108.68ZM129.46,110.14L130.74,110.87L130.74,112.34L129.46,113.08L128.19,112.34L128.19,110.87ZM133.27,121.10L134.54,121.84L134.54,123.31L133.27,124.04L132.00,123.31L132.00,121.84ZM156.10,94.78L157.38,95.52L157.38,96.99L156.10,97.72L154.83,96.99L154.83,95.52ZM178.94,107.94L180.21,108.68L180.21,110.15L178.94,110.88L177.66,110.15L177.66,108.68ZM180.20,110.14L181.48,110.87L181.48,112.34L180.20,113.08L178.93,112.34L178.93,110.87ZM181.47,116.72L182.75,117.45L182.75,118.92L181.47,119.66L180.20,118.92L180.20,117.45ZM281.68,75.04L282.96,75.78L282.96,77.25L281.68,77.98L280.41,77.25L280.41,75.78ZM277.88,77.23L279.15,77.97L279.15,79.44L277.88,80.17L276.60,79.44L276.60,77.97ZM248.70,79.43L249.98,80.16L249.98,81.63L248.70,82.37L247.43,81.63L247.43,80.16ZM271.54,79.43L272.81,80.16L272.81,81.63L271.54,82.37L270.26,81.63L270.26,80.16ZM249.97,81.62L251.24,82.36L251.24,83.83L249.97,84.56L248.70,83.83L248.70,82.36ZM255.05,81.62L256.32,82.36L256.32,83.83L255.05,84.56L253.77,83.83L253.77,82.36ZM267.73,81.62L269.00,82.36L269.00,83.83L267.73,84.56L266.46,83.83L266.46,82.36ZM253.78,83.81L255.05,84.55L255.05,86.02L253.78,86.75L252.50,86.02L252.50,84.55ZM256.31,83.81L257.59,84.55L257.59,86.02L256.31,86.75L255.04,86.02L255.04,84.55ZM269.00,83.81L270.27,84.55L270.27,86.02L269.00,86.75L267.73,86.02L267.73,84.55ZM256.31,88.20L257.59,88.94L257.59,90.41L256.31,91.14L255.04,90.41L255.04,88.94ZM255.05,90.40L256.32,91.13L256.32,92.60L255.05,93.34L253.77,92.60L253.77,91.13ZM284.22,92.59L285.49,93.32L285.49,94.79L284.22,95.53L282.95,94.79L282.95,93.32ZM282.95,94.78L284.23,95.52L284.23,96.99L282.95,97.72L281.68,96.99L281.68,95.52ZM256.31,96.98L257.59,97.71L257.59,99.18L256.31,99.92L255.04,99.18L255.04,97.71ZM261.39,96.98L262.66,97.71L262.66,99.18L261.39,99.92L260.11,99.18L260.11,97.71ZM261.39,101.36L262.66,102.10L262.66,103.57L261.39,104.30L260.11,103.57L260.11,102.10ZM285.49,90.40L286.76,91.13L286.76,92.60L285.49,93.34L284.22,92.60L284.22,91.13ZM286.76,92.59L288.03,93.32L288.03,94.79L286.76,95.53L285.48,94.79L285.48,93.32ZM285.49,94.78L286.76,95.52L286.76,96.99L285.49,97.72L284.22,96.99L284.22,95.52ZM272.80,103.56L274.08,104.29L274.08,105.76L272.80,106.50L271.53,105.76L271.53,104.29ZM279.15,105.75L280.42,106.48L280.42,107.95L279.15,108.69L277.87,107.95L277.87,106.48ZM272.80,107.94L274.08,108.68L274.08,110.15L272.80,110.88L271.53,110.15L271.53,108.68ZM282.95,107.94L284.23,108.68L284.23,110.15L282.95,110.88L281.68,110.15L281.68,108.68ZM282.95,116.72L284.23,117.45L284.23,118.92L282.95,119.66L281.68,118.92L281.68,117.45ZM288.03,107.94L289.30,108.68L289.30,110.15L288.03,110.88L286.75,110.15L286.75,108.68ZM293.10,107.94L294.37,108.68L294.37,110.15L293.10,110.88L291.83,110.15L291.83,108.68ZM300.71,107.94L301.98,108.68L301.98,110.15L300.71,110.88L299.44,110.15L299.44,108.68ZM294.37,110.14L295.64,110.87L295.64,112.34L294.37,113.08L293.10,112.34L293.10,110.87ZM312.13,110.14L313.40,110.87L313.40,112.34L312.13,113.08L310.85,112.34L310.85,110.87ZM285.49,112.33L286.76,113.07L286.76,114.54L285.49,115.27L284.22,114.54L284.22,113.07ZM293.10,112.33L294.37,113.07L294.37,114.54L293.10,115.27L291.83,114.54L291.83,113.07ZM308.32,112.33L309.60,113.07L309.60,114.54L308.32,115.27L307.05,114.54L307.05,113.07ZM310.86,112.33L312.13,113.07L312.13,114.54L310.86,115.27L309.59,114.54L309.59,113.07ZM291.83,114.52L293.10,115.26L293.10,116.73L291.83,117.46L290.56,116.73L290.56,115.26ZM304.52,114.52L305.79,115.26L305.79,116.73L304.52,117.46L303.24,116.73L303.24,115.26ZM285.49,116.72L286.76,117.45L286.76,118.92L285.49,119.66L284.22,118.92L284.22,117.45ZM303.25,116.72L304.52,117.45L304.52,118.92L303.25,119.66L301.97,118.92L301.97,117.45ZM291.83,118.91L293.10,119.65L293.10,121.12L291.83,121.85L290.56,121.12L290.56,119.65ZM294.37,118.91L295.64,119.65L295.64,121.12L294.37,121.85L293.10,121.12L293.10,119.65ZM290.56,121.10L291.84,121.84L291.84,123.31L290.56,124.04L289.29,123.31L289.29,121.84ZM333.69,125.49L334.97,126.23L334.97,127.70L333.69,128.43L332.42,127.70L332.42,126.23ZM332.42,127.68L333.70,128.42L333.70,129.89L332.42,130.62L331.15,129.89L331.15,128.42ZM309.59,110.14L310.86,110.87L310.86,112.34L309.59,113.08L308.32,112.34L308.32,110.87ZM11.49,121.10L12.77,121.84L12.77,123.31L11.49,124.04L10.22,123.31L10.22,121.84Z" fill="#80c25c" stroke="#2a2140" stroke-width="0.3" stroke-opacity="0.55"/>
<path d="M76.19,83.81L77.46,84.55L77.46,86.02L76.19,86.75L74.91,86.02L74.91,84.55ZM112.97,90.40L114.25,91.13L114.25,92.60L112.97,93.34L111.70,92.60L111.70,91.13ZM125.66,134.27L126.93,135.00L126.93,136.47L125.66,137.21L124.38,136.47L124.38,135.00ZM276.61,105.75L277.88,106.48L277.88,107.95L276.61,108.69L275.34,107.95L275.34,106.48Z" fill="#46276f" stroke="#2a2140" stroke-width="0.3" stroke-opacity="0.55"/>
<path d="M92.68,112.33L93.95,113.07L93.95,114.54L92.68,115.27L91.40,114.54L91.40,113.07ZM135.81,112.33L137.08,113.07L137.08,114.54L135.81,115.27L134.53,114.54L134.53,113.07ZM134.54,118.91L135.81,119.65L135.81,121.12L134.54,121.85L133.26,121.12L133.26,119.65ZM128.19,134.27L129.47,135.00L129.47,136.47L128.19,137.21L126.92,136.47L126.92,135.00ZM158.64,99.17L159.91,99.90L159.91,101.37L158.64,102.11L157.37,101.37L157.37,99.90ZM216.99,77.23L218.26,77.97L218.26,79.44L216.99,80.17L215.72,79.44L215.72,77.97ZM288.03,94.78L289.30,95.52L289.30,96.99L288.03,97.72L286.75,96.99L286.75,95.52ZM271.54,132.07L272.81,132.81L272.81,134.28L271.54,135.01L270.26,134.28L270.26,132.81Z" fill="#22a36c" stroke="#2a2140" stroke-width="0.3" stroke-opacity="0.55"/>
</g>
<text x="8.3" y="12.8" class="ax" style="font-size:17.6px">a</text>
<text x="169.9" y="13.0" class="ax" style="font-size:16.45px" text-anchor="middle">Global−scale climate−naïve</text>
<text x="353.9" y="13.0" class="ax" style="font-size:17.6px">b</text>
<text x="515.6" y="13.0" class="ax" style="font-size:16.45px" text-anchor="middle">Global−scale climate−smart</text>
<text x="342.4" y="199.0" font-size="13.58" class="b" text-anchor="middle">Percentage of selection (%)</text>
<rect x="243.8" y="205.1" width="196.5" height="10.1" fill="url(#vir)"/>
<text x="244.3" y="228.8" class="tk" text-anchor="middle">0</text>
<path d="M293.3,205.1v2.2M293.3,215.2v-2.2" stroke="#111" stroke-width="0.75"/>
<text x="293.3" y="228.8" class="tk" text-anchor="middle">25</text>
<path d="M342.3,205.1v2.2M342.3,215.2v-2.2" stroke="#111" stroke-width="0.75"/>
<text x="342.3" y="228.8" class="tk" text-anchor="middle">50</text>
<path d="M391.3,205.1v2.2M391.3,215.2v-2.2" stroke="#111" stroke-width="0.75"/>
<text x="391.3" y="228.8" class="tk" text-anchor="middle">75</text>
<path d="M440.0,205.1v2.2M440.0,215.2v-2.2" stroke="#111" stroke-width="0.75"/>
<text x="440.3" y="228.8" class="tk" text-anchor="middle">100</text>
<rect x="54.4" y="236.3" width="627.1" height="254.9" fill="#fff"/>
<path d="M54.4,276.4H681.5" stroke="#ececec" stroke-width="0.7"/>
<path d="M54.4,334.4H681.5" stroke="#ececec" stroke-width="0.7"/>
<path d="M54.4,392.5H681.5" stroke="#ececec" stroke-width="0.7"/>
<path d="M54.4,450.5H681.5" stroke="#ececec" stroke-width="0.7"/>
<path d="M54.4,249.5H681.5" stroke="#e4e4e4" stroke-width="1.2"/>
<path d="M54.4,305.4H681.5" stroke="#e4e4e4" stroke-width="1.2"/>
<path d="M54.4,363.5H681.5" stroke="#e4e4e4" stroke-width="1.2"/>
<path d="M54.4,421.6H681.5" stroke="#e4e4e4" stroke-width="1.2"/>
<path d="M54.4,479.3H681.5" stroke="#e4e4e4" stroke-width="1.2"/>
<path d="M225.4,236.3V491.2" stroke="#e4e4e4" stroke-width="1.2"/>
<path d="M510.5,236.3V491.2" stroke="#e4e4e4" stroke-width="1.2"/>
<rect x="54.4" y="519.7" width="627.1" height="254.5" fill="#fff"/>
<path d="M54.4,559.6H681.5" stroke="#ececec" stroke-width="0.7"/>
<path d="M54.4,617.7H681.5" stroke="#ececec" stroke-width="0.7"/>
<path d="M54.4,675.8H681.5" stroke="#ececec" stroke-width="0.7"/>
<path d="M54.4,733.9H681.5" stroke="#ececec" stroke-width="0.7"/>
<path d="M54.4,530.6H681.5" stroke="#e4e4e4" stroke-width="1.2"/>
<path d="M54.4,588.7H681.5" stroke="#e4e4e4" stroke-width="1.2"/>
<path d="M54.4,646.8H681.5" stroke="#e4e4e4" stroke-width="1.2"/>
<path d="M54.4,704.9H681.5" stroke="#e4e4e4" stroke-width="1.2"/>
<path d="M54.4,763.0H681.5" stroke="#e4e4e4" stroke-width="1.2"/>
<path d="M225.4,519.7V774.2" stroke="#e4e4e4" stroke-width="1.2"/>
<path d="M510.5,519.7V774.2" stroke="#e4e4e4" stroke-width="1.2"/>
<g fill="#f0ab73" fill-opacity="0.72"><circle cx="172.3" cy="247.1" r="2.7"/><circle cx="171.0" cy="250.5" r="2.7"/><circle cx="190.9" cy="247.1" r="2.7"/><circle cx="195.3" cy="247.5" r="2.7"/><circle cx="197.6" cy="247.3" r="2.7"/><circle cx="200.2" cy="247.3" r="2.7"/><circle cx="202.9" cy="247.3" r="2.7"/><circle cx="211.6" cy="247.1" r="2.7"/><circle cx="218.3" cy="247.9" r="2.7"/><circle cx="237.1" cy="247.1" r="2.7"/><circle cx="241.6" cy="247.1" r="2.7"/><circle cx="250.0" cy="247.1" r="2.7"/><circle cx="278.0" cy="249.0" r="2.7"/><circle cx="177.6" cy="262.7" r="2.7"/><circle cx="179.5" cy="262.7" r="2.7"/><circle cx="200.4" cy="264.2" r="2.7"/><circle cx="208.8" cy="262.1" r="2.7"/><circle cx="250.7" cy="260.4" r="2.7"/><circle cx="257.0" cy="264.4" r="2.7"/><circle cx="274.8" cy="267.0" r="2.7"/><circle cx="242.7" cy="281.3" r="2.7"/><circle cx="249.4" cy="280.1" r="2.7"/><circle cx="204.8" cy="293.2" r="2.7"/><circle cx="219.0" cy="304.2" r="2.7"/><circle cx="169.5" cy="308.2" r="2.7"/><circle cx="240.5" cy="318.1" r="2.7"/><circle cx="249.8" cy="323.6" r="2.7"/><circle cx="198.5" cy="325.3" r="2.7"/><circle cx="238.4" cy="328.3" r="2.7"/><circle cx="222.8" cy="333.5" r="2.7"/><circle cx="261.7" cy="332.5" r="2.7"/><circle cx="266.8" cy="333.3" r="2.7"/><circle cx="256.0" cy="336.9" r="2.7"/><circle cx="175.4" cy="344.1" r="2.7"/><circle cx="198.1" cy="346.2" r="2.7"/><circle cx="217.1" cy="352.6" r="2.7"/><circle cx="223.4" cy="352.2" r="2.7"/><circle cx="251.3" cy="360.8" r="2.7"/><circle cx="255.5" cy="361.2" r="2.7"/><circle cx="261.7" cy="366.1" r="2.7"/></g>
<g fill="#f0ab73" fill-opacity="0.72"><circle cx="197.4" cy="376.4" r="2.7"/><circle cx="220.7" cy="374.9" r="2.7"/><circle cx="222.6" cy="378.1" r="2.7"/><circle cx="183.0" cy="382.9" r="2.7"/><circle cx="191.5" cy="387.2" r="2.7"/><circle cx="211.4" cy="385.2" r="2.7"/><circle cx="213.7" cy="389.1" r="2.7"/><circle cx="254.5" cy="384.4" r="2.7"/><circle cx="273.5" cy="384.4" r="2.7"/><circle cx="226.4" cy="397.7" r="2.7"/><circle cx="277.1" cy="396.9" r="2.7"/><circle cx="252.0" cy="400.7" r="2.7"/><circle cx="249.2" cy="402.2" r="2.7"/><circle cx="250.7" cy="404.1" r="2.7"/><circle cx="185.1" cy="405.8" r="2.7"/><circle cx="207.8" cy="405.6" r="2.7"/><circle cx="220.2" cy="414.2" r="2.7"/><circle cx="276.1" cy="413.1" r="2.7"/><circle cx="243.5" cy="426.1" r="2.7"/><circle cx="246.4" cy="429.0" r="2.7"/><circle cx="247.3" cy="433.0" r="2.7"/><circle cx="265.7" cy="428.0" r="2.7"/><circle cx="260.8" cy="436.8" r="2.7"/><circle cx="254.5" cy="440.9" r="2.7"/><circle cx="205.5" cy="448.5" r="2.7"/><circle cx="224.5" cy="451.8" r="2.7"/><circle cx="272.4" cy="451.2" r="2.7"/><circle cx="233.4" cy="455.4" r="2.7"/><circle cx="258.7" cy="458.0" r="2.7"/><circle cx="198.9" cy="463.0" r="2.7"/><circle cx="242.2" cy="463.9" r="2.7"/><circle cx="268.6" cy="469.6" r="2.7"/><circle cx="176.7" cy="480.0" r="2.7"/><circle cx="180.5" cy="480.0" r="2.7"/><circle cx="188.5" cy="479.7" r="2.7"/><circle cx="194.5" cy="479.9" r="2.7"/><circle cx="198.0" cy="479.9" r="2.7"/><circle cx="201.4" cy="479.9" r="2.7"/><circle cx="204.8" cy="479.9" r="2.7"/><circle cx="208.2" cy="479.9" r="2.7"/><circle cx="211.6" cy="479.9" r="2.7"/><circle cx="215.0" cy="479.9" r="2.7"/><circle cx="218.5" cy="479.9" r="2.7"/><circle cx="221.7" cy="478.7" r="2.7"/><circle cx="223.6" cy="477.4" r="2.7"/><circle cx="226.4" cy="479.7" r="2.7"/><circle cx="229.3" cy="479.7" r="2.7"/><circle cx="232.5" cy="479.9" r="2.7"/><circle cx="239.7" cy="479.9" r="2.7"/><circle cx="242.0" cy="480.0" r="2.7"/><circle cx="246.4" cy="479.9" r="2.7"/><circle cx="253.9" cy="479.9" r="2.7"/><circle cx="257.2" cy="479.9" r="2.7"/><circle cx="262.5" cy="479.9" r="2.7"/><circle cx="268.6" cy="479.9" r="2.7"/><circle cx="272.0" cy="479.9" r="2.7"/><circle cx="274.8" cy="479.9" r="2.7"/><circle cx="278.0" cy="479.9" r="2.7"/><circle cx="281.5" cy="479.9" r="2.7"/></g>
<g fill="#5f8db7" fill-opacity="0.72"><circle cx="465.5" cy="251.3" r="2.7"/><circle cx="475.4" cy="249.0" r="2.7"/><circle cx="481.6" cy="248.1" r="2.7"/><circle cx="492.8" cy="247.1" r="2.7"/><circle cx="496.2" cy="247.1" r="2.7"/><circle cx="498.7" cy="249.4" r="2.7"/><circle cx="508.2" cy="247.5" r="2.7"/><circle cx="519.8" cy="247.1" r="2.7"/><circle cx="500.6" cy="259.3" r="2.7"/><circle cx="553.4" cy="262.7" r="2.7"/><circle cx="556.0" cy="266.1" r="2.7"/><circle cx="465.1" cy="272.2" r="2.7"/><circle cx="517.3" cy="295.1" r="2.7"/><circle cx="467.6" cy="297.6" r="2.7"/><circle cx="544.6" cy="300.1" r="2.7"/><circle cx="494.0" cy="313.9" r="2.7"/><circle cx="498.3" cy="316.2" r="2.7"/><circle cx="517.3" cy="322.3" r="2.7"/><circle cx="508.2" cy="326.4" r="2.7"/><circle cx="527.4" cy="328.1" r="2.7"/><circle cx="473.5" cy="336.9" r="2.7"/><circle cx="505.2" cy="343.3" r="2.7"/><circle cx="505.4" cy="352.8" r="2.7"/><circle cx="477.5" cy="358.9" r="2.7"/><circle cx="491.9" cy="357.8" r="2.7"/><circle cx="497.8" cy="361.4" r="2.7"/><circle cx="521.9" cy="357.8" r="2.7"/><circle cx="535.5" cy="360.4" r="2.7"/><circle cx="538.6" cy="363.3" r="2.7"/><circle cx="542.7" cy="357.2" r="2.7"/><circle cx="567.0" cy="366.7" r="2.7"/></g>
<g fill="#5f8db7" fill-opacity="0.72"><circle cx="510.3" cy="370.4" r="2.7"/><circle cx="473.7" cy="374.5" r="2.7"/><circle cx="491.5" cy="374.0" r="2.7"/><circle cx="472.7" cy="381.0" r="2.7"/><circle cx="465.5" cy="386.1" r="2.7"/><circle cx="470.1" cy="387.1" r="2.7"/><circle cx="500.0" cy="385.9" r="2.7"/><circle cx="536.3" cy="384.4" r="2.7"/><circle cx="549.2" cy="385.2" r="2.7"/><circle cx="561.9" cy="391.2" r="2.7"/><circle cx="522.1" cy="392.4" r="2.7"/><circle cx="500.2" cy="396.4" r="2.7"/><circle cx="541.0" cy="396.2" r="2.7"/><circle cx="542.4" cy="398.1" r="2.7"/><circle cx="477.8" cy="399.6" r="2.7"/><circle cx="476.7" cy="405.8" r="2.7"/><circle cx="488.6" cy="404.1" r="2.7"/><circle cx="490.7" cy="408.5" r="2.7"/><circle cx="502.9" cy="405.8" r="2.7"/><circle cx="555.5" cy="405.1" r="2.7"/><circle cx="468.3" cy="415.1" r="2.7"/><circle cx="487.1" cy="414.6" r="2.7"/><circle cx="458.9" cy="418.4" r="2.7"/><circle cx="557.4" cy="415.3" r="2.7"/><circle cx="522.4" cy="419.5" r="2.7"/><circle cx="532.5" cy="432.6" r="2.7"/><circle cx="474.8" cy="438.7" r="2.7"/><circle cx="498.1" cy="439.6" r="2.7"/><circle cx="510.9" cy="444.9" r="2.7"/><circle cx="521.9" cy="442.5" r="2.7"/><circle cx="505.2" cy="458.2" r="2.7"/><circle cx="455.1" cy="477.4" r="2.7"/><circle cx="461.1" cy="479.7" r="2.7"/><circle cx="464.0" cy="479.7" r="2.7"/><circle cx="467.8" cy="479.7" r="2.7"/><circle cx="471.6" cy="479.7" r="2.7"/><circle cx="475.0" cy="479.7" r="2.7"/><circle cx="478.2" cy="479.7" r="2.7"/><circle cx="483.5" cy="479.7" r="2.7"/><circle cx="492.1" cy="479.7" r="2.7"/><circle cx="496.2" cy="479.7" r="2.7"/><circle cx="501.0" cy="478.7" r="2.7"/><circle cx="505.4" cy="479.7" r="2.7"/><circle cx="510.5" cy="478.7" r="2.7"/><circle cx="512.9" cy="479.7" r="2.7"/><circle cx="516.2" cy="479.7" r="2.7"/><circle cx="520.9" cy="479.7" r="2.7"/><circle cx="525.7" cy="479.7" r="2.7"/><circle cx="529.5" cy="479.7" r="2.7"/><circle cx="533.2" cy="479.7" r="2.7"/><circle cx="538.0" cy="479.7" r="2.7"/><circle cx="542.7" cy="479.7" r="2.7"/><circle cx="549.0" cy="479.7" r="2.7"/><circle cx="552.2" cy="479.7" r="2.7"/><circle cx="556.0" cy="479.7" r="2.7"/><circle cx="559.8" cy="479.7" r="2.7"/><circle cx="563.0" cy="479.7" r="2.7"/><circle cx="567.0" cy="479.7" r="2.7"/></g>
<g fill="#f0ab73" fill-opacity="0.72"><circle cx="260.6" cy="626.0" r="2.7"/><circle cx="182.4" cy="631.7" r="2.7"/><circle cx="206.7" cy="633.8" r="2.7"/><circle cx="275.8" cy="636.8" r="2.7"/><circle cx="233.4" cy="655.6" r="2.7"/><circle cx="211.6" cy="657.5" r="2.7"/><circle cx="219.2" cy="664.7" r="2.7"/><circle cx="220.7" cy="662.8" r="2.7"/><circle cx="244.6" cy="667.4" r="2.7"/><circle cx="258.1" cy="666.2" r="2.7"/><circle cx="255.8" cy="669.1" r="2.7"/><circle cx="249.6" cy="670.4" r="2.7"/><circle cx="212.0" cy="670.0" r="2.7"/><circle cx="226.2" cy="669.7" r="2.7"/><circle cx="241.0" cy="671.9" r="2.7"/><circle cx="241.0" cy="675.4" r="2.7"/><circle cx="280.5" cy="672.9" r="2.7"/><circle cx="266.7" cy="676.1" r="2.7"/><circle cx="184.3" cy="677.2" r="2.7"/><circle cx="174.8" cy="682.8" r="2.7"/><circle cx="222.4" cy="681.2" r="2.7"/><circle cx="231.0" cy="682.8" r="2.7"/><circle cx="190.9" cy="686.7" r="2.7"/><circle cx="188.1" cy="689.4" r="2.7"/><circle cx="189.0" cy="692.1" r="2.7"/><circle cx="222.4" cy="687.3" r="2.7"/><circle cx="204.0" cy="691.5" r="2.7"/><circle cx="214.8" cy="691.5" r="2.7"/><circle cx="243.5" cy="690.0" r="2.7"/><circle cx="249.2" cy="692.8" r="2.7"/><circle cx="256.6" cy="693.4" r="2.7"/><circle cx="195.1" cy="694.3" r="2.7"/><circle cx="206.9" cy="697.9" r="2.7"/><circle cx="207.4" cy="697.0" r="2.7"/><circle cx="267.8" cy="700.0" r="2.7"/><circle cx="272.2" cy="701.9" r="2.7"/><circle cx="241.2" cy="702.3" r="2.7"/><circle cx="256.6" cy="702.7" r="2.7"/><circle cx="190.9" cy="702.9" r="2.7"/><circle cx="177.5" cy="704.8" r="2.7"/><circle cx="181.8" cy="706.9" r="2.7"/><circle cx="169.5" cy="707.2" r="2.7"/><circle cx="235.9" cy="710.5" r="2.7"/><circle cx="254.3" cy="710.5" r="2.7"/><circle cx="242.2" cy="713.3" r="2.7"/><circle cx="240.7" cy="714.6" r="2.7"/><circle cx="236.9" cy="714.6" r="2.7"/><circle cx="180.5" cy="714.8" r="2.7"/><circle cx="198.7" cy="715.4" r="2.7"/><circle cx="194.2" cy="719.4" r="2.7"/><circle cx="281.5" cy="720.3" r="2.7"/><circle cx="196.1" cy="723.6" r="2.7"/><circle cx="211.6" cy="724.1" r="2.7"/><circle cx="217.3" cy="725.5" r="2.7"/><circle cx="222.4" cy="726.0" r="2.7"/><circle cx="231.9" cy="726.0" r="2.7"/><circle cx="240.3" cy="724.7" r="2.7"/><circle cx="247.1" cy="723.2" r="2.7"/><circle cx="266.3" cy="723.6" r="2.7"/><circle cx="279.4" cy="725.1" r="2.7"/><circle cx="192.3" cy="726.0" r="2.7"/><circle cx="182.4" cy="727.9" r="2.7"/><circle cx="176.7" cy="728.9" r="2.7"/><circle cx="251.5" cy="727.9" r="2.7"/><circle cx="198.3" cy="730.4" r="2.7"/><circle cx="245.8" cy="732.7" r="2.7"/><circle cx="223.4" cy="734.2" r="2.7"/><circle cx="179.9" cy="741.8" r="2.7"/></g>
<g fill="#f0ab73" fill-opacity="0.72"><circle cx="178.8" cy="746.6" r="2.7"/><circle cx="191.5" cy="754.0" r="2.7"/><circle cx="205.1" cy="751.9" r="2.7"/><circle cx="236.3" cy="751.9" r="2.7"/><circle cx="270.3" cy="752.9" r="2.7"/><circle cx="273.4" cy="754.3" r="2.7"/></g>
<g fill="#5f8db7" fill-opacity="0.72"><circle cx="521.7" cy="530.6" r="2.7"/><circle cx="477.8" cy="572.8" r="2.7"/><circle cx="544.6" cy="587.2" r="2.7"/><circle cx="504.4" cy="604.5" r="2.7"/><circle cx="528.9" cy="617.0" r="2.7"/><circle cx="522.4" cy="620.8" r="2.7"/><circle cx="494.0" cy="619.6" r="2.7"/><circle cx="549.4" cy="622.7" r="2.7"/><circle cx="508.2" cy="628.7" r="2.7"/><circle cx="539.9" cy="633.3" r="2.7"/></g>
<g fill="#5f8db7" fill-opacity="0.72"><circle cx="557.2" cy="638.4" r="2.7"/><circle cx="477.5" cy="651.1" r="2.7"/><circle cx="499.3" cy="654.5" r="2.7"/><circle cx="510.5" cy="659.3" r="2.7"/><circle cx="500.0" cy="660.6" r="2.7"/><circle cx="552.6" cy="658.2" r="2.7"/><circle cx="567.0" cy="658.2" r="2.7"/><circle cx="454.9" cy="661.2" r="2.7"/><circle cx="491.5" cy="663.1" r="2.7"/><circle cx="480.9" cy="665.4" r="2.7"/><circle cx="511.6" cy="664.4" r="2.7"/><circle cx="500.0" cy="670.7" r="2.7"/><circle cx="498.1" cy="674.7" r="2.7"/><circle cx="456.4" cy="674.1" r="2.7"/><circle cx="534.8" cy="671.4" r="2.7"/><circle cx="541.4" cy="671.4" r="2.7"/><circle cx="542.9" cy="670.1" r="2.7"/><circle cx="527.0" cy="676.4" r="2.7"/><circle cx="532.3" cy="678.8" r="2.7"/><circle cx="537.4" cy="676.9" r="2.7"/><circle cx="544.3" cy="679.8" r="2.7"/><circle cx="547.3" cy="688.7" r="2.7"/><circle cx="560.4" cy="691.2" r="2.7"/><circle cx="481.4" cy="690.2" r="2.7"/><circle cx="483.0" cy="694.8" r="2.7"/><circle cx="487.1" cy="695.4" r="2.7"/><circle cx="491.5" cy="699.9" r="2.7"/><circle cx="505.4" cy="697.8" r="2.7"/><circle cx="508.2" cy="696.9" r="2.7"/><circle cx="511.8" cy="695.5" r="2.7"/><circle cx="514.3" cy="695.4" r="2.7"/><circle cx="535.3" cy="696.3" r="2.7"/><circle cx="536.3" cy="699.5" r="2.7"/><circle cx="542.4" cy="700.7" r="2.7"/><circle cx="548.1" cy="702.9" r="2.7"/><circle cx="559.6" cy="700.9" r="2.7"/><circle cx="563.4" cy="698.2" r="2.7"/><circle cx="519.2" cy="703.5" r="2.7"/><circle cx="510.1" cy="710.2" r="2.7"/><circle cx="509.7" cy="716.0" r="2.7"/><circle cx="461.7" cy="711.9" r="2.7"/><circle cx="496.8" cy="714.1" r="2.7"/><circle cx="553.4" cy="712.2" r="2.7"/><circle cx="567.0" cy="715.1" r="2.7"/><circle cx="460.6" cy="721.9" r="2.7"/><circle cx="470.4" cy="725.9" r="2.7"/><circle cx="457.5" cy="729.3" r="2.7"/><circle cx="503.5" cy="725.0" r="2.7"/><circle cx="508.2" cy="726.3" r="2.7"/><circle cx="513.7" cy="724.4" r="2.7"/><circle cx="527.9" cy="726.5" r="2.7"/><circle cx="555.5" cy="727.0" r="2.7"/><circle cx="484.1" cy="728.4" r="2.7"/><circle cx="483.0" cy="731.2" r="2.7"/><circle cx="494.3" cy="727.8" r="2.7"/><circle cx="495.9" cy="730.5" r="2.7"/><circle cx="473.5" cy="734.4" r="2.7"/><circle cx="522.2" cy="732.0" r="2.7"/></g>
<g fill="#f0ab73" fill-opacity="0.72"><circle cx="193.5" cy="479.8" r="2.7"/><circle cx="196.1" cy="479.8" r="2.7"/><circle cx="198.7" cy="479.8" r="2.7"/><circle cx="201.2" cy="479.8" r="2.7"/><circle cx="203.8" cy="479.8" r="2.7"/><circle cx="206.4" cy="479.8" r="2.7"/><circle cx="209.0" cy="479.8" r="2.7"/><circle cx="211.6" cy="479.8" r="2.7"/><circle cx="214.2" cy="479.8" r="2.7"/><circle cx="216.7" cy="479.8" r="2.7"/><circle cx="219.3" cy="479.8" r="2.7"/><circle cx="221.9" cy="479.8" r="2.7"/><circle cx="226.7" cy="479.8" r="2.7"/><circle cx="229.2" cy="479.8" r="2.7"/><circle cx="231.8" cy="479.8" r="2.7"/><circle cx="234.3" cy="479.8" r="2.7"/><circle cx="239.0" cy="479.8" r="2.7"/><circle cx="242.8" cy="479.8" r="2.7"/><circle cx="267.5" cy="479.8" r="2.7"/><circle cx="269.7" cy="479.8" r="2.7"/><circle cx="271.9" cy="479.8" r="2.7"/><circle cx="274.1" cy="479.8" r="2.7"/><circle cx="279.8" cy="479.8" r="2.7"/><circle cx="281.7" cy="479.8" r="2.7"/><circle cx="188.7" cy="479.6" r="2.7"/></g>
<g fill="#5f8db7" fill-opacity="0.72"><circle cx="459.5" cy="479.7" r="2.7"/><circle cx="462.1" cy="479.7" r="2.7"/><circle cx="464.8" cy="479.7" r="2.7"/><circle cx="467.4" cy="479.7" r="2.7"/><circle cx="470.1" cy="479.7" r="2.7"/><circle cx="472.8" cy="479.7" r="2.7"/><circle cx="475.4" cy="479.7" r="2.7"/><circle cx="478.1" cy="479.7" r="2.7"/><circle cx="480.7" cy="479.7" r="2.7"/><circle cx="483.4" cy="479.7" r="2.7"/><circle cx="486.0" cy="479.7" r="2.7"/><circle cx="490.8" cy="479.7" r="2.7"/><circle cx="493.0" cy="479.7" r="2.7"/><circle cx="495.2" cy="479.7" r="2.7"/><circle cx="497.4" cy="479.7" r="2.7"/><circle cx="509.8" cy="479.7" r="2.7"/><circle cx="512.6" cy="479.7" r="2.7"/><circle cx="515.5" cy="479.7" r="2.7"/><circle cx="516.4" cy="479.7" r="2.7"/><circle cx="519.5" cy="479.7" r="2.7"/><circle cx="522.6" cy="479.7" r="2.7"/><circle cx="525.7" cy="479.7" r="2.7"/><circle cx="528.8" cy="479.7" r="2.7"/><circle cx="531.8" cy="479.7" r="2.7"/><circle cx="534.9" cy="479.7" r="2.7"/><circle cx="538.0" cy="479.7" r="2.7"/><circle cx="541.1" cy="479.7" r="2.7"/><circle cx="547.7" cy="479.7" r="2.7"/><circle cx="550.2" cy="479.7" r="2.7"/><circle cx="552.6" cy="479.7" r="2.7"/><circle cx="555.1" cy="479.7" r="2.7"/><circle cx="557.5" cy="479.7" r="2.7"/><circle cx="560.0" cy="479.7" r="2.7"/></g>
<path d="M139.4,387.6H310.9" stroke="#f0a265" stroke-width="3.7"/>
<text x="137.3" y="389.1" class="mn" text-anchor="end">39.7%</text>
<path d="M425.3,380.8H596.2" stroke="#3f7fad" stroke-width="3.7"/>
<text x="422.6" y="382.5" class="mn" text-anchor="end">42.6%</text>
<path d="M139.4,672.5H310.9" stroke="#f0a265" stroke-width="3.7"/>
<text x="137.2" y="674.2" class="mn" text-anchor="end">38.9</text>
<path d="M425.3,660.3H596.2" stroke="#3f7fad" stroke-width="3.7"/>
<text x="423.6" y="662.3" class="mn" text-anchor="end">44.1</text>
<path d="M156.2,255.65L170.8,248.1M184.3,278.8L190.9,248.8M251.2,248.5L289.8,263.2M278.5,397.3L296.1,396.6M267.6,427.7L287.9,426.1M238.2,432.6L244.8,433.0M189.6,454.9L198.8,462.4M175.6,471.7L187.1,478.7M168.6,482.2L179.6,479.9M460.5,244.5L492.1,247.3M489.3,257.4L497.9,248.5M488.6,305.7L516.1,295.5M540.2,363.4L588.1,347.5M568.9,366.7L579.9,366.7M551.2,385.1L601.6,393.1M555.3,450.2L556.7,479.2M502.2,467.5L526.3,479.2M568.8,479.9L585.2,476.4M190.4,628.7L183.7,631.1M282.4,632.5L276.7,635.9M206.0,654.3L211.1,657.1M245.4,653.5L241.6,668.7M206.5,666.5L219.3,664.4M259.6,684.7L250.5,692.1M236.0,738.5L237.0,715.8M286.8,742.0L243.7,716.5M181.3,755.4L198.5,730.8M525.7,596.9L528.1,614.9M487.7,615.8L492.8,619.1M497.8,629.1L506.1,628.6M500.4,647.3L499.3,653.0M557.0,654.0L553.2,657.4M473.5,679.6L490.5,663.8M543.7,669.9L568.9,679.2M511.8,716.0L604.4,725.2M491.5,738.4L495.5,731.8" stroke="#000" stroke-width="1.35" fill="none"/>
<text x="125.8" y="264.6" class="lb">Martinique</text>
<text x="163.8" y="288.9" class="lb">Anguilla</text>
<text x="291.9" y="270.7" class="lb">Barbados</text>
<text x="297.2" y="400.1" class="lb">Tonga</text>
<text x="290.9" y="428.9" class="lb">Republic of the Congo</text>
<text x="192.0" y="435.5" class="lb">Venezuela</text>
<text x="174.2" y="452.0" class="lb">Haiti</text>
<text x="109.5" y="471.0" class="lb">New Caledonia</text>
<text x="96.0" y="485.5" class="lb">Solomon Islands</text>
<text x="432.7" y="247.8" class="lb">Tonga</text>
<text x="398.9" y="264.2" class="lb">Republic of the Congo</text>
<text x="441.9" y="309.9" class="lb">Venezuela</text>
<text x="591.1" y="349.4" class="lb">New Caledonia</text>
<text x="582.7" y="369.2" class="lb">Haiti</text>
<text x="604.0" y="396.1" class="lb">Solomon Islands</text>
<text x="547.1" y="448.5" class="lb">Anguilla</text>
<text x="454.8" y="469.5" class="lb">Martinique</text>
<text x="573.5" y="473.6" class="lb">Barbados</text>
<text x="158.5" y="626.0" class="lb">Republic of the Congo</text>
<text x="270.1" y="630.2" class="lb">Australia</text>
<text x="157.9" y="652.7" class="lb">Costa Rica</text>
<text x="240.7" y="650.1" class="lb">Equatorial Guinea</text>
<text x="171.9" y="668.4" class="lb">Guyana</text>
<text x="261.0" y="688.6" class="lb">Malaysia</text>
<text x="222.6" y="747.3" class="lb">DR Congo</text>
<text x="289.6" y="746.6" class="lb">Peru</text>
<text x="112.0" y="763.4" class="lb">American Samoa</text>
<text x="499.1" y="593.1" class="lb">Australia</text>
<text x="465.5" y="616.4" class="lb">Peru</text>
<text x="401.5" y="632.0" class="lb">Republic of the Congo</text>
<text x="494.7" y="644.2" class="lb">Malaysia</text>
<text x="534.2" y="651.7" class="lb">Costa Rica</text>
<text x="443.5" y="685.9" class="lb">Guyana</text>
<text x="570.5" y="683.4" class="lb">Equatorial Guinea</text>
<text x="607.5" y="728.7" class="lb">DR Congo</text>
<text x="455.4" y="745.5" class="lb">American Samoa</text>
<rect x="54.4" y="236.3" width="627.1" height="254.9" fill="none" stroke="#444" stroke-width="1.1"/>
<path d="M50.5,249.5H54.4" stroke="#333" stroke-width="1.1"/>
<text x="47.6" y="254.3" class="tk" text-anchor="end">100</text>
<path d="M50.5,305.4H54.4" stroke="#333" stroke-width="1.1"/>
<text x="47.6" y="310.2" class="tk" text-anchor="end">75</text>
<path d="M50.5,363.5H54.4" stroke="#333" stroke-width="1.1"/>
<text x="47.6" y="368.3" class="tk" text-anchor="end">50</text>
<path d="M50.5,421.6H54.4" stroke="#333" stroke-width="1.1"/>
<text x="47.6" y="426.4" class="tk" text-anchor="end">25</text>
<path d="M50.5,479.3H54.4" stroke="#333" stroke-width="1.1"/>
<text x="47.6" y="484.1" class="tk" text-anchor="end">0</text>
<text x="8.0" y="233.2" class="ax" style="font-size:17.6px">c</text>
<text transform="translate(14.1,365.0) rotate(-90)" class="ax" text-anchor="middle">Mangrove area selected (%)</text>
<text x="227.2" y="509.8" class="ax" text-anchor="middle">Climate−naïve</text>
<text x="513.4" y="509.8" class="ax" text-anchor="middle">Climate−smart</text>
<rect x="54.4" y="519.7" width="627.1" height="254.5" fill="none" stroke="#444" stroke-width="1.1"/>
<path d="M50.5,530.6H54.4" stroke="#333" stroke-width="1.1"/>
<text x="47.6" y="535.4" class="tk" text-anchor="end">100</text>
<path d="M50.5,588.7H54.4" stroke="#333" stroke-width="1.1"/>
<text x="47.6" y="593.5" class="tk" text-anchor="end">75</text>
<path d="M50.5,646.8H54.4" stroke="#333" stroke-width="1.1"/>
<text x="47.6" y="651.6" class="tk" text-anchor="end">50</text>
<path d="M50.5,704.9H54.4" stroke="#333" stroke-width="1.1"/>
<text x="47.6" y="709.7" class="tk" text-anchor="end">25</text>
<path d="M50.5,763.0H54.4" stroke="#333" stroke-width="1.1"/>
<text x="47.6" y="767.8" class="tk" text-anchor="end">0</text>
<text x="9.0" y="508.0" class="ax" style="font-size:17.6px">d</text>
<text transform="translate(14.1,648.1) rotate(-90)" class="ax" text-anchor="middle">Area−weighted climate resilience</text>
<text x="227.2" y="792.6" class="ax" text-anchor="middle">Climate−naïve</text>
<text x="513.4" y="792.6" class="ax" text-anchor="middle">Climate−smart</text>
</svg></body></html>
